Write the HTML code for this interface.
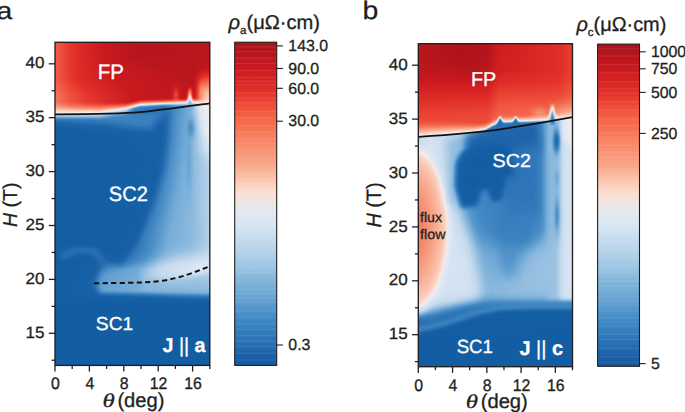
<!DOCTYPE html><html><head><meta charset="utf-8"><style>
html,body{margin:0;padding:0;background:#fff;width:685px;height:412px;overflow:hidden}
.hm{position:absolute;overflow:hidden}
.hm i{position:absolute;left:0;width:100%;height:1px;display:block}
svg{position:absolute;left:0;top:0}
</style></head><body>
<div class="hm" style="left:55px;top:42px;width:155px;height:324px"><i style="top:0px;background:linear-gradient(90deg,#f25e47 0.5px,#e83d31 12.5px,#de2c28 22.5px,#ca191f 50.5px,#b9161c 87.5px,#be171d 154.5px)"></i><i style="top:1px;background:linear-gradient(90deg,#f25e47 0.5px,#e83d31 12.5px,#de2c28 22.5px,#c9191f 50.5px,#b8161c 87.5px,#be171d 154.5px)"></i><i style="top:2px;background:linear-gradient(90deg,#f25e47 0.5px,#e83d31 12.5px,#de2c28 22.5px,#c9191f 50.5px,#b8161c 86.5px,#bc171d 144.5px,#bd171d 154.5px)"></i><i style="top:3px;background:linear-gradient(90deg,#f25e47 0.5px,#e83d31 12.5px,#de2c28 22.5px,#c9191f 50.5px,#b7151c 86.5px,#bc161d 141.5px,#bd171d 154.5px)"></i><i style="top:4px;background:linear-gradient(90deg,#f25e47 0.5px,#e83d31 12.5px,#de2c28 22.5px,#c8191f 50.5px,#b7151c 86.5px,#bb161d 138.5px,#bd171d 154.5px)"></i><i style="top:5px;background:linear-gradient(90deg,#f25e47 0.5px,#e83d31 12.5px,#de2c28 22.5px,#c9191f 49.5px,#b6151c 85.5px,#b9161c 130.5px,#bd171d 154.5px)"></i><i style="top:6px;background:linear-gradient(90deg,#f25e47 0.5px,#e83d31 12.5px,#de2c28 22.5px,#c9191f 49.5px,#b6151c 84.5px,#b8161c 125.5px,#bd171d 154.5px)"></i><i style="top:7px;background:linear-gradient(90deg,#f25e47 0.5px,#e83d31 12.5px,#de2c28 22.5px,#c9191f 49.5px,#b6151c 84.5px,#b8161c 124.5px,#bd171d 154.5px)"></i><i style="top:8px;background:linear-gradient(90deg,#f25e47 0.5px,#e83d31 12.5px,#de2c28 22.5px,#c9191f 49.5px,#b6151c 84.5px,#b8161c 124.5px,#bd171d 154.5px)"></i><i style="top:9px;background:linear-gradient(90deg,#f15d46 0.5px,#e83d31 12.5px,#de2c28 22.5px,#c9191f 49.5px,#b5151c 84.5px,#b8151c 124.5px,#bd171d 154.5px)"></i><i style="top:10px;background:linear-gradient(90deg,#f15d46 0.5px,#e83d31 12.5px,#de2c28 22.5px,#c9191f 49.5px,#b5151c 84.5px,#b8151c 124.5px,#bd171d 154.5px)"></i><i style="top:11px;background:linear-gradient(90deg,#f25e47 0.5px,#e83d31 12.5px,#de2c28 22.5px,#c9191f 49.5px,#b6151c 84.5px,#b8161c 125.5px,#bd171d 154.5px)"></i><i style="top:12px;background:linear-gradient(90deg,#f25e47 0.5px,#e83d31 12.5px,#de2c28 22.5px,#c9191f 49.5px,#b6151c 84.5px,#b8161c 127.5px,#bd171d 154.5px)"></i><i style="top:13px;background:linear-gradient(90deg,#f25e47 0.5px,#e83d31 12.5px,#de2c28 22.5px,#c9191f 49.5px,#b6151c 84.5px,#b9161c 143.5px,#bc171d 154.5px)"></i><i style="top:14px;background:linear-gradient(90deg,#f25e47 0.5px,#e83d31 12.5px,#de2c28 22.5px,#c9191f 49.5px,#b6151c 85.5px,#bb161d 149.5px,#bc171d 154.5px)"></i><i style="top:15px;background:linear-gradient(90deg,#f25e47 0.5px,#e83d31 12.5px,#de2c28 22.5px,#c8191f 50.5px,#b7151c 86.5px,#bc161d 152.5px,#bc171d 154.5px)"></i><i style="top:16px;background:linear-gradient(90deg,#f25e47 0.5px,#e83d31 12.5px,#de2c28 22.5px,#c9191f 50.5px,#b7151c 86.5px,#bb161d 150.5px,#bc161d 154.5px)"></i><i style="top:17px;background:linear-gradient(90deg,#f25e47 0.5px,#e83d31 12.5px,#de2c28 22.5px,#c9191f 50.5px,#b8161c 86.5px,#ba161d 149.5px,#bc161d 154.5px)"></i><i style="top:18px;background:linear-gradient(90deg,#f25e47 0.5px,#e83d31 12.5px,#de2c28 22.5px,#c9191f 50.5px,#b8161c 87.5px,#ba161d 149.5px,#bc161d 154.5px)"></i><i style="top:19px;background:linear-gradient(90deg,#f25e47 0.5px,#e83d31 12.5px,#de2c28 22.5px,#ca191f 50.5px,#b9161c 87.5px,#b9161c 148.5px,#bc161d 154.5px)"></i><i style="top:20px;background:linear-gradient(90deg,#f25e47 0.5px,#e83d31 12.5px,#de2c28 22.5px,#c9191f 51.5px,#ba161c 88.5px,#b9161c 147.5px,#bc161d 154.5px)"></i><i style="top:21px;background:linear-gradient(90deg,#f25e47 0.5px,#e83d31 12.5px,#de2c28 22.5px,#ca191f 51.5px,#ba161d 89.5px,#b7151c 136.5px,#bd171d 154.5px)"></i><i style="top:22px;background:linear-gradient(90deg,#f25e47 0.5px,#e83d31 12.5px,#de2c28 22.5px,#ca1a1f 51.5px,#bb161d 89.5px,#b7151c 134.5px,#bb161d 148.5px,#be171d 154.5px)"></i><i style="top:23px;background:linear-gradient(90deg,#f25e47 0.5px,#e83d31 12.5px,#de2c28 22.5px,#ca1a1f 52.5px,#bb161d 91.5px,#b8161c 133.5px,#b9161c 144.5px,#c0171d 154.5px)"></i><i style="top:24px;background:linear-gradient(90deg,#f25e47 0.5px,#e83d31 12.5px,#de2c28 22.5px,#ca1a1f 52.5px,#bc161d 92.5px,#b8161c 132.5px,#b8161c 142.5px,#c2181e 154.5px)"></i><i style="top:25px;background:linear-gradient(90deg,#f25e47 0.5px,#e83d31 12.5px,#de2c28 22.5px,#cb1a1f 52.5px,#bd171d 92.5px,#b8161c 132.5px,#b8151c 141.5px,#c6191e 154.5px)"></i><i style="top:26px;background:linear-gradient(90deg,#f25e47 0.5px,#e83d31 12.5px,#de2c28 22.5px,#cb1a1f 52.5px,#bd171d 93.5px,#b9161c 131.5px,#b7151c 140.5px,#c9191f 153.5px,#c9191f 154.5px)"></i><i style="top:27px;background:linear-gradient(90deg,#f25e47 0.5px,#e83d31 12.5px,#de2c28 22.5px,#cb1a1f 53.5px,#be171d 95.5px,#b9161c 131.5px,#b8151c 140.5px,#cc1a1f 152.5px,#cd1b1f 154.5px)"></i><i style="top:28px;background:linear-gradient(90deg,#f25e47 0.5px,#e83d31 12.5px,#df2d28 22.5px,#cb1a1f 53.5px,#be171d 96.5px,#b9161c 131.5px,#b7151c 139.5px,#ce1c20 150.5px,#d01e21 154.5px)"></i><i style="top:29px;background:linear-gradient(90deg,#f25e47 0.5px,#e83d31 12.5px,#df2d28 22.5px,#cb1a1f 53.5px,#bf171d 97.5px,#ba161c 131.5px,#b8151c 139.5px,#d01e21 149.5px,#d42223 154.5px)"></i><i style="top:30px;background:linear-gradient(90deg,#f25e47 0.5px,#e83d31 12.5px,#df2d28 22.5px,#cb1a1f 53.5px,#bf171d 98.5px,#ba161c 131.5px,#b8161c 139.5px,#d01e21 147.5px,#d72525 154.5px)"></i><i style="top:31px;background:linear-gradient(90deg,#f25e47 0.5px,#e83d31 12.5px,#df2d28 22.5px,#cc1a1f 53.5px,#bf171d 99.5px,#ba161d 131.5px,#b9161c 139.5px,#cf1d20 145.5px,#db2926 152.5px,#db2927 154.5px)"></i><i style="top:32px;background:linear-gradient(90deg,#f25e47 0.5px,#e83d32 12.5px,#df2d28 22.5px,#cc1a1f 53.5px,#c0171d 99.5px,#ba161c 132.5px,#b8161c 138.5px,#c5181e 142.5px,#d82625 147.5px,#df2d29 154.5px)"></i><i style="top:33px;background:linear-gradient(90deg,#f25e47 0.5px,#e83d32 12.5px,#df2d28 22.5px,#cc1a1f 54.5px,#c0171d 102.5px,#ba161c 133.5px,#b9161c 138.5px,#c7191e 142.5px,#dc2a27 147.5px,#e3322b 153.5px,#e3332c 154.5px)"></i><i style="top:34px;background:linear-gradient(90deg,#f25e47 0.5px,#e83e32 12.5px,#df2d28 22.5px,#cc1a1f 54.5px,#c0171d 102.5px,#ba161c 133.5px,#b9161c 138.5px,#ca1a1f 142.5px,#e02e29 147.5px,#e63a2f 152.5px,#e73b30 154.5px)"></i><i style="top:35px;background:linear-gradient(90deg,#f25f47 0.5px,#e94033 11.5px,#df2d29 22.5px,#cc1a1f 55.5px,#c0171d 104.5px,#ba161c 134.5px,#ba161d 138.5px,#c6191e 141.5px,#d82625 144.5px,#e4352d 147.5px,#e94134 151.5px,#ea4234 154.5px)"></i><i style="top:36px;background:linear-gradient(90deg,#f25f48 0.5px,#e94134 11.5px,#e02e29 22.5px,#cc1a1f 55.5px,#c0171d 103.5px,#ba161c 135.5px,#bb161d 138.5px,#cf1d21 142.5px,#e5382e 146.5px,#ed4938 151.5px,#ee4a39 154.5px)"></i><i style="top:37px;background:linear-gradient(90deg,#f26048 0.5px,#e94033 12.5px,#df2d29 23.5px,#cc1a1f 57.5px,#c0171d 105.5px,#bc161d 138.5px,#cb1a1f 141.5px,#e5382e 145.5px,#ed4938 148.5px,#f0523d 152.5px,#f0523e 154.5px)"></i><i style="top:38px;background:linear-gradient(90deg,#f26149 0.5px,#ea4335 11.5px,#e02e29 23.5px,#cc1a1f 58.5px,#c1171d 105.5px,#bb161d 134.5px,#bc171d 138.5px,#cd1b20 141.5px,#e4342c 144.5px,#ed4938 146.5px,#f15943 151.5px,#f15a44 154.5px)"></i><i style="top:39px;background:linear-gradient(90deg,#f2624a 0.5px,#eb4435 11.5px,#e02e29 24.5px,#cc1a1f 60.5px,#c1171d 105.5px,#bd171d 130.5px,#bd171d 138.5px,#cf1d20 141.5px,#df2d29 143.5px,#ed4938 145.5px,#f15641 147.5px,#f2624a 152.5px,#f2624a 154.5px)"></i><i style="top:40px;background:linear-gradient(90deg,#f2634b 0.5px,#ea4335 12.5px,#df2d29 25.5px,#cb1a1f 63.5px,#c1171d 107.5px,#c0171d 124.5px,#bc161d 137.5px,#c9191f 140.5px,#d92725 142.5px,#e3322b 143.5px,#f0513d 145.5px,#f25e47 147.5px,#f36a50 152.5px,#f36a50 154.5px)"></i><i style="top:41px;background:linear-gradient(90deg,#f2654c 0.5px,#eb4536 12.5px,#df2d29 26.5px,#cb1a1f 65.5px,#c1171d 107.5px,#c1181e 123.5px,#bc161d 137.5px,#cb1a1f 140.5px,#db2927 142.5px,#ee4a39 144.5px,#f15943 145.5px,#f2664d 147.5px,#f47256 152.5px,#f47256 154.5px)"></i><i style="top:42px;background:linear-gradient(90deg,#f2664d 0.5px,#ec4636 12.5px,#e02e29 26.5px,#cb1a1f 67.5px,#c1171d 108.5px,#c3181e 118.5px,#c5181e 122.5px,#be171d 130.5px,#bf171d 138.5px,#cc1a1f 140.5px,#de2c28 142.5px,#f0523d 144.5px,#f26149 145.5px,#f36e53 147.5px,#f47b5e 152.5px,#f47b5f 154.5px)"></i><i style="top:43px;background:linear-gradient(90deg,#f3684e 0.5px,#ec4837 12.5px,#e02e29 27.5px,#ca1a1f 69.5px,#c1171d 108.5px,#c3181e 117.5px,#c9191f 121.5px,#bf171d 127.5px,#bf171d 136.5px,#c0171d 138.5px,#cd1b20 140.5px,#e02e29 142.5px,#f15943 144.5px,#f3684f 145.5px,#f47559 147.5px,#f58467 151.5px,#f58467 154.5px)"></i><i style="top:44px;background:linear-gradient(90deg,#f36950 0.5px,#ec4737 13.5px,#e12f29 28.5px,#ca191f 71.5px,#c1171d 109.5px,#c4181e 117.5px,#cd1b20 120.5px,#c7191e 123.5px,#bf171d 127.5px,#c1181d 132.5px,#ca191f 134.5px,#c0171d 137.5px,#c7191e 139.5px,#ce1c20 140.5px,#e3312b 142.5px,#ed4938 143.5px,#f25f48 144.5px,#f36f54 145.5px,#f4795c 146.5px,#f58d6f 151.5px,#f58d70 154.5px)"></i><i style="top:45px;background:linear-gradient(90deg,#f36b51 0.5px,#ed4938 13.5px,#e12f29 29.5px,#c9191f 73.5px,#c0171d 111.5px,#c2181e 116.5px,#d11f21 120.5px,#c9191f 123.5px,#c0171d 126.5px,#c0171d 131.5px,#ce1c20 133.5px,#d52323 134.5px,#d42223 135.5px,#cc1a1f 136.5px,#c3181e 137.5px,#c2181e 138.5px,#cf1d21 140.5px,#d92725 141.5px,#e4352d 142.5px,#ef4e3b 143.5px,#f2654c 144.5px,#f47559 145.5px,#f58063 146.5px,#f69578 151.5px,#f69678 154.5px)"></i><i style="top:46px;background:linear-gradient(90deg,#f36c52 0.5px,#ed4838 14.5px,#e12f29 30.5px,#c9191f 74.5px,#c1171d 110.5px,#c3181e 116.5px,#d22022 119.5px,#d52324 121.5px,#c6191e 124.5px,#bf171d 128.5px,#c1181d 131.5px,#ca1a1f 132.5px,#e3312b 134.5px,#e12f29 135.5px,#c7191e 137.5px,#c3181e 138.5px,#d01e21 140.5px,#da2826 141.5px,#e6382f 142.5px,#f0523e 143.5px,#f36a50 144.5px,#f47c5f 145.5px,#f58669 146.5px,#f69d80 151.5px,#f69e80 154.5px)"></i><i style="top:47px;background:linear-gradient(90deg,#f36e53 0.5px,#ed4a38 14.5px,#e12f2a 31.5px,#c9191f 75.5px,#c1171d 110.5px,#c4181e 116.5px,#cf1d21 118.5px,#da2826 120.5px,#d52324 122.5px,#c8191e 124.5px,#c0171d 127.5px,#c3181e 131.5px,#ce1c20 132.5px,#e12f29 133.5px,#ed4938 134.5px,#eb4435 135.5px,#db2927 136.5px,#cb1a1f 137.5px,#c4181e 138.5px,#d11f22 140.5px,#db2927 141.5px,#e73b30 142.5px,#f15640 143.5px,#f58164 145.5px,#f58b6e 146.5px,#f7a488 151.5px,#f7a589 154.5px)"></i><i style="top:48px;background:linear-gradient(90deg,#f36f54 0.5px,#ed4938 15.5px,#e12f29 33.5px,#c9191f 76.5px,#c1171d 111.5px,#c4181e 116.5px,#d22022 118.5px,#df2d29 120.5px,#df2d29 121.5px,#ca1a1f 124.5px,#c1181d 126.5px,#c0171d 130.5px,#c4181e 131.5px,#d22022 132.5px,#e73d31 133.5px,#f25f48 134.5px,#f15943 135.5px,#e2312b 136.5px,#ce1c20 137.5px,#c6191e 138.5px,#ca1a1f 139.5px,#dc2a27 141.5px,#e83e32 142.5px,#f15943 143.5px,#f58568 145.5px,#f59072 146.5px,#f7a083 149.5px,#f7aa8f 151.5px,#f8ab90 154.5px)"></i><i style="top:49px;background:linear-gradient(90deg,#f47155 0.5px,#ee4b39 15.5px,#e2302a 33.5px,#c8191e 77.5px,#c1171d 111.5px,#c2181e 115.5px,#cc1a1f 117.5px,#e3332c 120.5px,#e3332c 121.5px,#cc1a1f 124.5px,#c1181d 126.5px,#c0171d 130.5px,#c6191e 131.5px,#d62424 132.5px,#ee4b39 133.5px,#f47458 134.5px,#f36d52 135.5px,#e83e32 136.5px,#d11f22 137.5px,#c7191e 138.5px,#cb1a1f 139.5px,#dd2b28 141.5px,#e94033 142.5px,#f15b45 143.5px,#f5886b 145.5px,#f69375 146.5px,#f7a589 149.5px,#f8b096 151.5px,#f8b197 154.5px)"></i><i style="top:50px;background:linear-gradient(90deg,#f47256 0.5px,#ee4c3a 15.5px,#e2302a 34.5px,#c9191f 77.5px,#c1171d 110.5px,#c2181e 115.5px,#cd1b20 117.5px,#e12f29 119.5px,#e73b30 120.5px,#e73a30 121.5px,#d62424 123.5px,#cd1b20 124.5px,#c1181e 126.5px,#c1171d 130.5px,#c8191e 131.5px,#da2826 132.5px,#f15a43 133.5px,#f58c6f 134.5px,#f58366 135.5px,#ee4b39 136.5px,#d42223 137.5px,#c9191f 138.5px,#cb1a1f 139.5px,#de2c28 141.5px,#ea4234 142.5px,#f15d46 143.5px,#f58a6d 145.5px,#f69b7d 147.5px,#f9b69d 151.5px,#f9b79e 154.5px)"></i><i style="top:51px;background:linear-gradient(90deg,#f47357 0.5px,#ef4d3a 15.5px,#e2302a 35.5px,#c8191e 78.5px,#c1171d 111.5px,#c2181e 115.5px,#ce1c20 117.5px,#e3322b 119.5px,#e94033 120.5px,#e94033 121.5px,#e3322b 122.5px,#ce1c20 124.5px,#c2181e 126.5px,#c1181e 130.5px,#ca1a1f 131.5px,#df2d29 132.5px,#f3684f 133.5px,#f7a286 134.5px,#f69a7c 135.5px,#f15842 136.5px,#d82625 137.5px,#cb1a1f 138.5px,#cc1a1f 139.5px,#df2d28 141.5px,#ea4335 142.5px,#f4775b 144.5px,#f58c6e 145.5px,#f69d80 147.5px,#f9b69d 150.5px,#f9bca4 152.5px,#f9bca4 154.5px)"></i><i style="top:52px;background:linear-gradient(90deg,#f47458 0.5px,#ef4e3b 15.5px,#e2312b 35.5px,#c8191e 78.5px,#c1171d 109.5px,#c2181e 115.5px,#cf1d20 117.5px,#e4352d 119.5px,#ea4334 120.5px,#ea4334 121.5px,#e4352d 122.5px,#ce1c20 124.5px,#c2181e 126.5px,#c2181e 130.5px,#cd1b1f 131.5px,#e4342d 132.5px,#f4795d 133.5px,#f9b79e 134.5px,#f8ad93 135.5px,#f2664d 136.5px,#dd2b27 137.5px,#cd1b1f 138.5px,#cd1b1f 139.5px,#df2d29 141.5px,#ea4335 142.5px,#f4775b 144.5px,#f58c6f 145.5px,#f69f82 147.5px,#f9baa2 150.5px,#f9bfa9 151.5px,#f9c0aa 154.5px)"></i><i style="top:53px;background:linear-gradient(90deg,#f4765a 0.5px,#f0513d 14.5px,#e3332c 34.5px,#c9191f 77.5px,#c1181d 106.5px,#c2181e 115.5px,#cf1d20 117.5px,#e4352d 119.5px,#ea4334 120.5px,#ea4334 121.5px,#e4352d 122.5px,#ce1c20 124.5px,#c2181e 126.5px,#c0171d 129.5px,#c3181e 130.5px,#cf1d21 131.5px,#e83f32 132.5px,#f58e70 133.5px,#facdba 134.5px,#fac2ad 135.5px,#f4765a 136.5px,#e2302a 137.5px,#ce1c20 138.5px,#cd1b20 139.5px,#df2d29 141.5px,#eb4435 142.5px,#f4775a 144.5px,#f58c6e 145.5px,#f7a184 147.5px,#f9bea6 150.5px,#fac3ae 151.5px,#fac4af 154.5px)"></i><i style="top:54px;background:linear-gradient(90deg,#f4775b 0.5px,#f0523e 14.5px,#e4342c 34.5px,#c9191f 77.5px,#c1181d 105.5px,#c2181e 115.5px,#ce1c20 117.5px,#e3322b 119.5px,#e94033 120.5px,#e94033 121.5px,#e3322b 122.5px,#ce1c20 124.5px,#c2181e 126.5px,#c0171d 129.5px,#c4181e 130.5px,#d22022 131.5px,#ee4a39 132.5px,#f7a487 133.5px,#f7e2da 134.5px,#fad9cc 135.5px,#f58b6e 136.5px,#e63a2f 137.5px,#d11f21 138.5px,#ce1c20 139.5px,#df2d29 141.5px,#eb4435 142.5px,#f47559 144.5px,#f58b6d 145.5px,#f9b79e 149.5px,#fac6b2 151.5px,#fac7b3 154.5px)"></i><i style="top:55px;background:linear-gradient(90deg,#f4775b 0.5px,#f0533e 14.5px,#e4352d 34.5px,#c9191f 77.5px,#c1181d 104.5px,#c2181e 115.5px,#cd1b20 117.5px,#e12f29 119.5px,#e73b30 120.5px,#e73b30 121.5px,#d62424 123.5px,#cd1b20 124.5px,#c2181e 126.5px,#c0171d 129.5px,#c5181e 130.5px,#d52324 131.5px,#f15742 132.5px,#f9b9a1 133.5px,#e8ebf2 134.5px,#f1eae9 135.5px,#f7a285 136.5px,#ec4737 137.5px,#d52324 138.5px,#d11f22 139.5px,#e12f2a 141.5px,#f15d46 143.5px,#f5896c 145.5px,#f8ae93 148.5px,#fac3ae 150.5px,#fac9b5 151.5px,#facab6 154.5px)"></i><i style="top:56px;background:linear-gradient(90deg,#f4785c 0.5px,#f0533f 14.5px,#e4352d 34.5px,#ca191f 77.5px,#c3181e 98.5px,#ca1a1f 115.5px,#d22022 117.5px,#e73c31 120.5px,#e83d31 121.5px,#d32123 124.5px,#cd1b1f 127.5px,#ce1c20 129.5px,#d32123 130.5px,#e3322b 131.5px,#f47156 132.5px,#fbd5c5 133.5px,#dae6f3 134.5px,#e0e8f3 135.5px,#f9bfa9 136.5px,#f2654c 137.5px,#e5382e 138.5px,#e12f2a 139.5px,#e5362e 140.5px,#f15540 142.5px,#f59072 145.5px,#fac6b1 150.5px,#facbb8 151.5px,#facbb9 154.5px)"></i><i style="top:57px;background:linear-gradient(90deg,#f4785c 0.5px,#f15640 13.5px,#e5362e 33.5px,#ca1a1f 76.5px,#c9191f 83.5px,#cd1b20 88.5px,#dc2a27 115.5px,#e2302a 117.5px,#ef4f3b 120.5px,#f04f3c 121.5px,#e4362d 124.5px,#e2302a 126.5px,#e4342c 129.5px,#e83d31 130.5px,#f15943 131.5px,#f69c7e 132.5px,#f0eaeb 133.5px,#caddef 134.5px,#d0e0f1 135.5px,#f8dfd5 136.5px,#f69173 137.5px,#f26149 138.5px,#f15842 139.5px,#f2644b 141.5px,#f36f54 142.5px,#f69f82 145.5px,#faccb9 150.5px,#fad0bf 151.5px,#facfbd 154.5px)"></i><i style="top:58px;background:linear-gradient(90deg,#f4785c 0.5px,#f15640 13.5px,#e5372e 33.5px,#ca1a1f 76.5px,#cd1b20 80.5px,#dd2b27 86.5px,#e5362d 99.5px,#f0543f 116.5px,#f36d53 120.5px,#f36b51 122.5px,#f25f48 125.5px,#f2654c 129.5px,#f36e53 130.5px,#f58d6f 131.5px,#fac7b2 132.5px,#dde7f3 133.5px,#b7d2ea 134.5px,#bed6ec 135.5px,#e4eaf2 136.5px,#f9c1ab 137.5px,#f69b7d 138.5px,#f59072 139.5px,#f69476 141.5px,#f8ac91 144.5px,#fbd4c4 150.5px,#fbd6c7 152.5px,#fbd4c4 154.5px)"></i><i style="top:59px;background:linear-gradient(90deg,#f4795d 0.5px,#f15641 13.5px,#e5372e 33.5px,#cd1b1f 73.5px,#d42223 78.5px,#e4342c 82.5px,#ee4c3a 85.5px,#f47156 106.5px,#f69174 117.5px,#f7a083 120.5px,#f7a184 126.5px,#f7a88d 129.5px,#f8b198 130.5px,#fac9b5 131.5px,#eeebec 132.5px,#caddef 133.5px,#a4c7e5 134.5px,#aacae6 135.5px,#d1e1f1 136.5px,#efeaec 137.5px,#fbd8ca 138.5px,#fbd1c0 139.5px,#facab7 142.5px,#fbd8ca 148.5px,#f9ded4 151.5px,#fadbcf 154.5px)"></i><i style="top:60px;background:linear-gradient(90deg,#f47d61 0.5px,#f2664d 8.5px,#ec4837 24.5px,#de2c28 50.5px,#d42223 71.5px,#dd2b27 76.5px,#e83e32 79.5px,#f15b44 82.5px,#f4795d 85.5px,#f7a487 101.5px,#fac9b5 113.5px,#f8dfd5 122.5px,#f3eae7 128.5px,#eaebf0 130.5px,#e2e9f2 131.5px,#d1e1f1 132.5px,#94bee0 134.5px,#98c0e1 135.5px,#b9d3ea 136.5px,#d2e1f1 137.5px,#dde7f3 138.5px,#edebee 143.5px,#f5e8e4 148.5px,#f7e4dc 154.5px)"></i><i style="top:61px;background:linear-gradient(90deg,#f58367 0.5px,#f36c52 8.5px,#ee4b39 27.5px,#e12f2a 57.5px,#df2d28 70.5px,#e6392f 74.5px,#f15b45 78.5px,#f47155 80.5px,#f69d80 83.5px,#f8ac91 84.5px,#f8b59c 85.5px,#f9ded3 99.5px,#f2eae9 104.5px,#e7ebf2 107.5px,#d6e4f2 118.5px,#c9dcef 130.5px,#c5daee 131.5px,#b7d2ea 132.5px,#8ab9de 134.5px,#8ebbdf 135.5px,#a7c9e5 136.5px,#bad4eb 137.5px,#c5daee 138.5px,#e1e8f3 143.5px,#eeebec 149.5px,#f1eae9 154.5px)"></i><i style="top:62px;background:linear-gradient(90deg,#f58b6e 0.5px,#f36f54 10.5px,#f0523e 30.5px,#ea4134 52.5px,#eb4435 69.5px,#f15741 73.5px,#f47155 76.5px,#f69c7e 79.5px,#fac8b5 82.5px,#fad9cb 83.5px,#f6e7e2 84.5px,#eeebec 85.5px,#e6eaf2 88.5px,#cedff0 97.5px,#bcd4eb 102.5px,#99c1e2 110.5px,#97c0e1 114.5px,#9dc3e3 121.5px,#9ac1e2 132.5px,#80b3db 134.5px,#83b5dc 135.5px,#a2c6e4 137.5px,#b1cee8 139.5px,#d1e1f1 142.5px,#e2e9f2 145.5px,#efeaec 151.5px,#efeaeb 154.5px)"></i><i style="top:63px;background:linear-gradient(90deg,#f69477 0.5px,#f47257 14.5px,#f15943 37.5px,#f0533e 50.5px,#f15d46 65.5px,#f3684f 70.5px,#f58265 73.5px,#f69a7d 75.5px,#fac5b1 78.5px,#fbd5c6 79.5px,#f7e4dc 80.5px,#ebebef 81.5px,#d3e2f1 83.5px,#bad4eb 85.5px,#a7c9e5 90.5px,#76add8 97.5px,#5193c9 105.5px,#488dc6 110.5px,#5395ca 115.5px,#63a0d0 120.5px,#70a8d5 130.5px,#7ab0d9 132.5px,#75acd7 134.5px,#78aed8 135.5px,#a0c5e3 139.5px,#c9dcef 142.5px,#e0e8f3 145.5px,#eeebec 151.5px,#efeaeb 154.5px)"></i><i style="top:64px;background:linear-gradient(90deg,#f69e81 0.5px,#f47d61 16.5px,#f36c52 32.5px,#f2644c 47.5px,#f47458 61.5px,#f58e70 69.5px,#f7a083 71.5px,#fac3ae 74.5px,#f8e1d7 76.5px,#f0eaeb 77.5px,#e1e9f2 78.5px,#c7dbef 80.5px,#72aad6 84.5px,#68a3d2 85.5px,#3981c0 97.5px,#2f77b8 109.5px,#3a82c0 116.5px,#4c8fc7 122.5px,#5d9bce 129.5px,#70a9d5 133.5px,#76add8 135.5px,#93bde0 138.5px,#c9dcef 142.5px,#dfe8f3 145.5px,#eeebec 151.5px,#efeaeb 154.5px)"></i><i style="top:65px;background:linear-gradient(90deg,#f7a98d 0.5px,#f58f72 15.5px,#f47a5d 39.5px,#f4785b 46.5px,#f58d6f 57.5px,#f7a488 64.5px,#f9bca5 69.5px,#fac5b1 70.5px,#f9dfd4 72.5px,#f4eae7 73.5px,#e6eaf2 74.5px,#cfe0f0 76.5px,#bdd6ec 77.5px,#74acd7 80.5px,#5293ca 82.5px,#3e85c2 84.5px,#377fbe 87.5px,#2970b3 104.5px,#2b73b5 111.5px,#5092c9 124.5px,#72aad6 134.5px,#88b7dd 137.5px,#c8dcef 142.5px,#dee8f3 145.5px,#eeebec 151.5px,#efeaeb 154.5px)"></i><i style="top:66px;background:linear-gradient(90deg,#f8b49b 0.5px,#f69e81 18.5px,#f59072 45.5px,#f7a588 54.5px,#f9bea7 61.5px,#f9dfd4 67.5px,#f4eae7 69.5px,#eaebf0 70.5px,#dbe6f3 72.5px,#c1d8ed 74.5px,#8ebbdf 76.5px,#5c9bce 78.5px,#4288c3 80.5px,#3a82c0 81.5px,#2d75b6 93.5px,#2a71b4 110.5px,#3b83c0 117.5px,#5193ca 124.5px,#78afd9 135.5px,#93bee0 138.5px,#c7dbef 142.5px,#dee7f3 145.5px,#eeebec 151.5px,#f0eaeb 154.5px)"></i><i style="top:67px;background:linear-gradient(90deg,#f9c0aa 0.5px,#f8b096 18.5px,#f7a98d 45.5px,#f9c0aa 53.5px,#f8dfd5 60.5px,#f5eae5 62.5px,#e7eaf2 65.5px,#dae6f3 69.5px,#caddef 71.5px,#bbd4eb 72.5px,#a6c8e5 73.5px,#6fa8d5 75.5px,#5898cc 76.5px,#4087c3 78.5px,#3880bf 80.5px,#2d75b7 93.5px,#2970b3 110.5px,#3b83c1 117.5px,#5092c9 123.5px,#7aafd9 135.5px,#93bee0 138.5px,#c6dbee 142.5px,#dde7f3 145.5px,#eeebec 151.5px,#f0eaeb 154.5px)"></i><i style="top:68px;background:linear-gradient(90deg,#facebc 0.5px,#fac2ad 21.5px,#fac2ad 45.5px,#f8e0d6 53.5px,#f2eae9 56.5px,#e8ebf2 58.5px,#d0e0f1 66.5px,#c0d7ed 69.5px,#a4c7e4 71.5px,#79afd9 73.5px,#5898cc 75.5px,#3c84c1 78.5px,#3179ba 85.5px,#2970b3 110.5px,#3880be 116.5px,#4e91c8 122.5px,#7ab0d9 135.5px,#93bee0 138.5px,#c5daee 142.5px,#dce7f3 145.5px,#eeebed 151.5px,#efeaeb 154.5px)"></i><i style="top:69px;background:linear-gradient(90deg,#fadbcf 0.5px,#fbd8ca 25.5px,#f9ddd1 45.5px,#f3eae8 49.5px,#e7ebf2 52.5px,#cddff0 61.5px,#c0d7ec 64.5px,#a3c7e4 68.5px,#75acd7 72.5px,#4e91c8 75.5px,#3981bf 78.5px,#3078b9 90.5px,#2a72b4 105.5px,#2970b3 111.5px,#3b83c1 117.5px,#4f92c9 122.5px,#7bb0da 135.5px,#93bde0 138.5px,#c4daee 142.5px,#dce7f3 145.5px,#eeebed 151.5px,#efeaeb 154.5px)"></i><i style="top:70px;background:linear-gradient(90deg,#f6e8e3 0.5px,#efeaec 34.5px,#e8ebf2 45.5px,#d0e0f1 54.5px,#c0d7ed 58.5px,#8cb9de 67.5px,#69a4d3 71.5px,#4b8fc7 74.5px,#3981bf 77.5px,#3179ba 88.5px,#2d75b7 103.5px,#276eb1 110.5px,#3078b9 114.5px,#4d90c8 121.5px,#7bb0da 135.5px,#92bde0 138.5px,#ccdef0 143.5px,#e0e8f3 146.5px,#eeebec 152.5px,#efeaeb 154.5px)"></i><i style="top:71px;background:linear-gradient(90deg,#e4e9f2 0.5px,#d9e5f3 45.5px,#c1d7ed 52.5px,#8cbade 62.5px,#3c84c1 75.5px,#337bbb 82.5px,#2f77b8 102.5px,#266cb0 110.5px,#2f77b8 114.5px,#4e90c8 121.5px,#7ab0d9 135.5px,#91bde0 138.5px,#cbddef 143.5px,#dfe8f3 146.5px,#eeebec 152.5px,#efeaeb 154.5px)"></i><i style="top:72px;background:linear-gradient(90deg,#d2e1f1 0.5px,#c5daee 45.5px,#9cc2e2 54.5px,#5898cc 66.5px,#3981bf 75.5px,#347cbc 88.5px,#327aba 101.5px,#256baf 110.5px,#2f77b8 114.5px,#4e91c8 121.5px,#73abd7 133.5px,#7fb2db 136.5px,#9bc2e2 139.5px,#caddef 143.5px,#dee7f3 146.5px,#eeebec 152.5px,#efeaeb 154.5px)"></i><i style="top:73px;background:linear-gradient(90deg,#b6d1ea 0.5px,#b0cee8 17.5px,#adcce7 44.5px,#9fc4e3 48.5px,#5c9bce 60.5px,#478cc5 67.5px,#3880be 76.5px,#337bbb 100.5px,#2469ae 110.5px,#2e76b8 114.5px,#4f91c8 121.5px,#71aad6 132.5px,#7db1da 136.5px,#9ac1e2 139.5px,#c8dcef 143.5px,#dde7f3 146.5px,#eeebed 152.5px,#efeaeb 154.5px)"></i><i style="top:74px;background:linear-gradient(90deg,#94bee0 0.5px,#95bfe1 14.5px,#92bde0 22.5px,#94bee0 43.5px,#84b5dc 47.5px,#5596cb 56.5px,#4187c3 66.5px,#377fbe 80.5px,#357dbc 99.5px,#2367ad 109.5px,#276db1 112.5px,#4c8fc7 120.5px,#70a9d5 131.5px,#75acd7 135.5px,#82b4db 137.5px,#c7dbef 143.5px,#dde7f3 146.5px,#eeebed 152.5px,#efeaeb 154.5px)"></i><i style="top:75px;background:linear-gradient(90deg,#6ba6d4 0.5px,#6fa8d5 14.5px,#6da6d4 22.5px,#71a9d6 43.5px,#5e9ccf 48.5px,#4d90c8 53.5px,#3f85c2 63.5px,#3880bf 87.5px,#357dbc 99.5px,#2266ac 109.5px,#266cb0 112.5px,#4c8fc7 120.5px,#70a9d5 131.5px,#72aad6 135.5px,#7eb2db 137.5px,#c6dbee 143.5px,#e0e8f3 147.5px,#eeebec 153.5px,#efeaec 154.5px)"></i><i style="top:76px;background:linear-gradient(90deg,#488cc6 0.5px,#4c8fc7 15.5px,#5093c9 44.5px,#3d85c1 56.5px,#367ebd 98.5px,#2165ab 108.5px,#2367ad 111.5px,#3d84c1 117.5px,#5092c9 121.5px,#6ea8d5 130.5px,#6ea7d5 135.5px,#7ab0d9 137.5px,#c5daee 143.5px,#dfe8f3 147.5px,#eeebec 153.5px,#efeaec 154.5px)"></i><i style="top:77px;background:linear-gradient(90deg,#347cbc 0.5px,#3d84c1 45.5px,#3981bf 62.5px,#3880be 96.5px,#2970b3 103.5px,#2065ab 107.5px,#2266ac 111.5px,#3d84c1 117.5px,#5092c9 121.5px,#6fa8d5 130.5px,#6aa4d3 135.5px,#76add8 137.5px,#c4d9ee 143.5px,#dfe8f3 147.5px,#eeebed 153.5px,#efeaec 154.5px)"></i><i style="top:78px;background:linear-gradient(90deg,#2b73b5 0.5px,#3a82c0 81.5px,#377fbe 96.5px,#276db1 103.5px,#1e64aa 107.5px,#2266ac 111.5px,#4489c4 118.5px,#6fa8d5 130.5px,#69a4d3 133.5px,#65a1d1 135.5px,#69a4d3 136.5px,#7eb2db 138.5px,#abcbe6 141.5px,#cbddef 144.5px,#dee7f3 147.5px,#eeebed 153.5px,#efeaec 154.5px)"></i><i style="top:79px;background:linear-gradient(90deg,#256baf 0.5px,#3a82c0 83.5px,#367ebd 96.5px,#2065ab 105.5px,#1d64a9 109.5px,#256aaf 112.5px,#498dc6 119.5px,#6ea8d5 130.5px,#66a2d2 133.5px,#609dcf 135.5px,#63a0d0 136.5px,#7ab0d9 138.5px,#a9cae6 141.5px,#caddef 144.5px,#dde7f3 147.5px,#edebed 153.5px,#eeebec 154.5px)"></i><i style="top:80px;background:linear-gradient(90deg,#2165ab 0.5px,#337bbb 60.5px,#3880bf 93.5px,#2a72b4 100.5px,#2065ab 104.5px,#1c63a9 109.5px,#256aaf 112.5px,#4a8ec6 119.5px,#6da7d4 129.5px,#6da7d4 131.5px,#5a9acd 135.5px,#5d9cce 136.5px,#76add8 138.5px,#a8c9e6 141.5px,#c9dcef 144.5px,#e1e8f3 148.5px,#eeebec 154.5px)"></i><i style="top:81px;background:linear-gradient(90deg,#1c63a9 0.5px,#276db1 41.5px,#3880be 84.5px,#347cbc 95.5px,#1e64aa 104.5px,#1b63a8 109.5px,#256baf 112.5px,#4a8ec7 119.5px,#6da7d4 129.5px,#6ca6d4 131.5px,#5596cb 135.5px,#5898cc 136.5px,#639fd0 137.5px,#a7c8e5 141.5px,#c7dbef 144.5px,#e0e8f3 148.5px,#eeebec 154.5px)"></i><i style="top:82px;background:linear-gradient(90deg,#1962a7 0.5px,#256aaf 45.5px,#377fbd 85.5px,#347cbc 94.5px,#1e64aa 103.5px,#1962a7 108.5px,#2166ac 111.5px,#468bc5 118.5px,#6da7d4 129.5px,#6ca6d4 131.5px,#5596cb 134.5px,#5294ca 135.5px,#5495cb 136.5px,#5e9ccf 137.5px,#a5c8e5 141.5px,#c6dbee 144.5px,#dfe8f3 148.5px,#eeebed 154.5px)"></i><i style="top:83px;background:linear-gradient(90deg,#1761a6 0.5px,#2468ae 51.5px,#357dbc 88.5px,#3078b9 95.5px,#1e64aa 102.5px,#1862a7 107.5px,#2166ac 111.5px,#4086c2 117.5px,#5293ca 121.5px,#6da7d4 129.5px,#6ba5d3 131.5px,#5395ca 134.5px,#4f92c9 135.5px,#5193c9 136.5px,#5b9acd 137.5px,#93bee0 140.5px,#b0cee8 142.5px,#c6daee 144.5px,#dfe8f3 148.5px,#eeebed 154.5px)"></i><i style="top:84px;background:linear-gradient(90deg,#1560a4 0.5px,#2065ab 51.5px,#327aba 90.5px,#2b73b5 96.5px,#1e64aa 101.5px,#1861a6 107.5px,#2266ac 111.5px,#4087c3 117.5px,#5294ca 121.5px,#6da7d4 129.5px,#6ba5d3 131.5px,#5193ca 134.5px,#4e90c8 135.5px,#4f92c9 136.5px,#5898cc 137.5px,#92bde0 140.5px,#afcde7 142.5px,#ccdef0 145.5px,#dee7f3 148.5px,#edebed 154.5px)"></i><i style="top:85px;background:linear-gradient(90deg,#145fa3 0.5px,#1c63a9 51.5px,#276db1 71.5px,#2f77b8 91.5px,#266cb0 97.5px,#1a62a8 102.5px,#1862a7 108.5px,#2266ac 111.5px,#4187c3 117.5px,#5d9cce 124.5px,#6ea7d4 129.5px,#6aa5d3 131.5px,#5193c9 134.5px,#4d90c8 135.5px,#4e91c8 136.5px,#5797cc 137.5px,#91bcdf 140.5px,#aecce7 142.5px,#cbddef 145.5px,#e1e8f3 149.5px,#edebee 154.5px)"></i><i style="top:86px;background:linear-gradient(90deg,#145ea3 0.5px,#1a62a8 54.5px,#256baf 76.5px,#2b73b5 91.5px,#1e64aa 99.5px,#1660a5 105.5px,#1b63a8 109.5px,#2266ac 111.5px,#4187c3 117.5px,#65a1d1 126.5px,#6ea7d5 130.5px,#63a0d0 132.5px,#5193c9 134.5px,#4d90c8 135.5px,#4e91c8 136.5px,#5797cc 137.5px,#90bcdf 140.5px,#adcce7 142.5px,#c9ddef 145.5px,#e0e8f3 149.5px,#ecebee 154.5px)"></i><i style="top:87px;background:linear-gradient(90deg,#135ea2 0.5px,#1962a7 59.5px,#256baf 83.5px,#276eb1 92.5px,#1660a5 103.5px,#1b63a8 109.5px,#2266ac 111.5px,#4187c3 117.5px,#69a4d3 127.5px,#6ea7d5 130.5px,#63a0d1 132.5px,#5193c9 134.5px,#4d90c8 135.5px,#4f92c9 136.5px,#5898cc 137.5px,#90bcdf 140.5px,#accbe7 142.5px,#cfe0f0 146.5px,#e3e9f2 150.5px,#ecebef 154.5px)"></i><i style="top:88px;background:linear-gradient(90deg,#135ea2 0.5px,#1962a7 65.5px,#2469ae 92.5px,#1660a5 104.5px,#1b63a8 109.5px,#2267ac 111.5px,#4288c3 117.5px,#6ca6d4 128.5px,#6ea7d5 130.5px,#64a0d1 132.5px,#5394ca 134.5px,#4f92c9 135.5px,#5193c9 136.5px,#5a9acd 137.5px,#91bcdf 140.5px,#abcbe7 142.5px,#cedff0 146.5px,#dee8f3 149.5px,#ebebf0 154.5px)"></i><i style="top:89px;background:linear-gradient(90deg,#135ea2 0.5px,#1862a7 71.5px,#1f65ab 93.5px,#1560a4 104.5px,#1b63a8 109.5px,#2367ad 111.5px,#488cc6 118.5px,#6ea8d5 129.5px,#6ca6d4 131.5px,#5596cb 134.5px,#5395ca 136.5px,#5e9cce 137.5px,#91bde0 140.5px,#abcbe6 142.5px,#cddff0 146.5px,#e1e8f3 150.5px,#e9ebf1 154.5px)"></i><i style="top:90px;background:linear-gradient(90deg,#135da2 0.5px,#1861a6 77.5px,#1b63a8 94.5px,#1560a4 105.5px,#1b63a8 109.5px,#2367ad 111.5px,#488dc6 118.5px,#6fa8d5 129.5px,#6ca6d4 131.5px,#5898cc 134.5px,#5496cb 135.5px,#5798cc 136.5px,#71a9d6 138.5px,#a0c4e3 141.5px,#c5daee 145.5px,#dce7f3 149.5px,#e8ebf2 154.5px)"></i><i style="top:91px;background:linear-gradient(90deg,#135da2 0.5px,#1861a6 84.5px,#1660a5 97.5px,#1761a6 107.5px,#2368ad 111.5px,#498dc6 118.5px,#6fa8d5 129.5px,#6da7d4 131.5px,#5b9acd 134.5px,#5999cd 135.5px,#5c9bce 136.5px,#74acd7 138.5px,#a0c4e3 141.5px,#caddef 146.5px,#dfe8f3 150.5px,#e7ebf2 154.5px)"></i><i style="top:92px;background:linear-gradient(90deg,#135da2 0.5px,#1761a6 107.5px,#2368ad 111.5px,#498dc6 118.5px,#6fa8d5 129.5px,#6ea7d5 131.5px,#5f9dcf 134.5px,#5e9cce 135.5px,#629fd0 136.5px,#78aed8 138.5px,#a0c5e3 141.5px,#c9dcef 146.5px,#dde7f3 150.5px,#e5eaf2 154.5px)"></i><i style="top:93px;background:linear-gradient(90deg,#135da2 0.5px,#1761a6 107.5px,#2468ae 111.5px,#498dc6 118.5px,#70a8d5 129.5px,#6ba5d3 132.5px,#629fd0 135.5px,#6fa8d5 137.5px,#a0c5e3 141.5px,#c8dcef 146.5px,#dee8f3 151.5px,#e4e9f2 154.5px)"></i><i style="top:94px;background:linear-gradient(90deg,#135da2 0.5px,#1660a5 106.5px,#2065ab 110.5px,#4a8dc6 118.5px,#70a9d5 129.5px,#6ca6d4 132.5px,#67a2d2 135.5px,#74abd7 137.5px,#a0c5e3 141.5px,#ccdef0 147.5px,#dde7f3 151.5px,#e2e9f2 154.5px)"></i><i style="top:95px;background:linear-gradient(90deg,#135da2 0.5px,#1660a5 106.5px,#2065ab 110.5px,#4a8ec6 118.5px,#70a9d5 129.5px,#6ea7d4 132.5px,#6ba5d3 135.5px,#78aed8 137.5px,#a8c9e6 142.5px,#cbddef 147.5px,#dee7f3 152.5px,#e1e8f3 154.5px)"></i><i style="top:96px;background:linear-gradient(90deg,#135da2 0.5px,#1660a5 106.5px,#2065ab 110.5px,#458ac5 117.5px,#70a9d6 129.5px,#6ca6d4 134.5px,#73abd7 136.5px,#a8c9e5 142.5px,#c9ddef 147.5px,#dce7f3 152.5px,#dfe8f3 154.5px)"></i><i style="top:97px;background:linear-gradient(90deg,#135da2 0.5px,#1560a4 105.5px,#1d64a9 109.5px,#256aaf 111.5px,#468bc5 117.5px,#71a9d6 129.5px,#6ea7d5 134.5px,#7eb2db 137.5px,#aecce7 143.5px,#c8dcef 147.5px,#dbe6f3 152.5px,#dee7f3 154.5px)"></i><i style="top:98px;background:linear-gradient(90deg,#135da2 0.5px,#1660a5 105.5px,#1d64a9 109.5px,#266bb0 111.5px,#468bc5 117.5px,#71a9d6 129.5px,#6fa8d5 134.5px,#81b4db 137.5px,#c2d8ed 146.5px,#dae6f3 152.5px,#dde7f3 154.5px)"></i><i style="top:99px;background:linear-gradient(90deg,#135da2 0.5px,#1660a5 105.5px,#1e64aa 109.5px,#266cb0 111.5px,#478cc5 117.5px,#71aad6 129.5px,#70a9d5 134.5px,#83b5dc 137.5px,#c7dbee 147.5px,#dae6f3 153.5px,#dce7f3 154.5px)"></i><i style="top:100px;background:linear-gradient(90deg,#135da2 0.5px,#1660a5 105.5px,#1e64aa 109.5px,#266cb0 111.5px,#4288c3 116.5px,#65a1d1 125.5px,#72aad6 130.5px,#71a9d6 134.5px,#c6daee 147.5px,#dae6f3 153.5px,#dbe6f3 154.5px)"></i><i style="top:101px;background:linear-gradient(90deg,#135da2 0.5px,#1660a5 105.5px,#1e64aa 109.5px,#276db1 111.5px,#488cc6 117.5px,#72aad6 129.5px,#71aad6 134.5px,#c5daee 147.5px,#dae6f3 154.5px)"></i><i style="top:102px;background:linear-gradient(90deg,#135da2 0.5px,#155fa4 104.5px,#1f65aa 109.5px,#498dc6 117.5px,#72aad6 129.5px,#71aad6 134.5px,#abcbe7 143.5px,#c9dcef 148.5px,#dae6f3 154.5px)"></i><i style="top:103px;background:linear-gradient(90deg,#135da2 0.5px,#1560a4 104.5px,#1c63a9 108.5px,#286fb2 111.5px,#498dc6 117.5px,#72aad6 129.5px,#71a9d6 134.5px,#a5c8e5 142.5px,#c8dcef 148.5px,#d9e6f3 154.5px)"></i><i style="top:104px;background:linear-gradient(90deg,#135da2 0.5px,#1560a4 104.5px,#1c63a9 108.5px,#2970b3 111.5px,#4a8ec6 117.5px,#72aad6 129.5px,#71a9d6 134.5px,#99c1e2 140.5px,#cbddef 149.5px,#d8e5f3 154.5px)"></i><i style="top:105px;background:linear-gradient(90deg,#135da2 0.5px,#1560a4 104.5px,#1d64a9 108.5px,#256aaf 110.5px,#4a8ec7 117.5px,#73aad6 129.5px,#70a9d6 134.5px,#99c1e2 140.5px,#caddef 149.5px,#d8e5f2 154.5px)"></i><i style="top:106px;background:linear-gradient(90deg,#135da2 0.5px,#1660a5 104.5px,#1d64a9 108.5px,#256baf 110.5px,#468bc5 116.5px,#73abd6 129.5px,#6ea7d5 133.5px,#76add8 135.5px,#94bee0 139.5px,#c9dcef 149.5px,#d7e4f2 154.5px)"></i><i style="top:107px;background:linear-gradient(90deg,#135da2 0.5px,#1660a5 104.5px,#1e64aa 108.5px,#266cb0 110.5px,#478bc5 116.5px,#73abd7 129.5px,#6da7d4 133.5px,#75acd7 135.5px,#93bee0 139.5px,#c8dbef 149.5px,#d6e4f2 154.5px)"></i><i style="top:108px;background:linear-gradient(90deg,#135da2 0.5px,#1660a5 104.5px,#1e64aa 108.5px,#276db1 110.5px,#4288c3 115.5px,#65a1d1 124.5px,#73abd7 129.5px,#6da7d4 133.5px,#75acd7 135.5px,#93bee0 139.5px,#caddef 150.5px,#d4e3f2 154.5px)"></i><i style="top:109px;background:linear-gradient(90deg,#135da2 0.5px,#1660a5 104.5px,#1f64aa 108.5px,#4288c3 115.5px,#6fa8d5 127.5px,#74abd7 130.5px,#6da6d4 133.5px,#75acd7 135.5px,#93bee0 139.5px,#c8dcef 150.5px,#d3e2f1 154.5px)"></i><i style="top:110px;background:linear-gradient(90deg,#135da2 0.5px,#155fa4 103.5px,#1b63a8 107.5px,#2368ad 109.5px,#498dc6 116.5px,#72aad6 128.5px,#71aad6 131.5px,#6ca6d4 133.5px,#74acd7 135.5px,#8dbade 138.5px,#c9ddef 151.5px,#d1e1f1 154.5px)"></i><i style="top:111px;background:linear-gradient(90deg,#135da2 0.5px,#1560a4 103.5px,#1c63a9 107.5px,#286fb2 110.5px,#498dc6 116.5px,#72aad6 128.5px,#71aad6 131.5px,#6ca6d4 133.5px,#74abd7 135.5px,#8dbade 138.5px,#c8dbef 151.5px,#cfe0f0 154.5px)"></i><i style="top:112px;background:linear-gradient(90deg,#135da2 0.5px,#1560a4 103.5px,#1c63a9 107.5px,#2970b3 110.5px,#4a8ec7 116.5px,#73abd6 128.5px,#71aad6 131.5px,#6ba5d4 133.5px,#73abd7 135.5px,#8dbade 138.5px,#c8dcef 152.5px,#cedff0 154.5px)"></i><i style="top:113px;background:linear-gradient(90deg,#135da2 0.5px,#1560a4 103.5px,#1d64a9 107.5px,#256baf 109.5px,#468bc5 115.5px,#73abd7 128.5px,#71aad6 131.5px,#6ba5d3 133.5px,#73abd7 135.5px,#8dbade 138.5px,#c9dcef 153.5px,#ccdef0 154.5px)"></i><i style="top:114px;background:linear-gradient(90deg,#135da2 0.5px,#1660a5 103.5px,#1d64a9 107.5px,#266bb0 109.5px,#478bc5 115.5px,#73abd7 128.5px,#71aad6 131.5px,#6ba5d3 133.5px,#73abd6 135.5px,#8cbade 138.5px,#c7dbef 153.5px,#c9ddef 154.5px)"></i><i style="top:115px;background:linear-gradient(90deg,#135da2 0.5px,#1660a5 103.5px,#1e64aa 107.5px,#266cb0 109.5px,#4187c3 114.5px,#5d9cce 121.5px,#75acd7 129.5px,#6aa5d3 133.5px,#72aad6 135.5px,#8cbade 138.5px,#c7dbef 154.5px)"></i><i style="top:116px;background:linear-gradient(90deg,#135da2 0.5px,#1660a5 103.5px,#1e64aa 107.5px,#2c74b6 110.5px,#4c90c7 116.5px,#74abd7 128.5px,#71aad6 131.5px,#6aa5d3 133.5px,#72aad6 135.5px,#8cbade 138.5px,#c6daee 154.5px)"></i><i style="top:117px;background:linear-gradient(90deg,#135da2 0.5px,#155fa4 102.5px,#1f65aa 107.5px,#498dc6 115.5px,#74acd7 128.5px,#71aad6 131.5px,#6aa4d3 133.5px,#6ba5d4 134.5px,#8cbade 138.5px,#c3d9ed 154.5px)"></i><i style="top:118px;background:linear-gradient(90deg,#135da2 0.5px,#1560a4 102.5px,#1c63a9 106.5px,#286fb2 109.5px,#498dc6 115.5px,#75acd7 128.5px,#71aad6 131.5px,#6aa4d3 133.5px,#6ba5d4 134.5px,#8cbade 138.5px,#b4d0e9 150.5px,#c0d7ed 154.5px)"></i><i style="top:119px;background:linear-gradient(90deg,#135da2 0.5px,#1560a4 102.5px,#1c63a9 106.5px,#2970b3 109.5px,#4a8ec7 115.5px,#75acd7 128.5px,#71aad6 131.5px,#69a4d3 133.5px,#6ba5d3 134.5px,#8cbade 138.5px,#b0cee8 149.5px,#bdd6ec 154.5px)"></i><i style="top:120px;background:linear-gradient(90deg,#135da2 0.5px,#1660a5 102.5px,#1d64a9 106.5px,#256aaf 108.5px,#4b8ec7 115.5px,#75acd7 128.5px,#71aad6 131.5px,#69a4d3 133.5px,#6ba5d3 134.5px,#8cbade 138.5px,#accce7 148.5px,#bbd4eb 154.5px)"></i><i style="top:121px;background:linear-gradient(90deg,#135da2 0.5px,#1660a5 102.5px,#1d64a9 106.5px,#266bb0 108.5px,#468bc5 114.5px,#73abd7 127.5px,#75acd7 130.5px,#69a4d3 133.5px,#6ba5d3 134.5px,#8cbade 138.5px,#accbe7 148.5px,#b9d3eb 154.5px)"></i><i style="top:122px;background:linear-gradient(90deg,#135da2 0.5px,#1660a5 102.5px,#1e64aa 106.5px,#266cb0 108.5px,#4187c3 113.5px,#5a99cd 119.5px,#76add8 128.5px,#72aad6 131.5px,#69a4d3 133.5px,#6ba5d3 134.5px,#8cbade 138.5px,#a9cae6 147.5px,#b8d2ea 154.5px)"></i><i style="top:123px;background:linear-gradient(90deg,#135da2 0.5px,#155fa4 101.5px,#1e64aa 106.5px,#276db1 108.5px,#488cc6 114.5px,#74abd7 127.5px,#76add8 130.5px,#6aa4d3 133.5px,#6ba5d3 134.5px,#8cbade 138.5px,#a9cae6 147.5px,#b6d1ea 154.5px)"></i><i style="top:124px;background:linear-gradient(90deg,#135da2 0.5px,#1560a4 101.5px,#1f65aa 106.5px,#498dc6 114.5px,#74acd7 127.5px,#76add8 130.5px,#6aa4d3 133.5px,#6ba5d3 134.5px,#8cbade 138.5px,#a9c9e6 147.5px,#b5d1e9 154.5px)"></i><i style="top:125px;background:linear-gradient(90deg,#135da2 0.5px,#1560a4 101.5px,#1c63a9 105.5px,#286fb2 108.5px,#498dc6 114.5px,#75acd7 127.5px,#76add8 130.5px,#6aa4d3 133.5px,#6ba5d4 134.5px,#8cbade 138.5px,#a8c9e6 147.5px,#b4d0e9 154.5px)"></i><i style="top:126px;background:linear-gradient(90deg,#135da2 0.5px,#1560a4 101.5px,#1d64a9 105.5px,#2970b3 108.5px,#4a8ec7 114.5px,#75acd7 127.5px,#76add8 130.5px,#6aa5d3 133.5px,#6ca6d4 134.5px,#8cbade 138.5px,#a8c9e6 147.5px,#b4d0e9 154.5px)"></i><i style="top:127px;background:linear-gradient(90deg,#135da2 0.5px,#1660a5 101.5px,#1d64a9 105.5px,#256baf 107.5px,#4b8fc7 114.5px,#75acd7 127.5px,#77add8 130.5px,#6aa5d3 133.5px,#6ca6d4 134.5px,#8cbade 138.5px,#a8c9e6 147.5px,#b3d0e9 154.5px)"></i><i style="top:128px;background:linear-gradient(90deg,#135da2 0.5px,#1660a5 101.5px,#1e64aa 105.5px,#266cb0 107.5px,#4187c3 112.5px,#5596cb 117.5px,#76add8 127.5px,#77add8 130.5px,#6ba5d3 133.5px,#6ca6d4 134.5px,#8cbade 138.5px,#a8c9e6 147.5px,#b3cfe9 154.5px)"></i><i style="top:129px;background:linear-gradient(90deg,#135da2 0.5px,#155fa4 100.5px,#1f65aa 105.5px,#4288c3 112.5px,#65a1d1 121.5px,#78aed8 128.5px,#73abd7 131.5px,#6ba5d4 133.5px,#6da6d4 134.5px,#8cbade 138.5px,#a8c9e6 147.5px,#b2cfe9 154.5px)"></i><i style="top:130px;background:linear-gradient(90deg,#135da2 0.5px,#1560a4 100.5px,#1c63a9 104.5px,#286fb2 107.5px,#4d90c8 114.5px,#76add8 127.5px,#77aed8 130.5px,#6ca6d4 133.5px,#73abd7 135.5px,#8cbade 138.5px,#a8c9e6 147.5px,#b2cfe9 154.5px)"></i><i style="top:131px;background:linear-gradient(90deg,#135da2 0.5px,#1560a4 100.5px,#1d64a9 104.5px,#256aaf 106.5px,#4a8ec6 113.5px,#74acd7 126.5px,#78aed8 130.5px,#6ca6d4 133.5px,#74abd7 135.5px,#8dbade 138.5px,#aacae6 148.5px,#b2cfe8 154.5px)"></i><i style="top:132px;background:linear-gradient(90deg,#135da2 0.5px,#1660a5 100.5px,#1e64aa 104.5px,#266cb0 106.5px,#4b8ec7 113.5px,#75acd7 126.5px,#78aed8 130.5px,#6da6d4 133.5px,#74acd7 135.5px,#8dbade 138.5px,#aacae6 148.5px,#b2cfe8 154.5px)"></i><i style="top:133px;background:linear-gradient(90deg,#135da2 0.5px,#1660a5 100.5px,#1f64aa 104.5px,#4187c3 111.5px,#609ecf 119.5px,#79afd9 128.5px,#75acd7 131.5px,#6da7d4 133.5px,#75acd7 135.5px,#8dbade 138.5px,#aacae6 148.5px,#b2cfe8 154.5px)"></i><i style="top:134px;background:linear-gradient(90deg,#135da2 0.5px,#155fa4 99.5px,#1c63a9 103.5px,#286fb2 106.5px,#488cc6 112.5px,#75acd7 126.5px,#79afd9 130.5px,#6ea7d5 133.5px,#75acd7 135.5px,#8dbade 138.5px,#aacae6 148.5px,#b2cfe8 154.5px)"></i><i style="top:135px;background:linear-gradient(90deg,#135da2 0.5px,#1560a4 99.5px,#1d64a9 103.5px,#256aaf 105.5px,#498dc6 112.5px,#76add8 126.5px,#79afd9 130.5px,#6ea8d5 133.5px,#76add8 135.5px,#8dbade 138.5px,#aacae6 148.5px,#b2cfe8 154.5px)"></i><i style="top:136px;background:linear-gradient(90deg,#135da2 0.5px,#1560a4 99.5px,#1e64aa 103.5px,#266cb0 105.5px,#458ac5 111.5px,#74abd7 125.5px,#7ab0d9 129.5px,#6fa8d5 133.5px,#76add8 135.5px,#8dbade 138.5px,#aacae6 148.5px,#b2cfe8 154.5px)"></i><i style="top:137px;background:linear-gradient(90deg,#135da2 0.5px,#1660a5 99.5px,#1f64aa 103.5px,#4187c3 110.5px,#66a2d2 120.5px,#7ab0d9 128.5px,#77add8 131.5px,#70a9d5 133.5px,#77add8 135.5px,#8dbade 138.5px,#aacae6 148.5px,#b2cfe8 154.5px)"></i><i style="top:138px;background:linear-gradient(90deg,#135da2 0.5px,#155fa4 98.5px,#1c63a9 102.5px,#286fb2 105.5px,#488cc6 111.5px,#75acd7 125.5px,#7bb0da 129.5px,#71a9d6 133.5px,#77aed8 135.5px,#8dbadf 138.5px,#aacae6 148.5px,#b2cfe8 154.5px)"></i><i style="top:139px;background:linear-gradient(90deg,#135da2 0.5px,#1560a4 98.5px,#1d64a9 102.5px,#256aaf 104.5px,#4489c4 110.5px,#73abd6 124.5px,#7bb0da 129.5px,#71aad6 133.5px,#78aed8 135.5px,#8dbadf 138.5px,#aacae6 148.5px,#b2cfe8 154.5px)"></i><i style="top:140px;background:linear-gradient(90deg,#135da2 0.5px,#1560a4 98.5px,#1e64aa 102.5px,#266cb0 104.5px,#458ac4 110.5px,#75acd7 125.5px,#7bb0d9 130.5px,#72aad6 133.5px,#79afd9 135.5px,#8dbbdf 138.5px,#aacae6 148.5px,#b2cfe8 154.5px)"></i><i style="top:141px;background:linear-gradient(90deg,#135da2 0.5px,#1660a5 98.5px,#1f64aa 102.5px,#468bc5 110.5px,#76add8 125.5px,#7bb0da 130.5px,#73abd7 133.5px,#79afd9 135.5px,#92bde0 139.5px,#accbe7 149.5px,#b2cfe8 154.5px)"></i><i style="top:142px;background:linear-gradient(90deg,#135da2 0.5px,#1660a5 98.5px,#2065ab 102.5px,#4288c3 109.5px,#74abd7 124.5px,#7cb1da 129.5px,#74abd7 133.5px,#7ab0d9 135.5px,#92bde0 139.5px,#accbe7 149.5px,#b2cfe8 154.5px)"></i><i style="top:143px;background:linear-gradient(90deg,#135da2 0.5px,#155fa4 97.5px,#1d64a9 101.5px,#256baf 103.5px,#4489c4 109.5px,#74acd7 124.5px,#7cb1da 129.5px,#74acd7 133.5px,#7bb0d9 135.5px,#92bde0 139.5px,#abcbe7 149.5px,#b2cfe8 154.5px)"></i><i style="top:144px;background:linear-gradient(90deg,#135da2 0.5px,#1560a4 97.5px,#1e64aa 101.5px,#266cb0 103.5px,#458ac4 109.5px,#75acd7 124.5px,#7cb1da 130.5px,#75acd7 133.5px,#7bb0da 135.5px,#92bde0 139.5px,#abcbe7 149.5px,#b2cfe8 154.5px)"></i><i style="top:145px;background:linear-gradient(90deg,#135da2 0.5px,#1660a5 97.5px,#1f65aa 101.5px,#468bc5 109.5px,#75acd7 124.5px,#7cb1da 130.5px,#76add8 133.5px,#7cb1da 135.5px,#92bde0 139.5px,#abcbe7 149.5px,#b2cfe8 154.5px)"></i><i style="top:146px;background:linear-gradient(90deg,#135da2 0.5px,#1660a5 97.5px,#2065ab 101.5px,#4288c3 108.5px,#73abd7 123.5px,#7db2da 129.5px,#78aed9 134.5px,#92bde0 139.5px,#abcbe7 149.5px,#b2cfe8 154.5px)"></i><i style="top:147px;background:linear-gradient(90deg,#135da2 0.5px,#155fa4 96.5px,#1d64a9 100.5px,#266bb0 102.5px,#4489c4 108.5px,#74abd7 123.5px,#7db2da 130.5px,#79afd9 134.5px,#92bde0 139.5px,#abcbe7 149.5px,#b2cfe8 154.5px)"></i><i style="top:148px;background:linear-gradient(90deg,#135da2 0.5px,#1560a4 96.5px,#1e64aa 100.5px,#276db1 102.5px,#458ac4 108.5px,#74acd7 123.5px,#7eb2da 130.5px,#7aafd9 134.5px,#95bfe1 140.5px,#adcce7 150.5px,#b2cfe8 154.5px)"></i><i style="top:149px;background:linear-gradient(90deg,#135da2 0.5px,#1660a5 96.5px,#1f65aa 100.5px,#468bc5 108.5px,#75acd7 123.5px,#7eb2da 130.5px,#7bb0d9 134.5px,#95bfe1 140.5px,#adcce7 150.5px,#b2cfe8 154.5px)"></i><i style="top:150px;background:linear-gradient(90deg,#135da2 0.5px,#1660a5 96.5px,#2065ab 100.5px,#4288c3 107.5px,#73abd7 122.5px,#7eb2db 130.5px,#7bb1da 134.5px,#95bfe1 140.5px,#adcce7 150.5px,#b1cfe8 154.5px)"></i><i style="top:151px;background:linear-gradient(90deg,#135da2 0.5px,#155fa4 95.5px,#1d64aa 99.5px,#266cb0 101.5px,#4489c4 107.5px,#73abd7 122.5px,#7fb2db 130.5px,#7cb1da 134.5px,#95bfe1 140.5px,#adcce7 150.5px,#b1cfe8 154.5px)"></i><i style="top:152px;background:linear-gradient(90deg,#135da2 0.5px,#1560a4 95.5px,#1f64aa 99.5px,#458ac4 107.5px,#74abd7 122.5px,#7fb3db 130.5px,#7db1da 134.5px,#95bfe1 140.5px,#adcce7 150.5px,#b1cfe8 154.5px)"></i><i style="top:153px;background:linear-gradient(90deg,#135da2 0.5px,#1660a5 95.5px,#2065ab 99.5px,#4187c3 106.5px,#74acd7 122.5px,#7fb3db 130.5px,#7eb2da 134.5px,#98c0e1 141.5px,#adcce7 150.5px,#b1cfe8 154.5px)"></i><i style="top:154px;background:linear-gradient(90deg,#135da2 0.5px,#155fa4 94.5px,#1d64a9 98.5px,#266bb0 100.5px,#4388c3 106.5px,#75acd7 122.5px,#80b3db 130.5px,#7eb2db 134.5px,#9ac2e2 142.5px,#aecde7 151.5px,#b1cfe8 154.5px)"></i><i style="top:155px;background:linear-gradient(90deg,#135da2 0.5px,#1560a4 94.5px,#1f64aa 98.5px,#4489c4 106.5px,#75acd7 122.5px,#80b3db 130.5px,#7fb3db 134.5px,#9dc3e3 143.5px,#b0cee8 152.5px,#b1cfe8 154.5px)"></i><i style="top:156px;background:linear-gradient(90deg,#135da2 0.5px,#1660a5 94.5px,#2065ab 98.5px,#4087c3 105.5px,#74abd7 121.5px,#80b3db 130.5px,#80b3db 134.5px,#a0c5e3 144.5px,#b1cee8 153.5px,#b1cfe8 154.5px)"></i><i style="top:157px;background:linear-gradient(90deg,#135da2 0.5px,#155fa4 93.5px,#1d64a9 97.5px,#266cb0 99.5px,#4288c3 105.5px,#74abd7 121.5px,#80b3db 130.5px,#80b3db 134.5px,#a5c8e5 146.5px,#b1cfe8 154.5px)"></i><i style="top:158px;background:linear-gradient(90deg,#135da2 0.5px,#1560a4 93.5px,#1f65aa 97.5px,#4389c4 105.5px,#75acd7 121.5px,#81b4db 130.5px,#81b4db 134.5px,#a8c9e5 147.5px,#b1cfe8 154.5px)"></i><i style="top:159px;background:linear-gradient(90deg,#135da2 0.5px,#1660a5 93.5px,#2065ab 97.5px,#3a82c0 103.5px,#4e91c8 108.5px,#75acd7 121.5px,#81b4db 130.5px,#82b4db 134.5px,#a9cae6 148.5px,#b1cfe8 154.5px)"></i><i style="top:160px;background:linear-gradient(90deg,#135da2 0.5px,#155fa4 92.5px,#1e64aa 96.5px,#266cb0 98.5px,#4288c3 104.5px,#75acd7 121.5px,#81b4db 130.5px,#82b4dc 134.5px,#abcbe7 149.5px,#b1cfe8 154.5px)"></i><i style="top:161px;background:linear-gradient(90deg,#135da2 0.5px,#155fa4 92.5px,#1f65aa 96.5px,#3e85c2 103.5px,#74abd7 120.5px,#81b4db 130.5px,#83b5dc 134.5px,#abcbe7 149.5px,#b1cfe8 154.5px)"></i><i style="top:162px;background:linear-gradient(90deg,#135da2 0.5px,#1660a5 92.5px,#2165ab 96.5px,#377fbe 101.5px,#5092c9 108.5px,#76add8 121.5px,#82b4db 131.5px,#86b6dd 135.5px,#abcbe6 149.5px,#b1cfe8 154.5px)"></i><i style="top:163px;background:linear-gradient(90deg,#135da2 0.5px,#155fa4 91.5px,#1e64aa 95.5px,#276db1 97.5px,#3c84c1 102.5px,#70a9d5 118.5px,#81b4db 129.5px,#86b7dd 135.5px,#abcbe6 149.5px,#b1cfe8 154.5px)"></i><i style="top:164px;background:linear-gradient(90deg,#135da2 0.5px,#155fa4 91.5px,#1f65ab 95.5px,#3981bf 101.5px,#4f91c8 107.5px,#75acd7 120.5px,#82b4dc 131.5px,#86b7dd 135.5px,#abcbe6 149.5px,#b1cfe8 154.5px)"></i><i style="top:165px;background:linear-gradient(90deg,#135da2 0.5px,#1560a4 91.5px,#2166ab 95.5px,#377fbe 100.5px,#5294ca 108.5px,#76add8 120.5px,#82b4dc 131.5px,#8ab8de 136.5px,#abcbe6 149.5px,#b1cfe8 154.5px)"></i><i style="top:166px;background:linear-gradient(90deg,#135da2 0.5px,#155fa4 90.5px,#1e64aa 94.5px,#3c83c1 101.5px,#74acd7 119.5px,#83b5dc 131.5px,#8ab9de 136.5px,#adcce7 150.5px,#b1cfe8 154.5px)"></i><i style="top:167px;background:linear-gradient(90deg,#135da2 0.5px,#155fa4 90.5px,#2065ab 94.5px,#3981bf 100.5px,#5093c9 107.5px,#75acd7 119.5px,#83b5dc 131.5px,#8ab9de 136.5px,#adcce7 150.5px,#b1cfe8 154.5px)"></i><i style="top:168px;background:linear-gradient(90deg,#135da2 0.5px,#1560a4 90.5px,#2166ac 94.5px,#377fbe 99.5px,#6ea7d5 116.5px,#80b3db 127.5px,#88b7dd 135.5px,#adcce7 150.5px,#b1cfe8 154.5px)"></i><i style="top:169px;background:linear-gradient(90deg,#135da2 0.5px,#155fa4 89.5px,#1f64aa 93.5px,#3880bf 99.5px,#73abd7 118.5px,#83b5dc 130.5px,#8ab9de 136.5px,#adcce7 150.5px,#b1cfe8 154.5px)"></i><i style="top:170px;background:linear-gradient(90deg,#135da2 0.5px,#155fa4 89.5px,#2065ab 93.5px,#367ebd 98.5px,#6ca6d4 115.5px,#7fb2db 125.5px,#88b8dd 135.5px,#adcce7 150.5px,#b1cfe8 154.5px)"></i><i style="top:171px;background:linear-gradient(90deg,#135da2 0.5px,#1660a5 89.5px,#2266ac 93.5px,#377fbe 98.5px,#74acd7 118.5px,#84b5dc 131.5px,#90bcdf 138.5px,#adcce7 150.5px,#b1cfe8 154.5px)"></i><i style="top:172px;background:linear-gradient(90deg,#135da2 0.5px,#155fa4 88.5px,#1f65aa 92.5px,#3880bf 98.5px,#75acd7 118.5px,#84b5dc 131.5px,#90bcdf 138.5px,#adcce7 150.5px,#b1cfe8 154.5px)"></i><i style="top:173px;background:linear-gradient(90deg,#135da2 0.5px,#155fa4 88.5px,#2165ab 92.5px,#367ebd 97.5px,#75acd7 118.5px,#8bb9de 136.5px,#adcce7 150.5px,#b1cfe8 154.5px)"></i><i style="top:174px;background:linear-gradient(90deg,#135da2 0.5px,#1660a5 88.5px,#2267ac 92.5px,#377fbe 97.5px,#76add8 118.5px,#8bb9de 136.5px,#adcce7 150.5px,#b1cfe8 154.5px)"></i><i style="top:175px;background:linear-gradient(90deg,#135da2 0.5px,#155fa4 87.5px,#1f65ab 91.5px,#3880bf 97.5px,#76add8 118.5px,#8bb9de 136.5px,#adcce7 150.5px,#b1cfe8 154.5px)"></i><i style="top:176px;background:linear-gradient(90deg,#135da2 0.5px,#1560a4 87.5px,#2166ac 91.5px,#367ebd 96.5px,#75acd7 117.5px,#84b6dc 131.5px,#94bee0 140.5px,#adcce7 150.5px,#b1cfe8 154.5px)"></i><i style="top:177px;background:linear-gradient(90deg,#135da2 0.5px,#1660a5 87.5px,#2367ad 91.5px,#347cbc 95.5px,#75acd7 117.5px,#85b6dc 132.5px,#9ac1e2 142.5px,#aecde7 151.5px,#b1cfe8 154.5px)"></i><i style="top:178px;background:linear-gradient(90deg,#135da2 0.5px,#155fa4 86.5px,#2065ab 90.5px,#367ebd 95.5px,#76add8 117.5px,#8dbadf 137.5px,#adcce7 150.5px,#b1cfe8 154.5px)"></i><i style="top:179px;background:linear-gradient(90deg,#135da2 0.5px,#1560a4 86.5px,#2266ac 90.5px,#377fbe 95.5px,#63a0d0 110.5px,#79afd9 119.5px,#8bb9de 136.5px,#aecde7 151.5px,#b1cfe8 154.5px)"></i><i style="top:180px;background:linear-gradient(90deg,#135da2 0.5px,#155fa4 85.5px,#1f65aa 89.5px,#3880be 95.5px,#64a0d1 110.5px,#7aafd9 119.5px,#8bb9de 136.5px,#aecde7 151.5px,#b1cfe8 154.5px)"></i><i style="top:181px;background:linear-gradient(90deg,#135da2 0.5px,#155fa4 85.5px,#2165ab 89.5px,#367ebd 94.5px,#619fd0 109.5px,#79afd9 118.5px,#8dbbdf 137.5px,#accce7 150.5px,#b1cfe8 154.5px)"></i><i style="top:182px;background:linear-gradient(90deg,#135da2 0.5px,#1660a5 85.5px,#2367ad 89.5px,#347cbb 93.5px,#5f9dcf 108.5px,#77aed8 117.5px,#8dbbdf 137.5px,#aecde7 151.5px,#b1cee8 154.5px)"></i><i style="top:183px;background:linear-gradient(90deg,#135da2 0.5px,#155fa4 84.5px,#2065ab 88.5px,#357dbc 93.5px,#609dcf 108.5px,#78aed8 117.5px,#8dbbdf 137.5px,#aecde7 151.5px,#b1cee8 154.5px)"></i><i style="top:184px;background:linear-gradient(90deg,#135da2 0.5px,#155fa4 84.5px,#2266ac 88.5px,#367ebd 93.5px,#609ecf 108.5px,#78aed8 117.5px,#8dbbdf 137.5px,#aecde7 151.5px,#b1cee8 154.5px)"></i><i style="top:185px;background:linear-gradient(90deg,#135da2 0.5px,#1660a5 84.5px,#2368ad 88.5px,#347cbc 92.5px,#5e9cce 107.5px,#77add8 116.5px,#8dbbdf 137.5px,#aecde7 151.5px,#b1cee8 154.5px)"></i><i style="top:186px;background:linear-gradient(90deg,#135da2 0.5px,#155fa4 83.5px,#2165ab 87.5px,#357dbd 92.5px,#5e9dcf 107.5px,#77aed8 116.5px,#8dbbdf 137.5px,#aecde7 151.5px,#b1cee8 154.5px)"></i><i style="top:187px;background:linear-gradient(90deg,#135da2 0.5px,#1560a4 83.5px,#2267ac 87.5px,#337bbb 91.5px,#5c9bce 106.5px,#77aed8 116.5px,#8dbbdf 137.5px,#aecde7 151.5px,#b1cee8 154.5px)"></i><i style="top:188px;background:linear-gradient(90deg,#135da2 0.5px,#155fa4 82.5px,#2065ab 86.5px,#357dbc 91.5px,#5c9bce 106.5px,#76add8 115.5px,#84b5dc 129.5px,#92bde0 139.5px,#aecde7 151.5px,#b1cee8 154.5px)"></i><i style="top:189px;background:linear-gradient(90deg,#135da2 0.5px,#155fa4 82.5px,#2166ac 86.5px,#367ebd 91.5px,#5d9cce 106.5px,#77add8 115.5px,#84b6dc 130.5px,#92bde0 139.5px,#aecde7 151.5px,#b1cee8 154.5px)"></i><i style="top:190px;background:linear-gradient(90deg,#135da2 0.5px,#1660a5 82.5px,#2368ad 86.5px,#347cbb 90.5px,#5a9acd 105.5px,#77add8 115.5px,#8dbbdf 137.5px,#aecde7 151.5px,#b1cee8 154.5px)"></i><i style="top:191px;background:linear-gradient(90deg,#135da2 0.5px,#155fa4 81.5px,#2165ab 85.5px,#357dbc 90.5px,#5b9acd 105.5px,#77aed8 115.5px,#8dbbdf 137.5px,#aecde7 151.5px,#b1cfe8 154.5px)"></i><i style="top:192px;background:linear-gradient(90deg,#135da2 0.5px,#1560a4 81.5px,#2267ac 85.5px,#337bbb 89.5px,#5c9bce 105.5px,#76add8 114.5px,#83b5dc 127.5px,#8dbbdf 137.5px,#aecde7 151.5px,#b1cfe8 154.5px)"></i><i style="top:193px;background:linear-gradient(90deg,#135da2 0.5px,#155fa4 80.5px,#2065ab 84.5px,#347cbc 89.5px,#5999cd 104.5px,#76add8 114.5px,#83b5dc 127.5px,#8ebbdf 137.5px,#aecde7 151.5px,#b1cfe8 154.5px)"></i><i style="top:194px;background:linear-gradient(90deg,#135da2 0.5px,#155fa4 80.5px,#2266ac 84.5px,#327aba 88.5px,#5a9acd 104.5px,#77add8 114.5px,#83b5dc 128.5px,#90bcdf 138.5px,#aecde7 151.5px,#b1cfe8 154.5px)"></i><i style="top:195px;background:linear-gradient(90deg,#135da2 0.5px,#155fa4 79.5px,#1f65ab 83.5px,#367ebd 89.5px,#5798cc 103.5px,#75acd7 113.5px,#82b4dc 125.5px,#8ebbdf 137.5px,#aecde7 151.5px,#b2cfe8 154.5px)"></i><i style="top:196px;background:linear-gradient(90deg,#135da2 0.5px,#155fa4 79.5px,#2266ac 83.5px,#357dbc 88.5px,#5898cc 103.5px,#76add8 113.5px,#82b4dc 125.5px,#8ebbdf 137.5px,#aecde7 151.5px,#b2cfe8 154.5px)"></i><i style="top:197px;background:linear-gradient(90deg,#135da2 0.5px,#155fa4 78.5px,#1f65aa 82.5px,#367ebd 88.5px,#5596cb 102.5px,#74acd7 112.5px,#82b4dc 124.5px,#8cbade 136.5px,#afcde7 151.5px,#b2cfe8 154.5px)"></i><i style="top:198px;background:linear-gradient(90deg,#135da2 0.5px,#155fa4 78.5px,#2166ac 82.5px,#347cbc 87.5px,#5697cb 102.5px,#75acd7 112.5px,#82b4dc 124.5px,#8dbade 136.5px,#afcde8 151.5px,#b2cfe9 154.5px)"></i><i style="top:199px;background:linear-gradient(90deg,#135da2 0.5px,#1660a5 78.5px,#2368ad 82.5px,#337bbb 86.5px,#5495ca 101.5px,#76add8 112.5px,#83b5dc 124.5px,#8dbbdf 136.5px,#afcde8 151.5px,#b3cfe9 154.5px)"></i><i style="top:200px;background:linear-gradient(90deg,#135da2 0.5px,#155fa4 77.5px,#2166ab 81.5px,#347cbc 86.5px,#5496cb 101.5px,#74acd7 111.5px,#82b4dc 122.5px,#8ebbdf 136.5px,#b0cee8 151.5px,#b3d0e9 154.5px)"></i><i style="top:201px;background:linear-gradient(90deg,#135da2 0.5px,#1660a5 77.5px,#2368ad 81.5px,#337bbb 85.5px,#5294ca 100.5px,#75acd7 111.5px,#83b5dc 122.5px,#8fbbdf 136.5px,#b0cee8 151.5px,#b4d0e9 154.5px)"></i><i style="top:202px;background:linear-gradient(90deg,#135da2 0.5px,#145fa3 38.5px,#155fa4 76.5px,#2166ab 80.5px,#347cbc 85.5px,#5093c9 99.5px,#76add8 111.5px,#84b5dc 122.5px,#90bcdf 136.5px,#b1cee8 151.5px,#b4d0e9 154.5px)"></i><i style="top:203px;background:linear-gradient(90deg,#135da2 0.5px,#1962a7 32.5px,#135da2 54.5px,#1660a5 76.5px,#2368ad 80.5px,#327aba 84.5px,#4e91c8 98.5px,#77add8 111.5px,#85b6dc 123.5px,#91bde0 136.5px,#b2cfe8 151.5px,#b5d1e9 154.5px)"></i><i style="top:204px;background:linear-gradient(90deg,#135da2 0.5px,#1862a7 17.5px,#1f64aa 30.5px,#135da2 49.5px,#155fa4 75.5px,#2166ac 79.5px,#347cbb 84.5px,#4d90c8 97.5px,#78aed8 111.5px,#86b7dd 123.5px,#93bee0 136.5px,#b3d0e9 151.5px,#b6d2ea 154.5px)"></i><i style="top:205px;background:linear-gradient(90deg,#135da2 0.5px,#1861a6 13.5px,#2468ae 28.5px,#1c63a9 39.5px,#135ea2 47.5px,#1660a5 75.5px,#2468ae 79.5px,#327aba 83.5px,#4d90c8 97.5px,#79afd9 111.5px,#88b8dd 123.5px,#95bfe1 136.5px,#b4d0e9 151.5px,#b8d2ea 154.5px)"></i><i style="top:206px;background:linear-gradient(90deg,#135da2 0.5px,#1862a7 11.5px,#246aae 21.5px,#256baf 34.5px,#1c63a9 41.5px,#135ea2 48.5px,#1660a5 74.5px,#2266ac 78.5px,#347cbb 83.5px,#498dc6 95.5px,#7ab0d9 111.5px,#8ab9de 123.5px,#97c0e1 136.5px,#b7d2ea 152.5px,#b9d3eb 154.5px)"></i><i style="top:207px;background:linear-gradient(90deg,#135da2 0.5px,#1862a7 9.5px,#256baf 17.5px,#276eb1 35.5px,#1e64aa 42.5px,#135ea2 48.5px,#1560a4 73.5px,#246aae 78.5px,#357dbc 83.5px,#488cc6 94.5px,#619ecf 102.5px,#7eb2db 112.5px,#8ebbdf 125.5px,#9cc3e2 137.5px,#b9d3eb 152.5px,#bbd4eb 154.5px)"></i><i style="top:208px;background:linear-gradient(90deg,#135da2 0.5px,#1a62a8 8.5px,#276eb1 16.5px,#276db1 39.5px,#145ea3 48.5px,#155fa4 72.5px,#2368ad 77.5px,#347cbc 82.5px,#498dc6 94.5px,#629fd0 102.5px,#81b4db 112.5px,#91bde0 126.5px,#a2c6e4 138.5px,#bcd5eb 153.5px,#bdd5ec 154.5px)"></i><i style="top:209px;background:linear-gradient(90deg,#135da2 0.5px,#1962a7 6.5px,#286eb2 14.5px,#276eb1 33.5px,#286eb2 40.5px,#1c63a9 45.5px,#135ea2 50.5px,#1660a5 72.5px,#2267ac 76.5px,#337bbb 81.5px,#4a8ec6 94.5px,#619ed0 101.5px,#81b4db 111.5px,#92bde0 123.5px,#a3c7e4 137.5px,#bed6ec 153.5px,#bfd7ec 154.5px)"></i><i style="top:210px;background:linear-gradient(90deg,#135ea2 0.5px,#1962a7 5.5px,#276db1 11.5px,#276eb1 18.5px,#2368ad 31.5px,#2970b3 40.5px,#2065ab 45.5px,#145fa3 49.5px,#1660a5 71.5px,#2266ac 75.5px,#337bbb 80.5px,#498dc6 93.5px,#63a0d0 101.5px,#86b7dd 112.5px,#9bc2e2 128.5px,#c2d8ed 154.5px)"></i><i style="top:211px;background:linear-gradient(90deg,#135ea2 0.5px,#1861a6 4.5px,#276db1 9.5px,#286eb2 15.5px,#2065ab 24.5px,#2065ab 32.5px,#2970b3 41.5px,#2267ac 45.5px,#155fa4 49.5px,#1660a5 70.5px,#256aaf 75.5px,#347cbc 80.5px,#488cc6 92.5px,#5e9cce 99.5px,#85b6dc 110.5px,#99c1e2 122.5px,#b4d0e9 142.5px,#c5daee 154.5px)"></i><i style="top:212px;background:linear-gradient(90deg,#135ea2 0.5px,#1962a7 4.5px,#276db1 8.5px,#276eb1 13.5px,#1c63a9 22.5px,#1b63a8 32.5px,#256baf 38.5px,#286fb2 43.5px,#1660a5 49.5px,#145fa3 67.5px,#1d64a9 72.5px,#367ebd 80.5px,#478cc5 91.5px,#5d9bce 98.5px,#86b6dd 109.5px,#9bc2e2 120.5px,#b8d3ea 142.5px,#c7dbee 153.5px,#c7dbee 154.5px)"></i><i style="top:213px;background:linear-gradient(90deg,#135ea2 0.5px,#1962a7 4.5px,#276db1 8.5px,#256aaf 13.5px,#1761a6 24.5px,#1a62a7 34.5px,#2469ae 39.5px,#2970b3 43.5px,#1f65ab 47.5px,#1560a4 50.5px,#1660a5 68.5px,#2468ae 73.5px,#347cbb 78.5px,#498dc6 91.5px,#609ecf 98.5px,#8ab9de 109.5px,#a0c5e3 120.5px,#bbd4eb 141.5px,#c8dcef 151.5px,#c9dcef 154.5px)"></i><i style="top:214px;background:linear-gradient(90deg,#135ea2 0.5px,#1962a7 4.5px,#276db1 8.5px,#1560a4 22.5px,#1761a6 35.5px,#2469ae 40.5px,#296fb3 44.5px,#1660a5 50.5px,#1660a5 67.5px,#2368ad 72.5px,#347cbb 77.5px,#4c8fc7 91.5px,#64a1d1 98.5px,#8fbbdf 109.5px,#a6c8e5 120.5px,#bfd6ec 140.5px,#cbddef 151.5px,#cbdef0 154.5px)"></i><i style="top:215px;background:linear-gradient(90deg,#135ea2 0.5px,#1962a7 4.5px,#256aaf 8.5px,#155fa4 20.5px,#1660a5 36.5px,#246aae 41.5px,#2970b3 44.5px,#1f65ab 48.5px,#1560a4 52.5px,#1761a6 67.5px,#2367ad 71.5px,#337bbb 76.5px,#4e91c8 91.5px,#69a4d3 98.5px,#94bee0 109.5px,#a9cae6 119.5px,#cddef0 149.5px,#cedff0 154.5px)"></i><i style="top:216px;background:linear-gradient(90deg,#135ea2 0.5px,#1861a7 4.5px,#2266ac 8.5px,#155fa4 17.5px,#1660a5 37.5px,#256aaf 42.5px,#286fb2 45.5px,#1861a6 51.5px,#1660a5 65.5px,#2367ad 70.5px,#337bbb 75.5px,#5193ca 91.5px,#94bee0 107.5px,#aacae6 116.5px,#cfe0f0 148.5px,#d0e0f1 154.5px)"></i><i style="top:217px;background:linear-gradient(90deg,#135ea2 0.5px,#1a62a8 5.5px,#1f65aa 8.5px,#145ea3 16.5px,#1660a5 38.5px,#276eb1 44.5px,#256baf 47.5px,#1962a7 52.5px,#1861a6 65.5px,#2367ad 69.5px,#367ebd 75.5px,#5294ca 90.5px,#96bfe1 106.5px,#accbe7 114.5px,#d1e1f1 146.5px,#d2e2f1 154.5px)"></i><i style="top:218px;background:linear-gradient(90deg,#135ea2 0.5px,#1b63a8 8.5px,#135ea2 17.5px,#1660a5 39.5px,#276db1 45.5px,#1d64a9 53.5px,#1962a7 64.5px,#2368ad 68.5px,#367ebd 74.5px,#5697cb 90.5px,#99c1e2 105.5px,#adcce7 112.5px,#c9dcef 134.5px,#d6e3f2 150.5px,#d4e3f2 154.5px)"></i><i style="top:219px;background:linear-gradient(90deg,#135da2 0.5px,#1660a5 9.5px,#135ea2 35.5px,#1a62a7 41.5px,#256baf 45.5px,#1c63a9 63.5px,#2469ae 67.5px,#377fbe 73.5px,#5898cc 89.5px,#a0c5e3 105.5px,#b6d1ea 114.5px,#caddef 131.5px,#d8e5f3 149.5px,#d6e4f2 154.5px)"></i><i style="top:220px;background:linear-gradient(90deg,#135da2 0.5px,#135ea2 12.5px,#1660a5 40.5px,#256aaf 46.5px,#256aaf 57.5px,#2266ac 64.5px,#3d84c1 74.5px,#5b9acd 88.5px,#a7c8e5 105.5px,#c0d7ed 117.5px,#dae6f3 148.5px,#d7e4f2 154.5px)"></i><i style="top:221px;background:linear-gradient(90deg,#135da2 0.5px,#155fa4 40.5px,#266cb0 48.5px,#2b73b5 55.5px,#266cb0 63.5px,#3981bf 71.5px,#4b8ec7 78.5px,#5a9acd 86.5px,#85b6dc 96.5px,#a9cae6 104.5px,#c4d9ee 116.5px,#dce7f3 147.5px,#d8e5f2 154.5px)"></i><i style="top:222px;background:linear-gradient(90deg,#135da2 0.5px,#1660a5 41.5px,#266cb0 47.5px,#3078b9 53.5px,#2d75b6 64.5px,#4086c2 71.5px,#5395ca 80.5px,#68a3d2 88.5px,#abcbe7 103.5px,#c5daee 114.5px,#dde7f3 146.5px,#d8e5f3 154.5px)"></i><i style="top:223px;background:linear-gradient(90deg,#135da2 0.5px,#1660a5 41.5px,#256aaf 46.5px,#337bbb 52.5px,#357dbd 65.5px,#5093c9 75.5px,#6ba5d4 87.5px,#adcce7 102.5px,#c6daee 112.5px,#dde7f3 145.5px,#d8e5f2 154.5px)"></i><i style="top:224px;background:linear-gradient(90deg,#135da2 0.5px,#1660a5 41.5px,#2368ad 45.5px,#347cbb 50.5px,#3a82c0 57.5px,#3a82c0 64.5px,#5394ca 73.5px,#6ea7d5 86.5px,#afcde8 101.5px,#c7dbee 111.5px,#dee7f3 145.5px,#d7e4f2 154.5px)"></i><i style="top:225px;background:linear-gradient(90deg,#135da2 0.5px,#1560a4 40.5px,#2166ac 44.5px,#357dbc 49.5px,#4489c4 57.5px,#498dc6 65.5px,#74abd7 86.5px,#adcce7 99.5px,#c7dbee 109.5px,#dde7f3 142.5px,#d7e4f2 153.5px,#d5e3f2 154.5px)"></i><i style="top:226px;background:linear-gradient(90deg,#135da2 0.5px,#1660a5 40.5px,#2469ae 44.5px,#357dbc 48.5px,#498dc6 55.5px,#5797cc 68.5px,#75acd7 85.5px,#adcce7 98.5px,#c7dbef 108.5px,#dbe6f3 137.5px,#dae6f3 149.5px,#d3e2f1 154.5px)"></i><i style="top:227px;background:linear-gradient(90deg,#135da2 0.5px,#1560a4 39.5px,#2266ac 43.5px,#357dbc 47.5px,#4b8fc7 53.5px,#72aad6 83.5px,#91bde0 90.5px,#b1cee8 98.5px,#c7dbef 107.5px,#d5e3f2 127.5px,#dce7f3 145.5px,#d0e0f1 154.5px)"></i><i style="top:228px;background:linear-gradient(90deg,#135da2 0.5px,#1660a5 39.5px,#256aaf 43.5px,#3e85c2 48.5px,#4f91c8 52.5px,#5e9ccf 63.5px,#75acd7 83.5px,#aacae6 95.5px,#c7dbee 106.5px,#d4e2f2 124.5px,#dae6f3 144.5px,#ccdef0 154.5px)"></i><i style="top:229px;background:linear-gradient(90deg,#135da2 0.5px,#1761a6 39.5px,#2267ac 42.5px,#458ac4 48.5px,#5395ca 52.5px,#629fd0 62.5px,#74abd7 82.5px,#8ab9de 87.5px,#a9cae6 94.5px,#c7dbef 106.5px,#d3e2f1 124.5px,#d8e5f2 143.5px,#c7dbef 154.5px)"></i><i style="top:230px;background:linear-gradient(90deg,#135da2 0.5px,#1660a5 38.5px,#2065ab 41.5px,#3c83c1 46.5px,#5092c9 49.5px,#609dcf 56.5px,#75acd7 82.5px,#8dbade 87.5px,#a7c9e5 93.5px,#c7dbef 106.5px,#d1e1f1 124.5px,#d4e3f2 142.5px,#c0d7ed 154.5px)"></i><i style="top:231px;background:linear-gradient(90deg,#135da2 0.5px,#1761a6 38.5px,#2266ac 41.5px,#3981bf 45.5px,#5092c9 48.5px,#5f9dcf 53.5px,#74abd7 81.5px,#83b5dc 85.5px,#a2c6e4 91.5px,#c6dbee 106.5px,#cfe0f0 123.5px,#cedff0 142.5px,#c0d7ec 150.5px,#b8d3ea 154.5px)"></i><i style="top:232px;background:linear-gradient(90deg,#135da2 0.5px,#1660a5 37.5px,#2469ae 41.5px,#3e85c1 45.5px,#4f91c8 47.5px,#5e9ccf 51.5px,#6fa8d5 73.5px,#75acd7 81.5px,#85b6dc 85.5px,#a2c6e4 91.5px,#c5daee 106.5px,#ccdef0 123.5px,#c8dcef 142.5px,#b1cfe8 153.5px,#b1cfe8 154.5px)"></i><i style="top:233px;background:linear-gradient(90deg,#135da2 0.5px,#1761a6 37.5px,#2166ab 40.5px,#3981bf 44.5px,#5394ca 47.5px,#619ed0 51.5px,#76add8 81.5px,#86b6dd 85.5px,#a2c6e4 91.5px,#c4daee 107.5px,#c9dcef 123.5px,#c1d8ed 140.5px,#abcbe7 153.5px,#accce7 154.5px)"></i><i style="top:234px;background:linear-gradient(90deg,#135da2 0.5px,#1660a5 36.5px,#2367ad 40.5px,#3d84c1 44.5px,#5092c9 46.5px,#5f9dcf 49.5px,#6ea7d5 66.5px,#76add8 81.5px,#86b7dd 85.5px,#9ec4e3 90.5px,#c1d8ed 107.5px,#c5daee 119.5px,#b5d1e9 141.5px,#a7c9e5 153.5px,#a8c9e6 154.5px)"></i><i style="top:235px;background:linear-gradient(90deg,#135da2 0.5px,#1761a6 36.5px,#2065ab 39.5px,#3880be 43.5px,#5395ca 46.5px,#619ed0 49.5px,#72aad6 73.5px,#76add8 81.5px,#86b7dd 85.5px,#9dc3e3 90.5px,#bbd4eb 106.5px,#bfd6ec 117.5px,#a4c7e4 153.5px,#a6c8e5 154.5px)"></i><i style="top:236px;background:linear-gradient(90deg,#135da2 0.5px,#1861a6 36.5px,#2266ac 39.5px,#3a82c0 43.5px,#4f92c9 45.5px,#609dcf 48.5px,#6fa8d5 65.5px,#77add8 81.5px,#8bb9de 86.5px,#9dc3e3 91.5px,#b6d1ea 106.5px,#b6d1ea 118.5px,#a0c5e4 151.5px,#a3c7e4 154.5px)"></i><i style="top:237px;background:linear-gradient(90deg,#135da2 0.5px,#1761a6 35.5px,#2368ad 39.5px,#3e85c2 43.5px,#5294ca 45.5px,#619fd0 48.5px,#72aad6 71.5px,#77add8 81.5px,#99c1e1 90.5px,#afcde8 105.5px,#aecde7 118.5px,#9fc4e3 144.5px,#a2c6e4 154.5px)"></i><i style="top:238px;background:linear-gradient(90deg,#135da2 0.5px,#1761a6 35.5px,#2469ae 39.5px,#3880be 42.5px,#5496cb 45.5px,#629fd0 48.5px,#73aad6 72.5px,#77add8 81.5px,#96bfe1 90.5px,#a9cae6 105.5px,#a5c7e5 120.5px,#9cc2e2 141.5px,#a0c5e3 154.5px)"></i><i style="top:239px;background:linear-gradient(90deg,#135da2 0.5px,#1861a6 35.5px,#2165ab 38.5px,#3981bf 42.5px,#5697cc 45.5px,#63a0d0 48.5px,#73aad6 72.5px,#76add8 81.5px,#93bde0 90.5px,#a2c6e4 107.5px,#99c1e2 141.5px,#9ec4e3 154.5px)"></i><i style="top:240px;background:linear-gradient(90deg,#135da2 0.5px,#1862a7 35.5px,#2166ac 38.5px,#3a82c0 42.5px,#5193c9 44.5px,#629fd0 47.5px,#71aad6 68.5px,#76add8 81.5px,#8fbcdf 90.5px,#9cc2e2 108.5px,#98c0e1 143.5px,#9dc3e3 154.5px)"></i><i style="top:241px;background:linear-gradient(90deg,#135da2 0.5px,#1761a6 34.5px,#2266ac 38.5px,#3b82c0 42.5px,#5193c9 44.5px,#629fd0 47.5px,#71aad6 68.5px,#75acd7 81.5px,#8cbade 90.5px,#97c0e1 110.5px,#97c0e1 144.5px,#9bc2e2 154.5px)"></i><i style="top:242px;background:linear-gradient(90deg,#135da2 0.5px,#1761a6 34.5px,#2266ac 38.5px,#3a82c0 42.5px,#5193c9 44.5px,#639fd0 47.5px,#71a9d6 67.5px,#74acd7 81.5px,#8ab9de 90.5px,#94bee0 113.5px,#96bfe1 145.5px,#99c1e2 154.5px)"></i><i style="top:243px;background:linear-gradient(90deg,#135da2 0.5px,#1862a7 35.5px,#2166ab 38.5px,#3981c0 42.5px,#5193c9 44.5px,#63a0d0 47.5px,#70a9d5 65.5px,#76add8 82.5px,#89b8dd 90.5px,#93bde0 114.5px,#94bee0 144.5px,#98c0e1 154.5px)"></i><i style="top:244px;background:linear-gradient(90deg,#135ea2 0.5px,#1861a7 35.5px,#2065ab 38.5px,#3880bf 42.5px,#5999cc 45.5px,#66a2d1 48.5px,#71aad6 72.5px,#76add8 82.5px,#89b8dd 90.5px,#91bcdf 115.5px,#93bde0 144.5px,#96bfe1 154.5px)"></i><i style="top:245px;background:linear-gradient(90deg,#135ea2 0.5px,#1861a6 35.5px,#2468ae 39.5px,#377fbe 42.5px,#5898cc 45.5px,#64a0d1 47.5px,#6da7d4 58.5px,#76add8 82.5px,#89b8dd 90.5px,#8fbbdf 117.5px,#91bde0 144.5px,#93bee0 154.5px)"></i><i style="top:246px;background:linear-gradient(90deg,#135ea2 0.5px,#1761a6 35.5px,#2266ac 39.5px,#357dbc 42.5px,#5697cb 45.5px,#64a0d1 47.5px,#6ca6d4 55.5px,#76add8 82.5px,#88b8dd 90.5px,#8cbade 121.5px,#90bcdf 146.5px,#91bde0 154.5px)"></i><i style="top:247px;background:linear-gradient(90deg,#135ea2 0.5px,#1861a6 36.5px,#2065ab 39.5px,#3a82c0 43.5px,#5394ca 45.5px,#629fd0 47.5px,#69a4d3 52.5px,#75acd7 82.5px,#86b6dd 91.5px,#89b8dd 126.5px,#8ebbdf 154.5px)"></i><i style="top:248px;background:linear-gradient(90deg,#135ea2 0.5px,#1862a7 37.5px,#2367ad 40.5px,#367ebd 43.5px,#5596cb 46.5px,#609ecf 48.5px,#66a2d2 60.5px,#73abd7 83.5px,#80b3db 92.5px,#85b6dc 125.5px,#8bb9de 153.5px,#8ab9de 154.5px)"></i><i style="top:249px;background:linear-gradient(90deg,#135ea2 0.5px,#1761a6 37.5px,#2065ab 40.5px,#3880bf 44.5px,#4b8fc7 46.5px,#5697cc 49.5px,#63a0d0 75.5px,#77aed8 97.5px,#7eb2da 128.5px,#85b6dc 153.5px,#83b5dc 154.5px)"></i><i style="top:250px;background:linear-gradient(90deg,#135da2 0.5px,#1761a6 38.5px,#2165ab 41.5px,#3b83c0 46.5px,#478cc5 49.5px,#5193c9 73.5px,#70a8d5 112.5px,#79afd9 145.5px,#7bb0da 153.5px,#79afd9 154.5px)"></i><i style="top:251px;background:linear-gradient(90deg,#135da2 0.5px,#1761a6 39.5px,#2165ab 42.5px,#3179b9 46.5px,#377fbe 53.5px,#3c83c1 73.5px,#609ecf 121.5px,#6aa4d3 145.5px,#6ca6d4 153.5px,#6aa5d3 154.5px)"></i><i style="top:252px;background:linear-gradient(90deg,#135da2 0.5px,#1761a6 40.5px,#256aaf 45.5px,#2b73b5 50.5px,#357dbc 87.5px,#4087c3 105.5px,#4e91c8 128.5px,#5697cc 153.5px,#5596cb 154.5px)"></i><i style="top:253px;background:linear-gradient(90deg,#135da2 0.5px,#1761a6 42.5px,#2266ac 50.5px,#276eb1 79.5px,#3a82c0 129.5px,#4288c3 154.5px)"></i><i style="top:254px;background:linear-gradient(90deg,#135da2 0.5px,#1660a5 44.5px,#2469ae 96.5px,#3078b9 129.5px,#347cbc 154.5px)"></i><i style="top:255px;background:linear-gradient(90deg,#135da2 0.5px,#1a62a8 90.5px,#286fb2 137.5px,#2a72b4 154.5px)"></i><i style="top:256px;background:linear-gradient(90deg,#135da2 0.5px,#1862a7 103.5px,#2367ad 154.5px)"></i><i style="top:257px;background:linear-gradient(90deg,#135da2 0.5px,#1761a6 118.5px,#1c63a8 154.5px)"></i><i style="top:258px;background:linear-gradient(90deg,#135da2 0.5px,#1761a6 154.5px)"></i><i style="top:259px;background:linear-gradient(90deg,#135da2 0.5px,#155fa4 154.5px)"></i><i style="top:260px;background:linear-gradient(90deg,#135da2 0.5px,#145ea3 154.5px)"></i><i style="top:261px;background:linear-gradient(90deg,#135da2 0.5px,#135ea2 154.5px)"></i><i style="top:262px;background:linear-gradient(90deg,#135da2 0.5px,#135da2 154.5px)"></i><i style="top:263px;background:linear-gradient(90deg,#135da2 0.5px,#135da2 154.5px)"></i><i style="top:264px;background:linear-gradient(90deg,#135da2 0.5px,#135da2 154.5px)"></i><i style="top:265px;background:linear-gradient(90deg,#135da2 0.5px,#135da2 154.5px)"></i><i style="top:266px;background:linear-gradient(90deg,#135da2 0.5px,#135da2 154.5px)"></i><i style="top:267px;background:linear-gradient(90deg,#135da2 0.5px,#135da2 154.5px)"></i><i style="top:268px;background:linear-gradient(90deg,#135da2 0.5px,#135da2 154.5px)"></i><i style="top:269px;background:linear-gradient(90deg,#135da2 0.5px,#135da2 154.5px)"></i><i style="top:270px;background:linear-gradient(90deg,#135da2 0.5px,#135da2 154.5px)"></i><i style="top:271px;background:linear-gradient(90deg,#135da2 0.5px,#135da2 154.5px)"></i><i style="top:272px;background:linear-gradient(90deg,#135da2 0.5px,#135da2 154.5px)"></i><i style="top:273px;background:linear-gradient(90deg,#135da2 0.5px,#135da2 154.5px)"></i><i style="top:274px;background:linear-gradient(90deg,#135da2 0.5px,#135da2 154.5px)"></i><i style="top:275px;background:linear-gradient(90deg,#135da2 0.5px,#135da2 154.5px)"></i><i style="top:276px;background:linear-gradient(90deg,#135da2 0.5px,#135da2 154.5px)"></i><i style="top:277px;background:linear-gradient(90deg,#135da2 0.5px,#135da2 154.5px)"></i><i style="top:278px;background:linear-gradient(90deg,#135da2 0.5px,#135da2 154.5px)"></i><i style="top:279px;background:linear-gradient(90deg,#135da2 0.5px,#135da2 154.5px)"></i><i style="top:280px;background:linear-gradient(90deg,#135da2 0.5px,#135da2 154.5px)"></i><i style="top:281px;background:linear-gradient(90deg,#135da2 0.5px,#135da2 154.5px)"></i><i style="top:282px;background:linear-gradient(90deg,#135da2 0.5px,#135da2 154.5px)"></i><i style="top:283px;background:linear-gradient(90deg,#135da2 0.5px,#135da2 154.5px)"></i><i style="top:284px;background:linear-gradient(90deg,#135da2 0.5px,#135da2 154.5px)"></i><i style="top:285px;background:linear-gradient(90deg,#135da2 0.5px,#135da2 154.5px)"></i><i style="top:286px;background:linear-gradient(90deg,#135da2 0.5px,#135da2 154.5px)"></i><i style="top:287px;background:linear-gradient(90deg,#135da2 0.5px,#135da2 154.5px)"></i><i style="top:288px;background:linear-gradient(90deg,#135da2 0.5px,#135da2 154.5px)"></i><i style="top:289px;background:linear-gradient(90deg,#135da2 0.5px,#135da2 154.5px)"></i><i style="top:290px;background:linear-gradient(90deg,#135da2 0.5px,#135da2 154.5px)"></i><i style="top:291px;background:linear-gradient(90deg,#135da2 0.5px,#135da2 154.5px)"></i><i style="top:292px;background:linear-gradient(90deg,#135da2 0.5px,#135da2 154.5px)"></i><i style="top:293px;background:linear-gradient(90deg,#135da2 0.5px,#135da2 154.5px)"></i><i style="top:294px;background:linear-gradient(90deg,#135da2 0.5px,#135da2 154.5px)"></i><i style="top:295px;background:linear-gradient(90deg,#135da2 0.5px,#135da2 154.5px)"></i><i style="top:296px;background:linear-gradient(90deg,#135da2 0.5px,#135da2 154.5px)"></i><i style="top:297px;background:linear-gradient(90deg,#135da2 0.5px,#135da2 154.5px)"></i><i style="top:298px;background:linear-gradient(90deg,#135da2 0.5px,#135da2 154.5px)"></i><i style="top:299px;background:linear-gradient(90deg,#135da2 0.5px,#135da2 154.5px)"></i><i style="top:300px;background:linear-gradient(90deg,#135da2 0.5px,#135da2 154.5px)"></i><i style="top:301px;background:linear-gradient(90deg,#135da2 0.5px,#135da2 154.5px)"></i><i style="top:302px;background:linear-gradient(90deg,#135da2 0.5px,#135da2 154.5px)"></i><i style="top:303px;background:linear-gradient(90deg,#135da2 0.5px,#135da2 154.5px)"></i><i style="top:304px;background:linear-gradient(90deg,#135da2 0.5px,#135da2 154.5px)"></i><i style="top:305px;background:linear-gradient(90deg,#135da2 0.5px,#135da2 154.5px)"></i><i style="top:306px;background:linear-gradient(90deg,#135da2 0.5px,#135da2 154.5px)"></i><i style="top:307px;background:linear-gradient(90deg,#135da2 0.5px,#135da2 154.5px)"></i><i style="top:308px;background:linear-gradient(90deg,#135da2 0.5px,#135da2 154.5px)"></i><i style="top:309px;background:linear-gradient(90deg,#135da2 0.5px,#135da2 154.5px)"></i><i style="top:310px;background:linear-gradient(90deg,#135da2 0.5px,#135da2 154.5px)"></i><i style="top:311px;background:linear-gradient(90deg,#135da2 0.5px,#135da2 154.5px)"></i><i style="top:312px;background:linear-gradient(90deg,#135da2 0.5px,#135da2 154.5px)"></i><i style="top:313px;background:linear-gradient(90deg,#135da2 0.5px,#135da2 154.5px)"></i><i style="top:314px;background:linear-gradient(90deg,#135da2 0.5px,#135da2 154.5px)"></i><i style="top:315px;background:linear-gradient(90deg,#135da2 0.5px,#135da2 154.5px)"></i><i style="top:316px;background:linear-gradient(90deg,#135da2 0.5px,#135da2 154.5px)"></i><i style="top:317px;background:linear-gradient(90deg,#135da2 0.5px,#135da2 154.5px)"></i><i style="top:318px;background:linear-gradient(90deg,#135da2 0.5px,#135da2 154.5px)"></i><i style="top:319px;background:linear-gradient(90deg,#135da2 0.5px,#135da2 154.5px)"></i><i style="top:320px;background:linear-gradient(90deg,#135da2 0.5px,#135da2 154.5px)"></i><i style="top:321px;background:linear-gradient(90deg,#135da2 0.5px,#135da2 154.5px)"></i><i style="top:322px;background:linear-gradient(90deg,#135da2 0.5px,#135da2 154.5px)"></i><i style="top:323px;background:linear-gradient(90deg,#135da2 0.5px,#135da2 154.5px)"></i></div>
<div class="hm" style="left:418px;top:44px;width:155px;height:323px"><i style="top:0px;background:linear-gradient(90deg,#ba161c 0.5px,#af141b 45.5px,#b6151c 69.5px,#cf1d20 79.5px,#e02e29 142.5px,#e83e32 154.5px)"></i><i style="top:1px;background:linear-gradient(90deg,#b9161c 0.5px,#af141b 45.5px,#b5151c 69.5px,#ce1c20 79.5px,#e02e29 142.5px,#e83e32 154.5px)"></i><i style="top:2px;background:linear-gradient(90deg,#b9161c 0.5px,#af131b 45.5px,#b5151c 69.5px,#ce1c20 79.5px,#e02e29 142.5px,#e83e32 154.5px)"></i><i style="top:3px;background:linear-gradient(90deg,#b9161c 0.5px,#ae131b 45.5px,#b5151c 69.5px,#cf1d21 80.5px,#e02e29 142.5px,#e83e32 154.5px)"></i><i style="top:4px;background:linear-gradient(90deg,#b9161c 0.5px,#ae131b 45.5px,#b4151c 69.5px,#cf1d21 80.5px,#e02e29 142.5px,#e83e32 154.5px)"></i><i style="top:5px;background:linear-gradient(90deg,#b9161c 0.5px,#ae131b 44.5px,#b4151c 69.5px,#cf1d20 80.5px,#e02e29 142.5px,#e83e32 154.5px)"></i><i style="top:6px;background:linear-gradient(90deg,#b9161c 0.5px,#ae131b 44.5px,#b4151c 69.5px,#cf1d20 80.5px,#e02e29 142.5px,#e83e32 154.5px)"></i><i style="top:7px;background:linear-gradient(90deg,#b9161c 0.5px,#ae131b 44.5px,#b4151c 69.5px,#cf1d20 80.5px,#e02e29 142.5px,#e83e32 154.5px)"></i><i style="top:8px;background:linear-gradient(90deg,#b9161c 0.5px,#ae131b 44.5px,#b4151c 69.5px,#cf1d20 80.5px,#e02e29 142.5px,#e83e32 154.5px)"></i><i style="top:9px;background:linear-gradient(90deg,#b9161c 0.5px,#ae131b 44.5px,#b4151c 69.5px,#cf1d20 80.5px,#e02e29 142.5px,#e83e32 154.5px)"></i><i style="top:10px;background:linear-gradient(90deg,#b9161c 0.5px,#ae131b 44.5px,#b4151c 69.5px,#cf1d20 80.5px,#e02e29 142.5px,#e83e32 154.5px)"></i><i style="top:11px;background:linear-gradient(90deg,#b9161c 0.5px,#ae131b 45.5px,#b4151c 69.5px,#cf1d21 80.5px,#e02e29 142.5px,#e83e32 154.5px)"></i><i style="top:12px;background:linear-gradient(90deg,#b9161c 0.5px,#ae131b 45.5px,#b5151c 69.5px,#cf1d21 80.5px,#e02e29 142.5px,#e83e32 154.5px)"></i><i style="top:13px;background:linear-gradient(90deg,#b9161c 0.5px,#af131b 45.5px,#b5151c 69.5px,#ce1c20 79.5px,#e02e29 142.5px,#e83e32 154.5px)"></i><i style="top:14px;background:linear-gradient(90deg,#b9161c 0.5px,#af141b 45.5px,#b5151c 69.5px,#ce1c20 79.5px,#e02e29 142.5px,#e83e32 154.5px)"></i><i style="top:15px;background:linear-gradient(90deg,#ba161c 0.5px,#af141b 45.5px,#b6151c 69.5px,#cf1d20 79.5px,#e02e29 142.5px,#e83e32 154.5px)"></i><i style="top:16px;background:linear-gradient(90deg,#ba161d 0.5px,#b0141b 46.5px,#b6151c 69.5px,#cf1d20 79.5px,#e02e29 142.5px,#e83e32 154.5px)"></i><i style="top:17px;background:linear-gradient(90deg,#ba161d 0.5px,#b1141b 46.5px,#b6151c 69.5px,#cf1d21 79.5px,#e02e29 142.5px,#e83e32 154.5px)"></i><i style="top:18px;background:linear-gradient(90deg,#bb161d 0.5px,#b1141b 47.5px,#b7151c 69.5px,#d01e21 79.5px,#e02e29 142.5px,#e83e32 154.5px)"></i><i style="top:19px;background:linear-gradient(90deg,#bb161d 0.5px,#b2141b 47.5px,#b8151c 69.5px,#d01e21 79.5px,#e02e29 142.5px,#e83e32 154.5px)"></i><i style="top:20px;background:linear-gradient(90deg,#bc161d 0.5px,#b3141b 47.5px,#b8161c 69.5px,#d01e21 79.5px,#e02e29 142.5px,#e83e32 154.5px)"></i><i style="top:21px;background:linear-gradient(90deg,#bc161d 0.5px,#b3151c 48.5px,#b9161c 69.5px,#d11f21 79.5px,#e02e29 142.5px,#e83e32 154.5px)"></i><i style="top:22px;background:linear-gradient(90deg,#bd171d 0.5px,#b4151c 49.5px,#b9161c 69.5px,#d11f21 79.5px,#e02e29 142.5px,#e83e32 154.5px)"></i><i style="top:23px;background:linear-gradient(90deg,#bd171d 0.5px,#b5151c 49.5px,#ba161d 69.5px,#d11f22 79.5px,#e02e29 142.5px,#e83e32 154.5px)"></i><i style="top:24px;background:linear-gradient(90deg,#be171d 0.5px,#b6151c 50.5px,#bb161d 69.5px,#d22022 79.5px,#e02e29 142.5px,#e83e32 154.5px)"></i><i style="top:25px;background:linear-gradient(90deg,#be171d 0.5px,#b7151c 51.5px,#bc161d 69.5px,#d11f21 78.5px,#dc2a27 131.5px,#e2302a 144.5px,#e83f32 154.5px)"></i><i style="top:26px;background:linear-gradient(90deg,#bf171d 0.5px,#b8161c 51.5px,#bc171d 69.5px,#d22022 78.5px,#dd2b27 132.5px,#e2312a 144.5px,#e93f32 154.5px)"></i><i style="top:27px;background:linear-gradient(90deg,#c0171d 0.5px,#b9161c 52.5px,#bd171d 69.5px,#d22022 78.5px,#dd2b28 132.5px,#e3312b 144.5px,#e93f33 154.5px)"></i><i style="top:28px;background:linear-gradient(90deg,#c1171d 0.5px,#ba161d 53.5px,#bf171d 69.5px,#d11f22 77.5px,#d72524 87.5px,#e12f29 142.5px,#e94033 154.5px)"></i><i style="top:29px;background:linear-gradient(90deg,#c2181e 0.5px,#bc161d 54.5px,#c0171d 69.5px,#d01e21 76.5px,#d72525 84.5px,#e12f2a 142.5px,#e94033 154.5px)"></i><i style="top:30px;background:linear-gradient(90deg,#c3181e 0.5px,#bd171d 55.5px,#c1181d 69.5px,#d32122 77.5px,#d82625 87.5px,#e2302a 142.5px,#e94134 154.5px)"></i><i style="top:31px;background:linear-gradient(90deg,#c4181e 0.5px,#bf171d 57.5px,#c2181e 69.5px,#d22022 76.5px,#d92725 84.5px,#e2302a 142.5px,#ea4234 154.5px)"></i><i style="top:32px;background:linear-gradient(90deg,#c5181e 0.5px,#c0171d 58.5px,#c4181e 69.5px,#d32122 76.5px,#da2826 84.5px,#e2302a 141.5px,#ea4234 154.5px)"></i><i style="top:33px;background:linear-gradient(90deg,#c6191e 0.5px,#c2181e 59.5px,#c5181e 69.5px,#d42223 76.5px,#da2826 84.5px,#e2302a 141.5px,#ea4335 154.5px)"></i><i style="top:34px;background:linear-gradient(90deg,#c7191e 0.5px,#c3181e 61.5px,#c8191e 70.5px,#db2926 81.5px,#e3312b 141.5px,#eb4435 154.5px)"></i><i style="top:35px;background:linear-gradient(90deg,#c9191f 0.5px,#c5181e 62.5px,#ca1a1f 70.5px,#dc2a27 81.5px,#e3312b 140.5px,#eb4536 154.5px)"></i><i style="top:36px;background:linear-gradient(90deg,#ca1a1f 0.5px,#c7191e 64.5px,#cd1b20 71.5px,#dd2b27 81.5px,#e3322b 140.5px,#ec4637 154.5px)"></i><i style="top:37px;background:linear-gradient(90deg,#cc1a1f 0.5px,#c9191f 66.5px,#d22022 73.5px,#de2c28 82.5px,#e4342c 140.5px,#ec4737 154.5px)"></i><i style="top:38px;background:linear-gradient(90deg,#cd1b1f 0.5px,#cb1a1f 67.5px,#df2d29 82.5px,#e4352d 140.5px,#ed4938 154.5px)"></i><i style="top:39px;background:linear-gradient(90deg,#ce1c20 0.5px,#cd1b1f 68.5px,#e02e29 81.5px,#e5362d 140.5px,#ed4a39 154.5px)"></i><i style="top:40px;background:linear-gradient(90deg,#cf1d20 0.5px,#cf1d20 69.5px,#e12f2a 81.5px,#e5372e 140.5px,#ee4b39 154.5px)"></i><i style="top:41px;background:linear-gradient(90deg,#d01e21 0.5px,#d01e21 69.5px,#e2302a 81.5px,#e6392f 140.5px,#ee4d3a 154.5px)"></i><i style="top:42px;background:linear-gradient(90deg,#d11f21 0.5px,#d11f22 69.5px,#e3322b 81.5px,#e63a30 140.5px,#ef4e3b 154.5px)"></i><i style="top:43px;background:linear-gradient(90deg,#d22022 0.5px,#d22022 69.5px,#e4342c 81.5px,#e73c31 140.5px,#f04f3c 154.5px)"></i><i style="top:44px;background:linear-gradient(90deg,#d32123 0.5px,#d32123 69.5px,#e5362d 81.5px,#e83d31 140.5px,#f0513d 154.5px)"></i><i style="top:45px;background:linear-gradient(90deg,#d42223 0.5px,#d52323 69.5px,#e5382e 81.5px,#e83f32 140.5px,#f0523e 154.5px)"></i><i style="top:46px;background:linear-gradient(90deg,#d52324 0.5px,#d62424 69.5px,#e63a30 81.5px,#e94033 140.5px,#f0543f 154.5px)"></i><i style="top:47px;background:linear-gradient(90deg,#d62424 0.5px,#d72525 69.5px,#e73c31 81.5px,#ea4234 140.5px,#f15540 154.5px)"></i><i style="top:48px;background:linear-gradient(90deg,#d82625 0.5px,#d82625 69.5px,#e83e32 81.5px,#eb4335 140.5px,#f15741 154.5px)"></i><i style="top:49px;background:linear-gradient(90deg,#d92725 0.5px,#d92726 69.5px,#e4362d 76.5px,#e94033 81.5px,#eb4536 140.5px,#f15842 154.5px)"></i><i style="top:50px;background:linear-gradient(90deg,#da2826 0.5px,#db2926 69.5px,#e5382e 76.5px,#ea4234 81.5px,#ec4737 140.5px,#f15a44 154.5px)"></i><i style="top:51px;background:linear-gradient(90deg,#db2926 0.5px,#dc2a27 69.5px,#e5362e 75.5px,#ea4335 81.5px,#ed4838 140.5px,#f15b45 154.5px)"></i><i style="top:52px;background:linear-gradient(90deg,#dc2a27 0.5px,#dd2b27 69.5px,#e6382f 75.5px,#eb4536 81.5px,#ee4b39 140.5px,#f25e47 154.5px)"></i><i style="top:53px;background:linear-gradient(90deg,#dd2b28 0.5px,#de2c28 69.5px,#e63a30 75.5px,#ec4737 81.5px,#ef4d3a 139.5px,#f26149 154.5px)"></i><i style="top:54px;background:linear-gradient(90deg,#de2c28 0.5px,#df2d29 69.5px,#e93f33 76.5px,#ed4938 81.5px,#ef4e3b 137.5px,#f2644c 154.5px)"></i><i style="top:55px;background:linear-gradient(90deg,#df2d29 0.5px,#e02e29 69.5px,#ed4a39 80.5px,#f04f3c 133.5px,#f25f47 146.5px,#f3684f 154.5px)"></i><i style="top:56px;background:linear-gradient(90deg,#e02e29 0.5px,#e12f2a 69.5px,#ee4c3a 80.5px,#f0513d 132.5px,#f2664d 148.5px,#f36c52 154.5px)"></i><i style="top:57px;background:linear-gradient(90deg,#e12f2a 0.5px,#e2312a 69.5px,#ef4e3b 80.5px,#f0533e 131.5px,#f47156 154.5px)"></i><i style="top:58px;background:linear-gradient(90deg,#e2302a 0.5px,#e3322b 69.5px,#f04f3c 80.5px,#f0543f 130.5px,#f26149 134.5px,#f25f48 138.5px,#f4765a 154.5px)"></i><i style="top:59px;background:linear-gradient(90deg,#e3322b 0.5px,#e4342c 69.5px,#f0513d 80.5px,#f15742 130.5px,#f2624a 132.5px,#f47156 134.5px,#f2634b 137.5px,#f47c60 154.5px)"></i><i style="top:60px;background:linear-gradient(90deg,#e4342c 0.5px,#e5362d 69.5px,#f0533e 80.5px,#f15842 115.5px,#f15943 126.5px,#f15b44 130.5px,#f26048 131.5px,#f36d52 132.5px,#f58164 133.5px,#f58c6f 134.5px,#f58164 135.5px,#f47055 136.5px,#f36950 137.5px,#f58265 154.5px)"></i><i style="top:61px;background:linear-gradient(90deg,#e4352d 0.5px,#e5382e 69.5px,#f0543f 80.5px,#f15943 113.5px,#f26048 123.5px,#f15c46 129.5px,#f25e47 130.5px,#f2664d 131.5px,#f47b5f 132.5px,#f69c7e 133.5px,#f7a98d 134.5px,#f6997b 135.5px,#f47d61 136.5px,#f47055 137.5px,#f36f54 139.5px,#f5886b 153.5px,#f5886b 154.5px)"></i><i style="top:62px;background:linear-gradient(90deg,#e5372e 0.5px,#e6392f 69.5px,#f15641 80.5px,#f15b44 112.5px,#f2664d 122.5px,#f26048 129.5px,#f2634a 130.5px,#f36d53 131.5px,#f58c6f 132.5px,#f8b399 133.5px,#fac3ad 134.5px,#f8ae94 135.5px,#f58c6f 136.5px,#f4775b 137.5px,#f47257 138.5px,#f58d70 153.5px,#f58e70 154.5px)"></i><i style="top:63px;background:linear-gradient(90deg,#e6392f 0.5px,#e73b30 69.5px,#f15742 80.5px,#f15c46 111.5px,#f36d53 121.5px,#f2644c 129.5px,#f3674e 130.5px,#f47559 131.5px,#f69d7f 132.5px,#fac9b6 133.5px,#fadbce 134.5px,#fac2ad 135.5px,#f69b7d 136.5px,#f57f63 137.5px,#f4785c 138.5px,#f69375 153.5px,#f69376 154.5px)"></i><i style="top:64px;background:linear-gradient(90deg,#e63a30 0.5px,#e73c31 69.5px,#f15742 79.5px,#f15d46 110.5px,#f47559 121.5px,#f36b51 127.5px,#f3684f 129.5px,#f36c52 130.5px,#f57f63 131.5px,#f8ac91 132.5px,#f9ded2 133.5px,#f0eaeb 134.5px,#fbd7c7 135.5px,#f7a88d 136.5px,#f5886b 137.5px,#f57e61 138.5px,#f6987a 153.5px,#f6987b 154.5px)"></i><i style="top:65px;background:linear-gradient(90deg,#e73c31 0.5px,#e83e32 69.5px,#f15a44 80.5px,#f25e47 109.5px,#f47055 116.5px,#f57e61 121.5px,#f4775b 125.5px,#f36d52 129.5px,#f47256 130.5px,#f58b6e 131.5px,#f9bca5 132.5px,#eeebed 133.5px,#dfe8f3 134.5px,#f5e9e4 135.5px,#f9b79e 136.5px,#f69274 137.5px,#f58367 138.5px,#f58f72 145.5px,#f69d80 154.5px)"></i><i style="top:66px;background:linear-gradient(90deg,#e83d31 0.5px,#e93f33 69.5px,#f15a44 79.5px,#f26048 109.5px,#f47055 115.5px,#f58467 120.5px,#f58467 123.5px,#f47256 128.5px,#f47156 129.5px,#f4785c 130.5px,#f69779 131.5px,#facfbd 132.5px,#dee7f3 133.5px,#cddff0 134.5px,#e3e9f2 135.5px,#fac6b2 136.5px,#f69b7e 137.5px,#f5896c 138.5px,#f5896c 140.5px,#f7a589 154.5px)"></i><i style="top:67px;background:linear-gradient(90deg,#e83e32 0.5px,#e94133 69.5px,#f15d46 80.5px,#f2624a 109.5px,#f47358 115.5px,#f58a6d 120.5px,#f58a6d 123.5px,#f47559 128.5px,#f47559 129.5px,#f58063 130.5px,#f7a387 131.5px,#f8e0d7 132.5px,#cddef0 133.5px,#b2cfe8 134.5px,#d5e3f2 135.5px,#fbd7c8 136.5px,#f7a589 137.5px,#f58f71 138.5px,#f58a6d 139.5px,#f8af94 154.5px)"></i><i style="top:68px;background:linear-gradient(90deg,#e94033 0.5px,#ea4234 69.5px,#f25e47 80.5px,#f2624a 108.5px,#f47156 114.5px,#f58e70 120.5px,#f58e70 123.5px,#f4785c 128.5px,#f4785c 129.5px,#f5876a 130.5px,#f8af95 131.5px,#eeebec 132.5px,#b8d2ea 133.5px,#94bee0 134.5px,#c5daee 135.5px,#f6e6e0 136.5px,#f8b096 137.5px,#f6987a 138.5px,#f69274 139.5px,#f9b79f 153.5px,#f9b9a0 154.5px)"></i><i style="top:69px;background:linear-gradient(90deg,#e94134 0.5px,#ea4335 69.5px,#f25f48 80.5px,#f2634b 108.5px,#f47256 114.5px,#f58e71 120.5px,#f58e71 123.5px,#f47a5d 128.5px,#f47c60 129.5px,#f58f72 130.5px,#f9bea7 131.5px,#e1e9f2 132.5px,#9fc4e3 133.5px,#78aed8 134.5px,#e7ebf2 136.5px,#f9c2ac 137.5px,#f7a589 138.5px,#f69e81 139.5px,#fac4af 154.5px)"></i><i style="top:70px;background:linear-gradient(90deg,#ea4234 0.5px,#eb4435 69.5px,#f2654c 82.5px,#f2614a 92.5px,#f2644c 98.5px,#f2644b 108.5px,#f47257 114.5px,#f58f71 120.5px,#f59073 123.5px,#f58366 128.5px,#f5886b 129.5px,#f7a083 130.5px,#fbd2c1 131.5px,#d5e3f2 132.5px,#85b6dc 133.5px,#64a0d1 134.5px,#93bee0 135.5px,#dbe7f3 136.5px,#fbd6c7 137.5px,#f9b69d 138.5px,#f8ad92 139.5px,#fbd0bf 154.5px)"></i><i style="top:71px;background:linear-gradient(90deg,#ea4335 0.5px,#eb4636 69.5px,#f26149 79.5px,#f3684f 80.5px,#f47559 81.5px,#f4795c 82.5px,#f2644c 84.5px,#f3674e 95.5px,#f57e62 97.5px,#f36a50 99.5px,#f3674e 102.5px,#f47055 111.5px,#f58568 116.5px,#f6987a 121.5px,#f69678 125.5px,#f69275 128.5px,#f69b7d 129.5px,#f8b49b 130.5px,#f6e5df 131.5px,#c6dbee 132.5px,#71a9d6 133.5px,#5495cb 134.5px,#7cb1da 135.5px,#cddef0 136.5px,#f6e8e3 137.5px,#fac9b6 138.5px,#f9bea6 139.5px,#f9c0a9 141.5px,#fadbce 153.5px,#f9dcd0 154.5px)"></i><i style="top:72px;background:linear-gradient(90deg,#eb4435 0.5px,#ec4737 69.5px,#f2654c 79.5px,#f47d61 80.5px,#f8ad93 81.5px,#f9b89f 82.5px,#f59073 83.5px,#f47256 84.5px,#f36d52 86.5px,#f47156 94.5px,#f47c5f 95.5px,#fac3ad 97.5px,#f8ac91 98.5px,#f58568 99.5px,#f4765a 100.5px,#f47c60 109.5px,#f58f72 115.5px,#f7a387 121.5px,#f7a68a 128.5px,#f8b096 129.5px,#faccb9 130.5px,#e6eaf2 131.5px,#b2cfe9 132.5px,#629fd0 133.5px,#4b8fc7 134.5px,#6ba5d3 135.5px,#bbd4eb 136.5px,#e5eaf2 137.5px,#f9ddd2 138.5px,#fbd1c0 139.5px,#fbd1c1 141.5px,#f6e7e1 153.5px,#f6e8e3 154.5px)"></i><i style="top:73px;background:linear-gradient(90deg,#eb4536 0.5px,#ec4837 69.5px,#f25e47 77.5px,#f2634b 78.5px,#f47256 79.5px,#f7a98e 80.5px,#e9ebf1 81.5px,#e0e8f3 82.5px,#fac5b1 83.5px,#f58f72 84.5px,#f58164 85.5px,#f58568 93.5px,#f5896c 94.5px,#f7a084 95.5px,#f9ded3 96.5px,#d8e5f3 97.5px,#f0eaeb 98.5px,#f8af95 99.5px,#f69173 100.5px,#f58c6f 101.5px,#f69b7d 112.5px,#f8b49a 121.5px,#f9b9a1 127.5px,#f9bda6 128.5px,#fac9b6 129.5px,#f7e3dc 130.5px,#dae6f3 131.5px,#9ec4e3 132.5px,#5596cb 133.5px,#4489c4 134.5px,#5c9bce 135.5px,#a8c9e6 136.5px,#dae6f3 137.5px,#eeebec 138.5px,#f7e4dd 139.5px,#f8e2d9 140.5px,#f1eaea 148.5px,#eeebec 154.5px)"></i><i style="top:74px;background:linear-gradient(90deg,#ec4636 0.5px,#ed4938 69.5px,#f15a44 75.5px,#f47156 78.5px,#f59072 79.5px,#fadbcf 80.5px,#adcce7 81.5px,#94bee0 82.5px,#e6eaf2 83.5px,#f8b59c 84.5px,#f69d7f 85.5px,#f69b7d 87.5px,#f7a084 93.5px,#f7a78b 94.5px,#facbb8 95.5px,#d2e2f1 96.5px,#80b3db 97.5px,#bcd5eb 98.5px,#f9ddd2 99.5px,#f8b097 100.5px,#f7a88c 101.5px,#f8b49b 112.5px,#facfbe 124.5px,#fbd5c5 127.5px,#fad9cc 128.5px,#f7e4dd 129.5px,#e5eaf2 130.5px,#caddef 131.5px,#4e91c8 133.5px,#3e85c2 134.5px,#5294ca 135.5px,#93bde0 136.5px,#cbddef 137.5px,#dfe8f3 138.5px,#e6eaf2 139.5px,#ecebee 154.5px)"></i><i style="top:75px;background:linear-gradient(90deg,#ec4737 0.5px,#ed4938 69.5px,#f0543f 73.5px,#f4795d 77.5px,#f58b6e 78.5px,#f9b69e 79.5px,#dbe6f3 80.5px,#5b9acd 81.5px,#4a8ec6 82.5px,#bad4eb 83.5px,#f8e0d6 84.5px,#f9bca4 85.5px,#f9b69d 86.5px,#f9bea6 93.5px,#facab6 94.5px,#e8ebf2 95.5px,#8ebbdf 96.5px,#4086c2 97.5px,#6ba6d4 98.5px,#dbe6f3 99.5px,#fbd7c8 100.5px,#fac7b3 101.5px,#facfbd 110.5px,#f5eae6 124.5px,#ecebee 127.5px,#dfe8f3 129.5px,#d1e1f1 130.5px,#b3d0e9 131.5px,#7ab0d9 132.5px,#498dc6 133.5px,#3a82c0 134.5px,#4b8fc7 135.5px,#7db1da 136.5px,#aecde7 137.5px,#c4d9ee 138.5px,#e3e9f2 145.5px,#ebebef 152.5px,#ebebef 154.5px)"></i><i style="top:76px;background:linear-gradient(90deg,#ed4938 0.5px,#ed4a39 69.5px,#f15540 72.5px,#f4775b 75.5px,#f69577 77.5px,#f8ac91 78.5px,#f7e3db 79.5px,#a3c6e4 80.5px,#377fbe 81.5px,#337bbb 82.5px,#6fa8d5 83.5px,#dae6f3 84.5px,#f8e1d7 85.5px,#fbd7c8 86.5px,#fadbcf 92.5px,#f9ded4 93.5px,#efeaeb 94.5px,#c5daee 95.5px,#4d90c8 96.5px,#3078b8 97.5px,#3c84c1 98.5px,#a7c9e5 99.5px,#e3e9f2 100.5px,#f6e8e3 101.5px,#f6e5df 102.5px,#f0eaea 111.5px,#e4e9f2 114.5px,#c6daee 123.5px,#c0d7ec 128.5px,#bbd4eb 129.5px,#b1cee8 130.5px,#9bc2e2 131.5px,#4489c4 133.5px,#3880be 134.5px,#458ac5 135.5px,#6fa8d5 136.5px,#94bee0 137.5px,#a3c7e4 138.5px,#b0cee8 140.5px,#dae6f3 144.5px,#e7ebf2 148.5px,#eaebf0 154.5px)"></i><i style="top:77px;background:linear-gradient(90deg,#ef4d3a 0.5px,#ee4c3a 41.5px,#ed4938 68.5px,#f15943 71.5px,#f47156 73.5px,#f8b399 77.5px,#fbd2c1 78.5px,#d7e4f2 79.5px,#5a9acd 80.5px,#2e76b7 81.5px,#2b73b5 82.5px,#3e85c2 83.5px,#a4c7e4 84.5px,#dae6f3 85.5px,#e3e9f2 86.5px,#dbe6f3 92.5px,#d6e3f2 93.5px,#bfd6ec 94.5px,#6aa4d3 95.5px,#337bbb 96.5px,#2970b3 97.5px,#2e76b7 98.5px,#4d90c8 99.5px,#9dc3e3 100.5px,#bfd7ec 101.5px,#c3d9ee 102.5px,#a1c6e4 111.5px,#77add8 117.5px,#6ba5d4 121.5px,#71a9d6 124.5px,#8fbcdf 129.5px,#91bcdf 130.5px,#86b6dd 131.5px,#3f86c2 133.5px,#367ebd 134.5px,#4086c2 135.5px,#83b5dc 137.5px,#8fbbdf 138.5px,#96bfe1 139.5px,#b1cee8 141.5px,#c3d9ed 142.5px,#d9e5f3 144.5px,#e6eaf2 147.5px,#eaebf0 154.5px)"></i><i style="top:78px;background:linear-gradient(90deg,#f0523e 0.5px,#f0533e 40.5px,#ee4b39 62.5px,#ef4d3a 67.5px,#f2614a 70.5px,#f47a5e 72.5px,#f8b399 75.5px,#fac2ac 76.5px,#fbd6c7 77.5px,#e6eaf2 78.5px,#a0c5e3 79.5px,#367ebd 80.5px,#296fb3 81.5px,#286eb2 82.5px,#2e76b7 83.5px,#4489c4 84.5px,#76add8 85.5px,#8fbbdf 86.5px,#91bcdf 87.5px,#7bb0da 92.5px,#70a9d5 93.5px,#357dbc 95.5px,#2a71b4 96.5px,#276db1 97.5px,#286fb2 98.5px,#3078b8 99.5px,#5193c9 101.5px,#5596cb 102.5px,#377fbe 115.5px,#3981bf 121.5px,#478cc5 124.5px,#5898cc 126.5px,#7cb1da 129.5px,#83b5dc 130.5px,#7bb0da 131.5px,#3e85c2 133.5px,#377fbe 134.5px,#3f85c2 135.5px,#7db2da 137.5px,#8cbade 138.5px,#a1c5e4 140.5px,#c2d8ed 142.5px,#d9e5f3 144.5px,#e6eaf2 147.5px,#eaebf0 154.5px)"></i><i style="top:79px;background:linear-gradient(90deg,#f15943 0.5px,#f15c45 40.5px,#f0543f 60.5px,#f15741 66.5px,#f2624a 68.5px,#f4775b 70.5px,#f69b7d 72.5px,#fbd5c5 75.5px,#f7e4dc 76.5px,#e4eaf2 77.5px,#abcbe7 78.5px,#4389c4 79.5px,#2b73b5 80.5px,#276db1 81.5px,#286fb2 83.5px,#3d84c1 86.5px,#377fbe 92.5px,#276db1 96.5px,#286fb2 99.5px,#2f77b8 102.5px,#2b72b5 115.5px,#3880be 122.5px,#458ac5 124.5px,#65a1d1 127.5px,#7bb0da 129.5px,#81b4db 130.5px,#7ab0d9 131.5px,#488dc6 133.5px,#4086c2 134.5px,#488dc6 135.5px,#7bb0da 137.5px,#9fc4e3 140.5px,#c1d8ed 142.5px,#d8e5f3 144.5px,#e6eaf2 147.5px,#eaebf0 154.5px)"></i><i style="top:80px;background:linear-gradient(90deg,#f26049 0.5px,#f2664d 40.5px,#f25f48 58.5px,#f3674e 66.5px,#f36c52 67.5px,#f4775b 68.5px,#f69779 70.5px,#f9bca4 72.5px,#fbd2c1 73.5px,#f7e5de 74.5px,#e2e9f2 75.5px,#c7dbee 76.5px,#8dbade 77.5px,#478cc5 78.5px,#2e76b7 79.5px,#276eb1 80.5px,#286fb2 84.5px,#3078b8 87.5px,#2c74b6 93.5px,#266cb0 96.5px,#2970b3 105.5px,#2970b3 116.5px,#377fbe 122.5px,#458ac4 124.5px,#7ab0d9 129.5px,#81b4db 130.5px,#7fb3db 131.5px,#63a0d0 133.5px,#5c9bce 134.5px,#619fd0 135.5px,#7cb1da 137.5px,#8dbbdf 139.5px,#adcce7 141.5px,#cedff0 143.5px,#dee8f3 145.5px,#e8ebf2 149.5px,#eaebf0 154.5px)"></i><i style="top:81px;background:linear-gradient(90deg,#f3684f 0.5px,#f47156 40.5px,#f36e54 58.5px,#f57e62 66.5px,#f5876a 67.5px,#f7a78b 69.5px,#f9b8a0 70.5px,#f8e1d7 72.5px,#e4eaf2 73.5px,#c1d8ed 74.5px,#8ab8de 75.5px,#5b9acd 76.5px,#3a82c0 77.5px,#2e76b7 78.5px,#276db1 80.5px,#286eb2 84.5px,#2d75b6 87.5px,#286eb2 94.5px,#266cb0 115.5px,#337bbb 121.5px,#3b82c0 123.5px,#66a2d1 127.5px,#81b4db 130.5px,#84b6dc 131.5px,#7ab0d9 135.5px,#80b3db 138.5px,#88b8dd 139.5px,#abcbe7 141.5px,#cddff0 143.5px,#dee8f3 145.5px,#e8ebf2 149.5px,#eaebf0 154.5px)"></i><i style="top:82px;background:linear-gradient(90deg,#f47156 0.5px,#f58164 39.5px,#f58164 57.5px,#f69c7f 66.5px,#f7a68a 67.5px,#fac9b5 69.5px,#f9ddd1 70.5px,#edebed 71.5px,#caddef 72.5px,#5395ca 74.5px,#3981bf 75.5px,#2d75b6 77.5px,#286eb2 81.5px,#2970b3 91.5px,#2368ad 114.5px,#2e76b7 120.5px,#3a82c0 123.5px,#66a1d1 127.5px,#82b4dc 130.5px,#88b8dd 132.5px,#82b5dc 135.5px,#79afd9 137.5px,#7ab0d9 138.5px,#82b4dc 139.5px,#93bde0 140.5px,#bdd5ec 142.5px,#d7e4f2 144.5px,#e5eaf2 147.5px,#eaebf0 154.5px)"></i><i style="top:83px;background:linear-gradient(90deg,#f47c60 0.5px,#f69274 40.5px,#f6997b 57.5px,#f9b69d 65.5px,#f9bba3 66.5px,#fac6b2 67.5px,#fad9cb 68.5px,#f3eae8 69.5px,#d2e1f1 70.5px,#9bc2e2 71.5px,#5a9acd 72.5px,#3880bf 73.5px,#2f77b8 74.5px,#286eb2 83.5px,#2266ac 114.5px,#2a71b4 119.5px,#3981bf 123.5px,#65a1d1 127.5px,#82b4dc 130.5px,#8ab9de 133.5px,#81b4db 135.5px,#73abd7 137.5px,#72aad6 138.5px,#7bb0d9 139.5px,#8dbade 140.5px,#bbd4eb 142.5px,#ccdef0 143.5px,#dee7f3 145.5px,#e8ebf2 149.5px,#eaebf0 154.5px)"></i><i style="top:84px;background:linear-gradient(90deg,#f5896c 0.5px,#f8ac92 54.5px,#f8b49b 58.5px,#fbd1c0 64.5px,#f9dcd0 66.5px,#f6e8e2 67.5px,#dae6f3 68.5px,#a9cae6 69.5px,#64a0d1 70.5px,#3a82c0 71.5px,#2e76b8 72.5px,#2970b3 75.5px,#1f65ab 109.5px,#2367ad 116.5px,#347cbc 122.5px,#4288c3 124.5px,#7ab0d9 129.5px,#89b8de 132.5px,#86b6dd 134.5px,#6ba5d3 137.5px,#69a4d3 138.5px,#72aad6 139.5px,#85b6dc 140.5px,#b9d3eb 142.5px,#cbddef 143.5px,#dee7f3 145.5px,#e8ebf2 149.5px,#eaebf0 154.5px)"></i><i style="top:85px;background:linear-gradient(90deg,#f69779 0.5px,#f9bca4 48.5px,#facbb8 57.5px,#f5e9e4 63.5px,#f0eaeb 64.5px,#e2e9f2 65.5px,#d6e4f2 66.5px,#b5d1e9 67.5px,#6fa8d5 68.5px,#3f86c2 69.5px,#2f77b8 70.5px,#2970b3 71.5px,#2165ab 95.5px,#2065ab 115.5px,#286fb2 119.5px,#3981bf 123.5px,#5898cc 126.5px,#7ab0d9 129.5px,#87b7dd 131.5px,#89b8dd 133.5px,#84b5dc 134.5px,#619fd0 137.5px,#5e9ccf 138.5px,#68a3d2 139.5px,#7db2da 140.5px,#b7d2ea 142.5px,#caddef 143.5px,#dde7f3 145.5px,#e8ebf2 149.5px,#eaebf0 154.5px)"></i><i style="top:86px;background:linear-gradient(90deg,#f7a488 0.5px,#fac9b6 42.5px,#f8dfd5 55.5px,#f5eae5 58.5px,#f0eaeb 59.5px,#e3e9f2 60.5px,#cbddef 62.5px,#b8d2ea 63.5px,#69a4d3 66.5px,#468bc5 67.5px,#3179b9 68.5px,#296fb3 69.5px,#2266ac 83.5px,#1f64aa 114.5px,#256baf 118.5px,#3880bf 123.5px,#5798cc 126.5px,#7ab0d9 129.5px,#87b7dd 131.5px,#88b7dd 133.5px,#82b4db 134.5px,#5697cc 137.5px,#5394ca 138.5px,#5c9bce 139.5px,#74acd7 140.5px,#b4d0e9 142.5px,#c9dcef 143.5px,#dde7f3 145.5px,#e8ebf2 149.5px,#eaebf0 154.5px)"></i><i style="top:87px;background:linear-gradient(90deg,#f8b198 0.5px,#fad0be 30.5px,#f8e0d6 44.5px,#f1eaea 51.5px,#e7ebf2 53.5px,#d9e6f3 56.5px,#c1d8ed 58.5px,#92bde0 60.5px,#5e9ccf 62.5px,#3c83c1 64.5px,#2970b3 67.5px,#2266ac 75.5px,#1e64aa 114.5px,#256aaf 118.5px,#3880bf 123.5px,#5797cc 126.5px,#7ab0d9 129.5px,#87b7dd 131.5px,#87b7dd 133.5px,#7fb3db 134.5px,#70a9d5 135.5px,#5c9bce 136.5px,#4d90c8 137.5px,#498dc6 138.5px,#5193c9 139.5px,#6aa5d3 140.5px,#b1cee8 142.5px,#c8dcef 143.5px,#dde7f3 145.5px,#e8ebf2 149.5px,#eaebf0 154.5px)"></i><i style="top:88px;background:linear-gradient(90deg,#f9c0a9 0.5px,#f8dfd5 29.5px,#f1eaea 41.5px,#e4e9f2 45.5px,#d4e3f2 49.5px,#c0d7ec 52.5px,#99c1e2 55.5px,#74acd7 57.5px,#5d9bce 58.5px,#3c83c1 60.5px,#2c74b5 63.5px,#2266ac 71.5px,#1d64a9 112.5px,#256aaf 118.5px,#3880be 123.5px,#5797cc 126.5px,#7ab0d9 129.5px,#87b7dd 131.5px,#86b6dd 133.5px,#7cb1da 134.5px,#6ba5d3 135.5px,#5395ca 136.5px,#4489c4 137.5px,#3e85c2 138.5px,#478cc5 139.5px,#609dcf 140.5px,#aecde7 142.5px,#c7dbef 143.5px,#dce7f3 145.5px,#e8ebf2 149.5px,#eaebf0 154.5px)"></i><i style="top:89px;background:linear-gradient(90deg,#facfbd 0.5px,#f4eae7 25.5px,#e5eaf2 34.5px,#d6e3f2 42.5px,#c2d8ed 46.5px,#a1c5e4 49.5px,#5696cb 54.5px,#3880bf 57.5px,#2b73b5 61.5px,#2165ab 70.5px,#1d64a9 113.5px,#256aaf 118.5px,#3880be 123.5px,#5797cc 126.5px,#7ab0d9 129.5px,#87b7dd 131.5px,#85b6dc 133.5px,#7aafd9 134.5px,#4c90c7 136.5px,#3a82c0 137.5px,#377fbe 138.5px,#3d84c1 139.5px,#5596cb 140.5px,#7fb3db 141.5px,#abcbe6 142.5px,#c6dbee 143.5px,#dce7f3 145.5px,#e8ebf2 149.5px,#eaebf0 154.5px)"></i><i style="top:90px;background:linear-gradient(90deg,#f9ddd2 0.5px,#f2eae9 14.5px,#e5eaf2 22.5px,#cfe0f0 36.5px,#c0d7ed 41.5px,#a2c6e4 45.5px,#5294ca 51.5px,#3a82c0 54.5px,#266cb0 62.5px,#2065ab 69.5px,#1d64a9 113.5px,#2469ae 118.5px,#377fbe 123.5px,#5697cb 126.5px,#7ab0d9 129.5px,#86b7dd 131.5px,#88b7dd 132.5px,#84b5dc 133.5px,#77add8 134.5px,#458ac5 136.5px,#367ebd 137.5px,#327aba 138.5px,#377fbe 139.5px,#4d90c8 140.5px,#a7c9e5 142.5px,#c5daee 143.5px,#dce7f3 145.5px,#e8ebf2 149.5px,#eaebf0 154.5px)"></i><i style="top:91px;background:linear-gradient(90deg,#f4eae7 0.5px,#e6eaf2 9.5px,#d4e3f2 25.5px,#b5d1e9 38.5px,#9fc4e3 43.5px,#82b4dc 46.5px,#5193c9 50.5px,#3981bf 53.5px,#256baf 61.5px,#1e64aa 69.5px,#1e64aa 114.5px,#2469ae 118.5px,#377fbe 123.5px,#5697cb 126.5px,#7ab0d9 129.5px,#86b7dd 131.5px,#87b7dd 132.5px,#83b5dc 133.5px,#74acd7 134.5px,#3e85c2 136.5px,#327aba 137.5px,#2e76b7 138.5px,#337bbb 139.5px,#458ac5 140.5px,#71a9d6 141.5px,#a3c6e4 142.5px,#c3d9ee 143.5px,#d2e1f1 144.5px,#e0e8f3 146.5px,#eaebf0 152.5px,#eaebf0 154.5px)"></i><i style="top:92px;background:linear-gradient(90deg,#dde7f3 0.5px,#d5e3f2 18.5px,#a9cae6 40.5px,#99c1e2 43.5px,#79afd9 46.5px,#488cc6 50.5px,#3880be 52.5px,#266bb0 59.5px,#1f64aa 66.5px,#1e64aa 113.5px,#2469ae 118.5px,#377fbe 123.5px,#4a8ec7 125.5px,#7ab0d9 129.5px,#86b7dd 131.5px,#87b7dd 132.5px,#82b4db 133.5px,#72aad6 134.5px,#3981bf 136.5px,#2e76b7 137.5px,#2a71b4 138.5px,#2f77b8 139.5px,#3e85c2 140.5px,#6aa5d3 141.5px,#9fc4e3 142.5px,#c1d8ed 143.5px,#d1e1f1 144.5px,#e0e8f3 146.5px,#eaebf0 152.5px,#eaebf0 154.5px)"></i><i style="top:93px;background:linear-gradient(90deg,#c9dcef 0.5px,#d3e2f1 9.5px,#cfe0f0 21.5px,#bcd5eb 29.5px,#a5c7e5 40.5px,#93bde0 43.5px,#71a9d6 46.5px,#498dc6 49.5px,#377fbe 51.5px,#266cb0 57.5px,#1f65aa 63.5px,#1c63a9 106.5px,#2367ad 117.5px,#327aba 122.5px,#3e85c2 124.5px,#7ab0d9 129.5px,#86b7dd 131.5px,#87b7dd 132.5px,#81b4db 133.5px,#70a8d5 134.5px,#377fbe 136.5px,#2b73b5 137.5px,#276db1 138.5px,#2b73b5 139.5px,#3981bf 140.5px,#64a1d1 141.5px,#9bc2e2 142.5px,#bfd7ec 143.5px,#d0e0f1 144.5px,#dae6f3 145.5px,#e6eaf2 149.5px,#eaebf0 154.5px)"></i><i style="top:94px;background:linear-gradient(90deg,#b8d2ea 0.5px,#caddef 4.5px,#d3e2f1 12.5px,#cfdff0 21.5px,#bcd5eb 28.5px,#a8c9e6 37.5px,#9bc2e2 41.5px,#83b5dc 44.5px,#4288c3 49.5px,#347cbb 51.5px,#256aaf 56.5px,#1e64aa 63.5px,#1e64aa 112.5px,#256aaf 118.5px,#367ebd 123.5px,#3d84c1 124.5px,#7ab0d9 129.5px,#86b7dd 131.5px,#87b7dd 132.5px,#80b3db 133.5px,#6ea7d5 134.5px,#4f91c8 135.5px,#357dbc 136.5px,#296fb3 137.5px,#2469ae 138.5px,#2970b3 139.5px,#377fbe 140.5px,#5f9dcf 141.5px,#97c0e1 142.5px,#bdd5ec 143.5px,#cfe0f0 144.5px,#dee7f3 146.5px,#e9ebf1 152.5px,#eaebf1 154.5px)"></i><i style="top:95px;background:linear-gradient(90deg,#b9d3eb 0.5px,#c8dcef 3.5px,#d3e2f1 10.5px,#d0e0f1 20.5px,#c1d8ed 26.5px,#aacbe6 33.5px,#9bc2e2 40.5px,#88b8dd 43.5px,#63a0d1 46.5px,#3b83c1 49.5px,#2970b3 53.5px,#2166ac 57.5px,#1b63a8 73.5px,#2065ab 114.5px,#276db1 119.5px,#367ebd 123.5px,#3d84c1 124.5px,#7ab0d9 129.5px,#86b7dd 131.5px,#87b7dd 132.5px,#80b3db 133.5px,#6da6d4 134.5px,#4d90c8 135.5px,#337bbb 136.5px,#276db1 137.5px,#2267ac 138.5px,#276eb1 139.5px,#357dbd 140.5px,#5b9acd 141.5px,#94bee0 142.5px,#bbd4eb 143.5px,#cddff0 144.5px,#dde7f3 146.5px,#e8ebf2 152.5px,#e9ebf1 154.5px)"></i><i style="top:96px;background:linear-gradient(90deg,#bdd5ec 0.5px,#cbdef0 4.5px,#d4e3f2 13.5px,#cedff0 21.5px,#bfd6ec 26.5px,#a9cae6 32.5px,#97c0e1 40.5px,#85b6dc 43.5px,#5f9dcf 46.5px,#3880bf 49.5px,#2469ae 54.5px,#1c63a9 62.5px,#2065ab 111.5px,#256baf 118.5px,#3179b9 122.5px,#3c84c1 124.5px,#7ab0d9 129.5px,#86b7dd 131.5px,#86b7dd 132.5px,#7fb3db 133.5px,#6ca6d4 134.5px,#4c8fc7 135.5px,#337bbb 136.5px,#266cb0 137.5px,#2266ac 138.5px,#266cb0 139.5px,#357dbc 140.5px,#5999cd 141.5px,#91bde0 142.5px,#b8d3ea 143.5px,#ccdef0 144.5px,#dbe6f3 146.5px,#e7ebf2 152.5px,#e8ebf2 154.5px)"></i><i style="top:97px;background:linear-gradient(90deg,#c2d8ed 0.5px,#d1e1f1 7.5px,#d3e2f1 17.5px,#c6dbee 24.5px,#a9cae6 31.5px,#90bcdf 41.5px,#77aed8 44.5px,#4187c3 48.5px,#3179ba 50.5px,#2367ad 54.5px,#1b63a8 62.5px,#2165ab 109.5px,#266bb0 118.5px,#3179b9 122.5px,#3c83c1 124.5px,#70a9d5 128.5px,#82b4db 130.5px,#86b7dd 132.5px,#7fb3db 133.5px,#6ca6d4 134.5px,#4c8fc7 135.5px,#337bbb 136.5px,#266cb0 137.5px,#2266ac 138.5px,#266cb0 139.5px,#347cbc 140.5px,#5898cc 141.5px,#90bcdf 142.5px,#b6d1ea 143.5px,#caddef 144.5px,#dae6f3 146.5px,#e6eaf2 153.5px,#e7ebf2 154.5px)"></i><i style="top:98px;background:linear-gradient(90deg,#c7dbee 0.5px,#d4e2f2 10.5px,#d1e1f1 19.5px,#c1d8ed 25.5px,#a3c6e4 32.5px,#8ebbdf 41.5px,#76add8 44.5px,#3f86c2 48.5px,#2b73b5 51.5px,#2166ac 54.5px,#1962a7 62.5px,#2065ab 105.5px,#276eb1 119.5px,#357dbc 123.5px,#3b83c0 124.5px,#70a9d5 128.5px,#82b4db 130.5px,#87b7dd 132.5px,#80b3db 133.5px,#6da6d4 134.5px,#4d90c8 135.5px,#337bbb 136.5px,#276db1 137.5px,#2267ac 138.5px,#276eb1 139.5px,#357dbc 140.5px,#5999cd 141.5px,#8fbbdf 142.5px,#b4d0e9 143.5px,#c8dcef 144.5px,#d7e5f2 146.5px,#e5eaf2 153.5px,#e6eaf2 154.5px)"></i><i style="top:99px;background:linear-gradient(90deg,#caddef 0.5px,#d5e3f2 12.5px,#d0e0f1 20.5px,#c0d7ed 25.5px,#a1c5e4 32.5px,#8dbade 41.5px,#75acd7 44.5px,#3e85c2 48.5px,#266cb0 52.5px,#1d64a9 55.5px,#1761a6 64.5px,#1f65aa 98.5px,#286eb2 119.5px,#357dbc 123.5px,#3b83c0 124.5px,#70a9d5 128.5px,#82b4db 130.5px,#87b7dd 132.5px,#80b3db 133.5px,#6ea7d5 134.5px,#4f91c8 135.5px,#357dbc 136.5px,#286fb2 137.5px,#2469ae 138.5px,#2970b3 139.5px,#367ebd 140.5px,#5b9acd 141.5px,#8fbbdf 142.5px,#b3d0e9 143.5px,#c7dbee 144.5px,#dae6f3 147.5px,#e4eaf2 154.5px)"></i><i style="top:100px;background:linear-gradient(90deg,#cfdff0 0.5px,#d5e3f2 15.5px,#cbddef 22.5px,#bad4eb 26.5px,#9cc3e2 33.5px,#8cbade 41.5px,#75acd7 44.5px,#3d84c1 48.5px,#256aaf 52.5px,#1a62a7 56.5px,#1660a5 70.5px,#1c63a9 92.5px,#286fb2 119.5px,#357dbc 123.5px,#3b83c0 124.5px,#70a9d5 128.5px,#82b4db 130.5px,#87b7dd 132.5px,#81b4db 133.5px,#70a8d5 134.5px,#377fbe 136.5px,#2b73b5 137.5px,#276db1 138.5px,#2b73b5 139.5px,#3880bf 140.5px,#5f9dcf 141.5px,#90bcdf 142.5px,#b2cfe9 143.5px,#c6daee 144.5px,#d8e5f2 147.5px,#e2e9f2 154.5px)"></i><i style="top:101px;background:linear-gradient(90deg,#d3e2f1 0.5px,#d4e2f2 17.5px,#c5daee 24.5px,#a2c6e4 31.5px,#93bde0 38.5px,#86b7dd 42.5px,#75acd7 44.5px,#3b83c0 48.5px,#2368ad 52.5px,#1661a5 57.5px,#1862a7 89.5px,#2368ad 102.5px,#296fb3 119.5px,#357dbd 123.5px,#3b83c0 124.5px,#7ab0d9 129.5px,#86b7dd 131.5px,#87b7dd 132.5px,#82b4db 133.5px,#72aad6 134.5px,#3981bf 136.5px,#2e76b7 137.5px,#2a71b4 138.5px,#2e76b8 139.5px,#3c84c1 140.5px,#64a0d1 141.5px,#92bde0 142.5px,#b2cfe9 143.5px,#c5daee 144.5px,#d6e4f2 147.5px,#e0e8f3 154.5px)"></i><i style="top:102px;background:linear-gradient(90deg,#d7e4f2 0.5px,#d2e1f1 19.5px,#c5daee 24.5px,#9dc3e3 32.5px,#8bb9de 41.5px,#73abd7 44.5px,#3981bf 48.5px,#2166ac 52.5px,#1660a5 56.5px,#1660a5 88.5px,#2468ae 99.5px,#2970b3 119.5px,#367ebd 123.5px,#3c83c1 124.5px,#7ab0d9 129.5px,#86b7dd 131.5px,#87b7dd 132.5px,#83b5dc 133.5px,#74acd7 134.5px,#3e85c2 136.5px,#327aba 137.5px,#2e76b7 138.5px,#327aba 139.5px,#4389c4 140.5px,#95bfe0 142.5px,#b3cfe9 143.5px,#c5daee 144.5px,#d5e3f2 147.5px,#dee7f3 154.5px)"></i><i style="top:103px;background:linear-gradient(90deg,#dbe6f3 0.5px,#d0e0f1 20.5px,#bfd7ec 25.5px,#9dc3e3 32.5px,#8ab9de 41.5px,#7bb0da 43.5px,#619ed0 45.5px,#4187c3 47.5px,#2f77b8 49.5px,#2368ad 51.5px,#1660a5 55.5px,#145fa3 84.5px,#1962a7 91.5px,#256aaf 98.5px,#2a71b4 119.5px,#367ebd 123.5px,#3d84c1 124.5px,#7ab0d9 129.5px,#86b7dd 131.5px,#88b7dd 132.5px,#84b5dc 133.5px,#77add8 134.5px,#458ac5 136.5px,#367ebd 137.5px,#327aba 138.5px,#377fbd 139.5px,#4a8ec7 140.5px,#98c0e1 142.5px,#b3d0e9 143.5px,#c4daee 144.5px,#d4e3f2 147.5px,#dce7f3 154.5px)"></i><i style="top:104px;background:linear-gradient(90deg,#dee7f3 0.5px,#d0e0f1 20.5px,#c0d7ec 25.5px,#9dc3e3 32.5px,#8cbade 40.5px,#81b3db 42.5px,#69a4d3 44.5px,#3981bf 47.5px,#2065ab 51.5px,#1660a5 54.5px,#135ea2 81.5px,#1861a7 91.5px,#256baf 97.5px,#2b72b5 119.5px,#377fbe 123.5px,#498dc6 125.5px,#7ab0d9 129.5px,#87b7dd 131.5px,#85b6dc 133.5px,#7aafd9 134.5px,#4c90c7 136.5px,#3a82c0 137.5px,#377fbe 138.5px,#3c83c1 139.5px,#5294ca 140.5px,#9bc2e2 142.5px,#b4d0e9 143.5px,#c4daee 144.5px,#d4e2f1 147.5px,#dae6f3 154.5px)"></i><i style="top:105px;background:linear-gradient(90deg,#e1e9f2 0.5px,#cedff0 21.5px,#c0d7ed 25.5px,#9dc3e3 32.5px,#8ab9de 40.5px,#7bb0da 42.5px,#5d9cce 44.5px,#3c83c1 46.5px,#2065ab 50.5px,#1660a5 53.5px,#135da2 78.5px,#1660a5 90.5px,#266cb0 97.5px,#2c74b5 119.5px,#3880be 123.5px,#4a8ec7 125.5px,#7ab0d9 129.5px,#87b7dd 131.5px,#86b6dd 133.5px,#7cb1da 134.5px,#6ba5d3 135.5px,#5395ca 136.5px,#4489c4 137.5px,#3e85c2 138.5px,#468bc5 139.5px,#5b9acd 140.5px,#9ec4e3 142.5px,#b5d1e9 143.5px,#c4daee 144.5px,#d3e2f1 147.5px,#d9e5f3 154.5px)"></i><i style="top:106px;background:linear-gradient(90deg,#e9ebf1 0.5px,#e1e9f2 4.5px,#cedff0 21.5px,#c0d7ed 25.5px,#9dc3e3 32.5px,#8dbade 39.5px,#7fb2db 41.5px,#619fd0 43.5px,#3e85c2 45.5px,#266cb0 48.5px,#1c63a9 50.5px,#145ea3 54.5px,#145ea3 89.5px,#1f64aa 93.5px,#286fb2 98.5px,#2d75b6 119.5px,#3880bf 123.5px,#5697cc 126.5px,#7ab0d9 129.5px,#87b7dd 131.5px,#87b7dd 133.5px,#7fb3db 134.5px,#70a9d5 135.5px,#5c9bce 136.5px,#4d90c8 137.5px,#488dc6 138.5px,#4f92c9 139.5px,#65a1d1 140.5px,#a1c6e4 142.5px,#b6d1ea 143.5px,#c5daee 144.5px,#d3e2f1 147.5px,#d8e5f2 154.5px)"></i><i style="top:107px;background:linear-gradient(90deg,#f2eae9 0.5px,#e4e9f2 4.5px,#ccdef0 22.5px,#bbd4eb 26.5px,#99c1e2 33.5px,#8ab9de 39.5px,#77add8 41.5px,#4087c3 44.5px,#2c74b6 46.5px,#2165ab 48.5px,#1660a5 51.5px,#125da1 77.5px,#155fa4 90.5px,#276eb1 96.5px,#2e76b7 119.5px,#3981bf 123.5px,#5798cc 126.5px,#7ab0d9 129.5px,#87b7dd 131.5px,#88b7dd 133.5px,#81b4db 134.5px,#5697cb 137.5px,#5294ca 138.5px,#5a99cd 139.5px,#6ea8d5 140.5px,#a4c7e5 142.5px,#c5daee 144.5px,#d3e2f1 147.5px,#d7e4f2 154.5px)"></i><i style="top:108px;background:linear-gradient(90deg,#f7e5de 0.5px,#efeaec 3.5px,#e5eaf2 5.5px,#ccdef0 22.5px,#bbd4eb 26.5px,#99c1e2 33.5px,#8cbade 38.5px,#7bb1da 40.5px,#6ca6d4 41.5px,#458ac4 43.5px,#367ebd 44.5px,#2065ab 47.5px,#1560a4 50.5px,#125da1 83.5px,#1761a6 91.5px,#286eb2 96.5px,#2e76b7 118.5px,#3a82c0 123.5px,#5898cc 126.5px,#7ab0d9 129.5px,#87b7dd 131.5px,#89b8dd 133.5px,#84b5dc 134.5px,#619ed0 137.5px,#5d9cce 138.5px,#65a1d1 139.5px,#77add8 140.5px,#a7c8e5 142.5px,#c5daee 144.5px,#d3e2f1 147.5px,#d6e4f2 154.5px)"></i><i style="top:109px;background:linear-gradient(90deg,#f9dfd4 0.5px,#f2eae9 4.5px,#e5eaf2 6.5px,#caddef 23.5px,#9ac1e2 33.5px,#89b8dd 38.5px,#73abd6 40.5px,#3880bf 43.5px,#2065ab 46.5px,#155fa4 49.5px,#135da2 88.5px,#1b63a8 92.5px,#286fb2 96.5px,#2f77b8 118.5px,#3c84c1 123.5px,#5999cd 126.5px,#7bb0d9 129.5px,#89b8de 132.5px,#86b6dd 134.5px,#6aa5d3 137.5px,#68a3d2 138.5px,#6fa8d5 139.5px,#7eb2db 140.5px,#a9c9e6 142.5px,#c5daee 144.5px,#d3e2f1 147.5px,#d6e4f2 154.5px)"></i><i style="top:110px;background:linear-gradient(90deg,#fad9cb 0.5px,#f4eae7 5.5px,#e6eaf2 7.5px,#caddef 23.5px,#9ac1e2 33.5px,#8cbade 37.5px,#79afd9 39.5px,#68a3d2 40.5px,#3d84c1 42.5px,#2266ac 45.5px,#155fa4 48.5px,#135da2 88.5px,#1b63a8 92.5px,#286fb2 96.5px,#3078b8 118.5px,#3e85c1 123.5px,#5a99cd 126.5px,#7bb0d9 129.5px,#8ab8de 132.5px,#87b7dd 134.5px,#72aad6 137.5px,#71a9d6 138.5px,#77add8 139.5px,#97c0e1 141.5px,#b9d3ea 143.5px,#c5daee 144.5px,#d3e2f1 147.5px,#d6e4f2 154.5px)"></i><i style="top:111px;background:linear-gradient(90deg,#fbd4c5 0.5px,#f8e0d6 4.5px,#f5e9e5 6.5px,#e7ebf2 8.5px,#caddef 23.5px,#b1cee8 28.5px,#96bfe1 34.5px,#89b8dd 37.5px,#70a9d5 39.5px,#468bc5 41.5px,#357dbd 42.5px,#2469ae 44.5px,#1761a6 46.5px,#125da1 54.5px,#155fa4 90.5px,#266cb0 95.5px,#2b73b5 100.5px,#2f77b8 117.5px,#3981bf 122.5px,#5092c9 125.5px,#7bb0d9 129.5px,#8ab9de 132.5px,#89b8dd 134.5px,#79afd9 137.5px,#78aed9 138.5px,#7eb2da 139.5px,#9bc2e2 141.5px,#c5daee 144.5px,#d3e2f1 147.5px,#d6e4f2 154.5px)"></i><i style="top:112px;background:linear-gradient(90deg,#fbd1c0 0.5px,#fadbce 4.5px,#f5e9e4 7.5px,#e6eaf2 9.5px,#c7dbef 24.5px,#9ac1e2 33.5px,#8dbade 36.5px,#77aed8 38.5px,#3981c0 41.5px,#1f65ab 44.5px,#1660a5 46.5px,#125da1 64.5px,#155fa4 90.5px,#266cb0 95.5px,#2b73b5 99.5px,#2f77b8 117.5px,#3981c0 122.5px,#5a9acd 126.5px,#7bb0da 129.5px,#8ab9de 132.5px,#87b7dd 135.5px,#7fb2db 137.5px,#7fb2db 138.5px,#84b5dc 139.5px,#9dc3e3 141.5px,#c6daee 144.5px,#d3e2f1 147.5px,#d6e4f2 154.5px)"></i><i style="top:113px;background:linear-gradient(90deg,#facebd 0.5px,#fbd6c7 4.5px,#f6e8e3 8.5px,#e6eaf2 10.5px,#c7dbef 24.5px,#89b8dd 36.5px,#6ea7d4 38.5px,#4288c3 40.5px,#2a71b4 42.5px,#2266ac 43.5px,#1660a5 45.5px,#125da1 54.5px,#145fa3 90.5px,#266cb0 95.5px,#2b73b5 99.5px,#3078b8 117.5px,#3a82c0 122.5px,#5b9acd 126.5px,#7bb0da 129.5px,#8ab9de 132.5px,#89b8dd 135.5px,#84b5dc 138.5px,#92bde0 140.5px,#c6daee 144.5px,#d3e2f1 147.5px,#d6e4f2 154.5px)"></i><i style="top:114px;background:linear-gradient(90deg,#faccb9 0.5px,#fbd6c6 5.5px,#f7e3da 8.5px,#efeaec 10.5px,#e6eaf2 11.5px,#c8dbef 24.5px,#8ebbdf 35.5px,#76add8 37.5px,#3880bf 40.5px,#256baf 42.5px,#1861a7 44.5px,#125da1 50.5px,#145fa3 90.5px,#266cb0 95.5px,#2b73b5 99.5px,#3078b9 117.5px,#3a82c0 122.5px,#5b9acd 126.5px,#7bb0da 129.5px,#8ab9de 132.5px,#88b8dd 136.5px,#88b7dd 138.5px,#95bee0 140.5px,#c6daee 144.5px,#d3e2f1 147.5px,#d6e4f2 154.5px)"></i><i style="top:115px;background:linear-gradient(90deg,#fac9b6 0.5px,#fbd5c5 6.5px,#f7e3db 9.5px,#f5eae5 10.5px,#e5eaf2 12.5px,#c4daee 25.5px,#8bb9de 35.5px,#7fb3db 36.5px,#6ea7d5 37.5px,#4087c3 39.5px,#2970b3 41.5px,#2166ac 42.5px,#1660a5 44.5px,#125da1 55.5px,#145fa3 90.5px,#266bb0 95.5px,#2b73b5 99.5px,#3078b9 117.5px,#3a82c0 122.5px,#5b9acd 126.5px,#7bb0da 129.5px,#8ab9de 132.5px,#8ab9de 138.5px,#97c0e1 140.5px,#c6daee 144.5px,#d3e2f1 147.5px,#d6e4f2 154.5px)"></i><i style="top:116px;background:linear-gradient(90deg,#fac7b3 0.5px,#fbd5c5 7.5px,#f7e4dd 10.5px,#f4eae7 11.5px,#eaebf0 12.5px,#d3e2f1 20.5px,#c5daee 25.5px,#92bde0 34.5px,#88b8dd 35.5px,#79afd9 36.5px,#3880bf 39.5px,#256aaf 41.5px,#1761a6 43.5px,#125da1 50.5px,#145fa3 90.5px,#256baf 95.5px,#2b73b5 99.5px,#2f77b8 116.5px,#3b82c0 122.5px,#5b9acd 126.5px,#7bb0da 129.5px,#8ab9de 132.5px,#8cbade 138.5px,#98c0e1 140.5px,#c6daee 144.5px,#d3e2f1 147.5px,#d6e4f2 154.5px)"></i><i style="top:117px;background:linear-gradient(90deg,#fac5b0 0.5px,#fbd2c1 7.5px,#f8dfd5 10.5px,#f2eae9 12.5px,#e6eaf2 13.5px,#c8dcef 24.5px,#90bcdf 34.5px,#85b6dc 35.5px,#74abd7 36.5px,#448ac4 38.5px,#347cbb 39.5px,#2166ac 41.5px,#1660a5 43.5px,#125da1 55.5px,#145ea3 90.5px,#2166ac 94.5px,#2b73b5 98.5px,#3078b9 117.5px,#3b82c0 122.5px,#5b9acd 126.5px,#7bb0da 129.5px,#8ab9de 132.5px,#8ebbdf 138.5px,#99c1e2 140.5px,#c6daee 144.5px,#d3e2f1 147.5px,#d6e4f2 154.5px)"></i><i style="top:118px;background:linear-gradient(90deg,#fac3ad 0.5px,#fbd2c1 8.5px,#f8e0d7 11.5px,#efeaec 13.5px,#e6eaf2 14.5px,#c5daee 25.5px,#97c0e1 33.5px,#82b4db 35.5px,#6fa8d5 36.5px,#3d84c1 38.5px,#276db1 40.5px,#1e64aa 41.5px,#155fa4 43.5px,#125da1 86.5px,#1861a6 92.5px,#2a71b4 97.5px,#3078b9 117.5px,#3b83c0 122.5px,#5b9acd 126.5px,#7bb0da 129.5px,#8ab9de 132.5px,#8fbbdf 138.5px,#99c1e2 140.5px,#c6daee 144.5px,#d3e2f1 147.5px,#d6e4f2 154.5px)"></i><i style="top:119px;background:linear-gradient(90deg,#f9c1ab 0.5px,#facfbe 8.5px,#f9dcd0 11.5px,#f5eae6 13.5px,#ebebf0 14.5px,#dde7f3 18.5px,#c0d7ed 26.5px,#97c0e1 33.5px,#8dbbdf 34.5px,#7fb3db 35.5px,#6ba5d3 36.5px,#3981bf 38.5px,#2469ae 40.5px,#1761a6 42.5px,#125da1 50.5px,#145ea3 90.5px,#1c63a9 93.5px,#2971b3 97.5px,#3078b9 117.5px,#3b83c0 122.5px,#5b9acd 126.5px,#7bb0da 129.5px,#8ab9de 132.5px,#8fbbdf 138.5px,#99c1e2 140.5px,#c6daee 144.5px,#d3e2f1 147.5px,#d6e4f2 154.5px)"></i><i style="top:120px;background:linear-gradient(90deg,#f9bfa8 0.5px,#facdbb 8.5px,#fbd8c9 11.5px,#f2eae9 14.5px,#e6eaf2 15.5px,#c6daee 25.5px,#96bfe1 33.5px,#8cbade 34.5px,#7db2da 35.5px,#377fbe 38.5px,#2367ad 40.5px,#1660a5 42.5px,#125da1 52.5px,#155fa4 91.5px,#2469ae 95.5px,#2b73b5 99.5px,#3078b9 117.5px,#3b83c0 122.5px,#5b9acd 126.5px,#7bb0da 129.5px,#8ab9de 132.5px,#8fbbdf 138.5px,#99c1e2 140.5px,#c6daee 144.5px,#d3e2f1 147.5px,#d6e4f2 154.5px)"></i><i style="top:121px;background:linear-gradient(90deg,#f9bda6 0.5px,#facbb8 8.5px,#fbd4c4 11.5px,#f6e8e2 14.5px,#edebed 15.5px,#e5eaf2 16.5px,#c6dbee 25.5px,#96bfe1 33.5px,#8cbade 34.5px,#7bb1da 35.5px,#4a8ec7 37.5px,#367ebd 38.5px,#2266ac 40.5px,#1660a5 42.5px,#125da1 55.5px,#155fa4 91.5px,#2468ae 95.5px,#2b73b5 99.5px,#3078b9 117.5px,#3b83c0 122.5px,#5b9acd 126.5px,#7bb0da 129.5px,#8ab9de 132.5px,#8ebbdf 138.5px,#99c1e1 140.5px,#c6daee 144.5px,#d3e2f1 147.5px,#d6e4f2 154.5px)"></i><i style="top:122px;background:linear-gradient(90deg,#f9bba3 0.5px,#facbb9 9.5px,#fbd6c7 12.5px,#f3eae7 15.5px,#e7ebf2 16.5px,#caddef 24.5px,#a5c7e5 31.5px,#8bb9de 34.5px,#7ab0d9 35.5px,#498dc6 37.5px,#357dbc 38.5px,#2166ab 40.5px,#1560a4 42.5px,#125da1 60.5px,#155fa4 91.5px,#266cb0 96.5px,#2c74b6 100.5px,#2f77b8 116.5px,#3b83c0 122.5px,#5b9acd 126.5px,#7bb0da 129.5px,#8ab9de 132.5px,#8dbade 138.5px,#98c0e1 140.5px,#c6daee 144.5px,#d3e2f1 147.5px,#d6e4f2 154.5px)"></i><i style="top:123px;background:linear-gradient(90deg,#f9b9a1 0.5px,#fac9b6 9.5px,#fbd8c9 13.5px,#f6e6e0 15.5px,#eeebec 16.5px,#e5eaf2 17.5px,#c2d8ed 26.5px,#96bfe1 33.5px,#8bb9de 34.5px,#79afd9 35.5px,#478cc5 37.5px,#347cbc 38.5px,#2165ab 40.5px,#155fa4 42.5px,#125da1 65.5px,#145fa3 91.5px,#266cb0 96.5px,#2c74b5 100.5px,#2f77b8 116.5px,#3b83c0 122.5px,#5b9acd 126.5px,#7bb0da 129.5px,#8ab9de 132.5px,#8bb9de 138.5px,#96bfe1 140.5px,#c6daee 144.5px,#d3e2f1 147.5px,#d6e4f2 154.5px)"></i><i style="top:124px;background:linear-gradient(90deg,#f9b89f 0.5px,#fac7b3 9.5px,#fbd5c5 13.5px,#f8e2d9 15.5px,#f4eae7 16.5px,#e8ebf2 17.5px,#c7dbee 25.5px,#9ec4e3 32.5px,#8ab9de 34.5px,#79afd9 35.5px,#468bc5 37.5px,#347cbb 38.5px,#2065ab 40.5px,#155fa4 42.5px,#125da1 71.5px,#145fa3 91.5px,#266cb0 96.5px,#2c74b5 100.5px,#3078b9 117.5px,#3b83c0 122.5px,#5b9acd 126.5px,#7bb0da 129.5px,#8ab9de 132.5px,#8bb9de 136.5px,#89b8de 138.5px,#95bee0 140.5px,#c6daee 144.5px,#d3e2f1 147.5px,#d6e4f2 154.5px)"></i><i style="top:125px;background:linear-gradient(90deg,#f9b69d 0.5px,#fac3ad 8.5px,#fbd2c1 13.5px,#f9ddd2 15.5px,#f6e6df 16.5px,#eeebec 17.5px,#e4eaf2 18.5px,#c7dbef 25.5px,#9ec4e3 32.5px,#8ab9de 34.5px,#78aed8 35.5px,#458ac5 37.5px,#337bbb 38.5px,#2065ab 40.5px,#155fa4 42.5px,#125da1 79.5px,#1660a5 92.5px,#266bb0 96.5px,#2c74b5 100.5px,#3078b9 117.5px,#3b83c0 122.5px,#5b9acd 126.5px,#7bb0da 129.5px,#8ab9de 132.5px,#8ab9de 136.5px,#87b7dd 138.5px,#8ab9de 139.5px,#a0c5e3 141.5px,#c6daee 144.5px,#d3e2f1 147.5px,#d6e4f2 154.5px)"></i><i style="top:126px;background:linear-gradient(90deg,#f8b49b 0.5px,#f9c1ab 8.5px,#fbd4c4 14.5px,#f8e1d8 16.5px,#f4eae7 17.5px,#e7ebf2 18.5px,#c8dbef 25.5px,#9ec4e3 32.5px,#89b8de 34.5px,#77aed8 35.5px,#4489c4 37.5px,#337bbb 38.5px,#1f65ab 40.5px,#155fa4 42.5px,#125da1 88.5px,#1962a7 93.5px,#2a72b4 98.5px,#3078b9 117.5px,#3b83c0 122.5px,#5b9acd 126.5px,#7bb0da 129.5px,#8ab9de 132.5px,#8cbade 135.5px,#84b5dc 138.5px,#87b7dd 139.5px,#9ec4e3 141.5px,#c6daee 144.5px,#d3e2f1 147.5px,#d6e4f2 154.5px)"></i><i style="top:127px;background:linear-gradient(90deg,#f8b399 0.5px,#f9c2ac 9.5px,#fbd1c0 14.5px,#f9ddd2 16.5px,#f6e6e0 17.5px,#edebed 18.5px,#e4e9f2 19.5px,#c4d9ee 26.5px,#9fc4e3 32.5px,#89b8dd 34.5px,#76add8 35.5px,#4389c4 37.5px,#327aba 38.5px,#1f65aa 40.5px,#155fa4 42.5px,#135da2 89.5px,#1962a7 93.5px,#2a72b4 98.5px,#3078b9 117.5px,#3b83c0 122.5px,#5b9acd 126.5px,#7bb0da 129.5px,#8ab9de 132.5px,#8bb9de 135.5px,#81b4db 138.5px,#83b5dc 139.5px,#8dbadf 140.5px,#bad3eb 143.5px,#c6daee 144.5px,#d3e2f1 147.5px,#d6e4f2 154.5px)"></i><i style="top:128px;background:linear-gradient(90deg,#f8b198 0.5px,#f9c0aa 9.5px,#fbd4c3 15.5px,#f8e2d9 17.5px,#f3eae8 18.5px,#e5eaf2 19.5px,#c9dcef 25.5px,#9fc4e3 32.5px,#89b8dd 34.5px,#76add8 35.5px,#4288c3 37.5px,#327aba 38.5px,#1f64aa 40.5px,#155fa4 42.5px,#145ea3 90.5px,#1f64aa 94.5px,#2b73b5 99.5px,#3078b9 117.5px,#3b83c0 122.5px,#5b9acd 126.5px,#7bb0da 129.5px,#8ab9de 132.5px,#8bb9de 135.5px,#7db2da 138.5px,#80b3db 139.5px,#8ab9de 140.5px,#bad3eb 143.5px,#c6daee 144.5px,#d3e2f1 147.5px,#d6e4f2 154.5px)"></i><i style="top:129px;background:linear-gradient(90deg,#f8b096 0.5px,#f9bea7 9.5px,#fbd1c0 15.5px,#f9ded3 17.5px,#f6e7e2 18.5px,#ebebef 19.5px,#dfe8f3 21.5px,#a6c8e5 31.5px,#95bfe1 33.5px,#88b8dd 34.5px,#75acd7 35.5px,#4187c3 37.5px,#276db1 39.5px,#1e64aa 40.5px,#155fa4 42.5px,#145fa3 89.5px,#1c63a9 93.5px,#2a72b4 98.5px,#3078b9 117.5px,#3b83c0 122.5px,#5b9acd 126.5px,#7bb0da 129.5px,#8ab9de 132.5px,#8ab9de 135.5px,#7ab0d9 138.5px,#7cb1da 139.5px,#88b7dd 140.5px,#b9d3eb 143.5px,#c6daee 144.5px,#d3e2f1 147.5px,#d6e4f2 154.5px)"></i><i style="top:130px;background:linear-gradient(90deg,#f8ae94 0.5px,#f9bfa8 10.5px,#fbd4c4 16.5px,#f7e3db 18.5px,#f1eaea 19.5px,#e4e9f2 20.5px,#c5daee 26.5px,#9fc4e3 32.5px,#88b7dd 34.5px,#74acd7 35.5px,#4086c2 37.5px,#266cb0 39.5px,#1e64aa 40.5px,#155fa4 42.5px,#145fa3 88.5px,#1f65aa 93.5px,#2b73b5 99.5px,#3078b9 117.5px,#3b83c0 122.5px,#5b9acd 126.5px,#7bb0da 129.5px,#8ab9de 132.5px,#8ab9de 135.5px,#77aed8 138.5px,#79afd9 139.5px,#85b6dc 140.5px,#abcbe6 142.5px,#c6daee 144.5px,#d3e2f1 147.5px,#d6e4f2 154.5px)"></i><i style="top:131px;background:linear-gradient(90deg,#f8ad92 0.5px,#f9bda6 10.5px,#fbd2c1 16.5px,#f8e0d5 18.5px,#f5eae5 19.5px,#e8ebf2 20.5px,#c6dbee 26.5px,#9fc4e3 32.5px,#87b7dd 34.5px,#73abd7 35.5px,#3f85c2 37.5px,#266cb0 39.5px,#1761a6 41.5px,#125da1 47.5px,#155fa4 87.5px,#246aae 94.5px,#2b73b5 99.5px,#2f77b8 116.5px,#3b83c0 122.5px,#5b9acd 126.5px,#7bb0da 129.5px,#8ab9de 132.5px,#8ab8de 135.5px,#75acd7 138.5px,#77add8 139.5px,#83b5dc 140.5px,#aacae6 142.5px,#c6daee 144.5px,#d3e2f1 147.5px,#d6e4f2 154.5px)"></i><i style="top:132px;background:linear-gradient(90deg,#f8ab91 0.5px,#f9bca4 10.5px,#fad0be 16.5px,#f9dcd0 18.5px,#f6e6df 19.5px,#edebed 20.5px,#e2e9f2 21.5px,#c7dbee 26.5px,#9fc4e3 32.5px,#87b7dd 34.5px,#72aad6 35.5px,#3e85c1 37.5px,#266bb0 39.5px,#1761a6 41.5px,#125da1 48.5px,#155fa4 86.5px,#276db1 94.5px,#2c74b6 100.5px,#2f77b8 116.5px,#3b83c0 122.5px,#5b9acd 126.5px,#7bb0da 129.5px,#8ab9de 132.5px,#89b8dd 135.5px,#73abd7 138.5px,#75acd7 139.5px,#81b4db 140.5px,#aacae6 142.5px,#c5daee 144.5px,#d3e2f1 147.5px,#d6e4f2 154.5px)"></i><i style="top:133px;background:linear-gradient(90deg,#f7aa8f 0.5px,#f9baa2 10.5px,#facebc 16.5px,#fad9cb 18.5px,#f2eae9 20.5px,#e4eaf2 21.5px,#c8dcef 26.5px,#9fc4e3 32.5px,#86b7dd 34.5px,#72aad6 35.5px,#3c84c1 37.5px,#256baf 39.5px,#1761a6 41.5px,#125da1 48.5px,#145fa3 85.5px,#2970b3 94.5px,#2c74b6 105.5px,#3078b9 117.5px,#3b83c0 122.5px,#5b9acd 126.5px,#7bb0da 129.5px,#8ab9de 132.5px,#89b8dd 135.5px,#72aad6 138.5px,#74abd7 139.5px,#80b3db 140.5px,#aacae6 142.5px,#c5daee 144.5px,#d3e2f1 147.5px,#d6e4f2 154.5px)"></i><i style="top:134px;background:linear-gradient(90deg,#f7a98d 0.5px,#f9b9a1 10.5px,#faccba 16.5px,#fbd7c7 18.5px,#f5e9e4 20.5px,#e8ebf2 21.5px,#c9dcef 26.5px,#a0c4e3 32.5px,#86b6dd 34.5px,#71a9d6 35.5px,#3b83c1 37.5px,#256aaf 39.5px,#1761a6 41.5px,#125da1 49.5px,#145ea3 84.5px,#286fb2 92.5px,#2c74b6 103.5px,#3078b9 117.5px,#3b83c0 122.5px,#5b9acd 126.5px,#7bb0da 129.5px,#8ab9de 132.5px,#89b8dd 135.5px,#72aad6 138.5px,#74abd7 139.5px,#80b3db 140.5px,#aacae6 142.5px,#c5daee 144.5px,#d3e2f1 147.5px,#d6e4f2 154.5px)"></i><i style="top:135px;background:linear-gradient(90deg,#f7a78c 0.5px,#f9baa2 11.5px,#facfbd 17.5px,#fadbcf 19.5px,#f7e5de 20.5px,#edebed 21.5px,#e1e9f2 22.5px,#c3d9ed 27.5px,#a0c5e3 32.5px,#85b6dc 34.5px,#70a9d5 35.5px,#3a82c0 37.5px,#256aaf 39.5px,#1661a5 41.5px,#125da1 49.5px,#145fa3 84.5px,#256aaf 89.5px,#2b73b5 94.5px,#2f77b8 116.5px,#3b83c0 122.5px,#5b9acd 126.5px,#7bb0da 129.5px,#8ab9de 132.5px,#89b8dd 135.5px,#73abd7 138.5px,#75acd7 139.5px,#81b4db 140.5px,#aacae6 142.5px,#c5daee 144.5px,#d3e2f1 147.5px,#d6e4f2 154.5px)"></i><i style="top:136px;background:linear-gradient(90deg,#f7a68a 0.5px,#f9b9a0 11.5px,#facdbb 17.5px,#fad9cb 19.5px,#f2eae9 21.5px,#e4eaf2 22.5px,#c4daee 27.5px,#a0c5e3 32.5px,#85b6dc 34.5px,#6fa8d5 35.5px,#3a82c0 37.5px,#2469ae 39.5px,#1660a5 41.5px,#125da1 49.5px,#155fa4 84.5px,#2469ae 88.5px,#2b73b5 92.5px,#2f77b8 116.5px,#3b83c0 122.5px,#5b9acd 126.5px,#7bb0da 129.5px,#8ab9de 132.5px,#89b8de 135.5px,#75acd7 138.5px,#76add8 139.5px,#83b5dc 140.5px,#aacae6 142.5px,#c6daee 144.5px,#d3e2f1 147.5px,#d6e4f2 154.5px)"></i><i style="top:137px;background:linear-gradient(90deg,#f7a588 0.5px,#f9b79f 11.5px,#facbb9 17.5px,#fbd7c7 19.5px,#f5e9e5 21.5px,#e7ebf2 22.5px,#ccdef0 26.5px,#a0c5e3 32.5px,#85b6dc 34.5px,#6ea8d5 35.5px,#3981c0 37.5px,#2469ae 39.5px,#1660a5 41.5px,#125da1 50.5px,#145ea3 83.5px,#1d64a9 86.5px,#2a72b4 90.5px,#2f77b8 116.5px,#3b83c0 122.5px,#5b9acd 126.5px,#7bb0da 129.5px,#8ab9de 132.5px,#8ab9de 135.5px,#77add8 138.5px,#79afd9 139.5px,#85b6dc 140.5px,#aacbe6 142.5px,#c6daee 144.5px,#d3e2f1 147.5px,#d6e4f2 154.5px)"></i><i style="top:138px;background:linear-gradient(90deg,#f7a387 0.5px,#f9b69d 11.5px,#facab7 17.5px,#fbd4c5 19.5px,#f9dcd0 20.5px,#f6e6e0 21.5px,#ecebef 22.5px,#e0e8f3 23.5px,#bdd6ec 28.5px,#a0c5e3 32.5px,#84b6dc 34.5px,#6ea7d5 35.5px,#3981bf 37.5px,#2469ae 39.5px,#1660a5 41.5px,#125da1 50.5px,#145ea3 83.5px,#2367ad 87.5px,#2b73b5 90.5px,#2f77b8 116.5px,#3b83c0 122.5px,#5b9acd 126.5px,#7bb0da 129.5px,#8ab9de 132.5px,#8ab9de 135.5px,#79afd9 138.5px,#7bb1da 139.5px,#87b7dd 140.5px,#b9d3eb 143.5px,#c6daee 144.5px,#d3e2f1 147.5px,#d6e4f2 154.5px)"></i><i style="top:139px;background:linear-gradient(90deg,#f7a285 0.5px,#f8b59c 11.5px,#fac8b5 17.5px,#fad9cc 20.5px,#f0eaeb 22.5px,#e3e9f2 23.5px,#b6d1ea 29.5px,#a0c5e3 32.5px,#84b5dc 34.5px,#6ea7d4 35.5px,#3981bf 37.5px,#2468ae 39.5px,#1660a5 41.5px,#125da1 50.5px,#145fa3 83.5px,#2469ae 87.5px,#2c74b6 90.5px,#2f77b8 116.5px,#3b83c0 122.5px,#5b9acd 126.5px,#7bb0da 129.5px,#8ab9de 132.5px,#8bb9de 135.5px,#7cb1da 138.5px,#7fb2db 139.5px,#8ab8de 140.5px,#b9d3eb 143.5px,#c6daee 144.5px,#d3e2f1 147.5px,#d6e4f2 154.5px)"></i><i style="top:140px;background:linear-gradient(90deg,#f7a184 0.5px,#f8b39a 11.5px,#fac7b3 17.5px,#fbd7c9 20.5px,#f3eae7 22.5px,#e6eaf2 23.5px,#c0d7ec 28.5px,#a1c5e4 32.5px,#85b6dc 34.5px,#6ea7d5 35.5px,#3981bf 37.5px,#2469ae 39.5px,#1660a5 41.5px,#125da1 50.5px,#155fa4 83.5px,#256baf 87.5px,#2d75b6 90.5px,#2f77b8 116.5px,#3b83c0 122.5px,#5b9acd 126.5px,#7bb0da 129.5px,#8ab9de 132.5px,#8bb9de 135.5px,#7fb3db 138.5px,#82b4dc 139.5px,#8cbade 140.5px,#bad3eb 143.5px,#c6daee 144.5px,#d3e2f1 147.5px,#d6e4f2 154.5px)"></i><i style="top:141px;background:linear-gradient(90deg,#f69f82 0.5px,#f8b299 11.5px,#fac5b1 17.5px,#fbd6c6 20.5px,#f9ddd2 21.5px,#f6e8e3 22.5px,#e8ebf2 23.5px,#d1e1f1 26.5px,#a1c5e4 32.5px,#85b6dc 34.5px,#6fa8d5 35.5px,#3a82c0 37.5px,#246aae 39.5px,#1660a5 41.5px,#125da1 49.5px,#145ea3 82.5px,#1d64a9 85.5px,#2c74b6 89.5px,#2f77b8 116.5px,#3b83c0 122.5px,#5b9acd 126.5px,#7bb0da 129.5px,#8ab9de 132.5px,#8bb9de 135.5px,#82b4dc 138.5px,#85b6dc 139.5px,#8ebbdf 140.5px,#c6daee 144.5px,#d3e2f1 147.5px,#d6e4f2 154.5px)"></i><i style="top:142px;background:linear-gradient(90deg,#f69e81 0.5px,#f8b197 11.5px,#fac4af 17.5px,#fbd4c4 20.5px,#fadbce 21.5px,#f7e5de 22.5px,#ecebee 23.5px,#dfe8f3 24.5px,#c2d8ed 28.5px,#96bfe1 33.5px,#87b7dd 34.5px,#72aad6 35.5px,#3c84c1 37.5px,#256baf 39.5px,#1761a6 41.5px,#125da1 48.5px,#145fa3 70.5px,#145ea3 82.5px,#1e64aa 85.5px,#2c74b6 89.5px,#2f77b8 116.5px,#3b83c0 122.5px,#5b9acd 126.5px,#7bb0da 129.5px,#8ab9de 132.5px,#8cbade 135.5px,#84b6dc 138.5px,#87b7dd 139.5px,#9ec4e3 141.5px,#c6daee 144.5px,#d3e2f1 147.5px,#d6e4f2 154.5px)"></i><i style="top:143px;background:linear-gradient(90deg,#f69d80 0.5px,#f8b096 11.5px,#fac3ad 17.5px,#fad9cb 21.5px,#f0eaeb 23.5px,#e3e9f2 24.5px,#b1cee8 30.5px,#98c0e1 33.5px,#89b8dd 34.5px,#75acd7 35.5px,#4087c3 37.5px,#276db1 39.5px,#1f64aa 40.5px,#155fa4 42.5px,#145ea3 61.5px,#1962a7 68.5px,#125da1 77.5px,#1660a5 83.5px,#256aaf 86.5px,#2d75b7 89.5px,#2f77b8 116.5px,#3b83c0 122.5px,#5b9acd 126.5px,#7bb0da 129.5px,#8ab9de 132.5px,#8ab9de 136.5px,#86b6dd 138.5px,#89b8dd 139.5px,#9fc4e3 141.5px,#c6daee 144.5px,#d3e2f1 147.5px,#d6e4f2 154.5px)"></i><i style="top:144px;background:linear-gradient(90deg,#f69c7e 0.5px,#f8af95 11.5px,#f9c1ab 17.5px,#fbd8c9 21.5px,#f3eae8 23.5px,#e5eaf2 24.5px,#bbd4eb 29.5px,#99c1e2 33.5px,#8cbade 34.5px,#79afd9 35.5px,#468bc5 37.5px,#347cbb 38.5px,#2065ab 40.5px,#155fa4 42.5px,#135da2 58.5px,#1c63a9 64.5px,#1e64aa 68.5px,#135da2 74.5px,#155fa4 82.5px,#2166ac 85.5px,#2c74b6 88.5px,#2f77b8 116.5px,#3b83c0 122.5px,#5b9acd 126.5px,#7bb0da 129.5px,#8ab9de 132.5px,#8ab9de 136.5px,#87b7dd 138.5px,#8ab9de 139.5px,#a0c5e3 141.5px,#c6daee 144.5px,#d3e2f1 147.5px,#d6e4f2 154.5px)"></i><i style="top:145px;background:linear-gradient(90deg,#f69b7d 0.5px,#f8ae93 11.5px,#f9c0aa 17.5px,#fbd6c7 21.5px,#f9ded2 22.5px,#f5e9e4 23.5px,#e8ebf2 24.5px,#cedff0 27.5px,#9ac2e2 33.5px,#8ebbdf 34.5px,#7db1da 35.5px,#4b8fc7 37.5px,#367ebd 38.5px,#2267ac 40.5px,#1660a5 42.5px,#125da1 53.5px,#1661a5 61.5px,#256aaf 66.5px,#2065ab 69.5px,#145fa3 73.5px,#155fa4 82.5px,#2367ad 85.5px,#2d75b6 88.5px,#2f77b8 116.5px,#3b83c0 122.5px,#5b9acd 126.5px,#7bb0da 129.5px,#8ab9de 132.5px,#8bb9de 136.5px,#88b7dd 138.5px,#8bb9de 139.5px,#a0c5e3 141.5px,#c6daee 144.5px,#d3e2f1 147.5px,#d6e4f2 154.5px)"></i><i style="top:146px;background:linear-gradient(90deg,#f6997b 0.5px,#f8ad92 11.5px,#f9bfa8 17.5px,#fbd4c5 21.5px,#fadccf 22.5px,#f6e6e0 23.5px,#ebebf0 24.5px,#d7e4f2 26.5px,#91bcdf 34.5px,#81b4db 35.5px,#6ca6d4 36.5px,#3981c0 38.5px,#256aaf 40.5px,#1761a6 42.5px,#125da1 50.5px,#1660a5 60.5px,#266cb0 64.5px,#2a72b4 67.5px,#1761a6 72.5px,#135da2 79.5px,#1962a7 83.5px,#2b73b5 87.5px,#2d75b7 92.5px,#2f77b8 116.5px,#3b83c0 122.5px,#5b9acd 126.5px,#7bb0da 129.5px,#8ab9de 132.5px,#8bb9de 136.5px,#88b7dd 138.5px,#8bb9de 139.5px,#a0c5e3 141.5px,#c6daee 144.5px,#d3e2f1 147.5px,#d6e4f2 154.5px)"></i><i style="top:147px;background:linear-gradient(90deg,#f6987a 0.5px,#f8ac91 11.5px,#f9bea7 17.5px,#fbd3c2 21.5px,#f7e4dc 23.5px,#eeebec 24.5px,#e1e9f2 25.5px,#a5c8e5 32.5px,#93bee0 34.5px,#85b6dc 35.5px,#72aad6 36.5px,#4086c2 38.5px,#276db1 40.5px,#1f64aa 41.5px,#155fa4 43.5px,#145ea3 58.5px,#1c63a9 61.5px,#266cb0 63.5px,#3078b9 66.5px,#2970b3 69.5px,#1962a7 72.5px,#125da1 77.5px,#1660a5 82.5px,#256aaf 85.5px,#2e76b7 88.5px,#2e76b7 115.5px,#3b83c0 122.5px,#5b9acd 126.5px,#7bb0da 129.5px,#8ab9de 132.5px,#8ab9de 136.5px,#87b7dd 138.5px,#8ab9de 139.5px,#a0c5e3 141.5px,#c6daee 144.5px,#d3e2f1 147.5px,#d6e4f2 154.5px)"></i><i style="top:148px;background:linear-gradient(90deg,#f69779 0.5px,#f8ab90 11.5px,#f9c1ab 18.5px,#fad9cb 22.5px,#f1eaea 24.5px,#e4e9f2 25.5px,#b5d1e9 30.5px,#95bfe1 34.5px,#89b8dd 35.5px,#78aed8 36.5px,#468bc5 38.5px,#347cbc 39.5px,#2166ab 41.5px,#1560a4 43.5px,#125da1 56.5px,#1962a7 60.5px,#256aaf 62.5px,#337bbb 65.5px,#3179b9 68.5px,#2266ac 71.5px,#155fa4 74.5px,#155fa4 81.5px,#2166ac 84.5px,#2d75b7 87.5px,#2f77b8 116.5px,#3b83c0 122.5px,#5b9acd 126.5px,#7bb0da 129.5px,#8ab9de 132.5px,#8ab9de 136.5px,#86b6dd 138.5px,#89b8dd 139.5px,#a0c4e3 141.5px,#c6daee 144.5px,#d3e2f1 147.5px,#d6e4f2 154.5px)"></i><i style="top:149px;background:linear-gradient(90deg,#f69678 0.5px,#f7aa8f 11.5px,#f9c0a9 18.5px,#fbd7c8 22.5px,#f8dfd5 23.5px,#f4eae7 24.5px,#e6eaf2 25.5px,#c2d8ed 29.5px,#a7c8e5 32.5px,#8dbade 35.5px,#7db1da 36.5px,#377fbe 39.5px,#2368ad 41.5px,#1660a5 43.5px,#125da1 52.5px,#1761a6 59.5px,#2266ac 61.5px,#327aba 64.5px,#377fbe 67.5px,#2a72b4 70.5px,#1f64aa 72.5px,#145fa3 75.5px,#1560a4 81.5px,#2367ad 84.5px,#2e76b7 87.5px,#2e76b7 115.5px,#3b83c0 122.5px,#5b9acd 126.5px,#7bb0da 129.5px,#8ab9de 132.5px,#8cbade 135.5px,#84b6dc 138.5px,#87b7dd 139.5px,#9fc4e3 141.5px,#c6daee 144.5px,#d3e2f1 147.5px,#d6e4f2 154.5px)"></i><i style="top:150px;background:linear-gradient(90deg,#f69477 0.5px,#f7a98d 11.5px,#f9bfa8 18.5px,#fbd6c6 22.5px,#f9ddd2 23.5px,#f6e8e3 24.5px,#e8ebf2 25.5px,#d4e3f2 27.5px,#a8c9e5 32.5px,#90bcdf 35.5px,#82b4db 36.5px,#6ea7d5 37.5px,#3b83c1 39.5px,#256baf 41.5px,#1761a6 43.5px,#125da1 50.5px,#1560a4 58.5px,#2469ae 61.5px,#357dbc 64.5px,#3981bf 67.5px,#2d75b6 70.5px,#2166ac 72.5px,#155fa4 75.5px,#1660a5 81.5px,#2469ae 84.5px,#2f77b8 87.5px,#2e76b7 115.5px,#3b82c0 122.5px,#5b9acd 126.5px,#7bb0da 129.5px,#8ab9de 132.5px,#8bb9de 135.5px,#82b4dc 138.5px,#85b6dc 139.5px,#9ec4e3 141.5px,#c6daee 144.5px,#d3e2f1 147.5px,#d6e4f2 154.5px)"></i><i style="top:151px;background:linear-gradient(90deg,#f69375 0.5px,#f7a88c 11.5px,#f9bda6 18.5px,#fbd4c5 22.5px,#f6e6e0 24.5px,#eaebf0 25.5px,#d6e3f2 27.5px,#bad3eb 30.5px,#92bde0 35.5px,#86b7dd 36.5px,#74acd7 37.5px,#4288c3 39.5px,#327aba 40.5px,#1f65ab 42.5px,#155fa4 44.5px,#135ea2 56.5px,#1a62a8 59.5px,#266cb0 61.5px,#377fbe 64.5px,#3b83c0 67.5px,#3078b8 70.5px,#1e64aa 73.5px,#145fa3 76.5px,#1761a6 81.5px,#2165ab 83.5px,#2e76b7 86.5px,#2e76b7 91.5px,#2e76b7 115.5px,#3b82c0 122.5px,#5b9acd 126.5px,#7bb0da 129.5px,#8ab9de 132.5px,#8bb9de 135.5px,#80b3db 138.5px,#83b5dc 139.5px,#8dbbdf 140.5px,#bad4eb 143.5px,#c6daee 144.5px,#d3e2f1 147.5px,#d6e4f2 154.5px)"></i><i style="top:152px;background:linear-gradient(90deg,#f69274 0.5px,#f7a78b 11.5px,#f9bca5 18.5px,#fbd3c3 22.5px,#f7e4dc 24.5px,#edebed 25.5px,#e1e9f2 26.5px,#a9cae6 32.5px,#95bfe1 35.5px,#8ab9de 36.5px,#7ab0d9 37.5px,#498dc6 39.5px,#367ebd 40.5px,#2266ac 42.5px,#1660a5 44.5px,#135da2 55.5px,#1761a6 58.5px,#2266ac 60.5px,#347cbc 63.5px,#3e85c1 66.5px,#327aba 70.5px,#2165ab 73.5px,#1560a4 76.5px,#1660a5 80.5px,#2367ad 83.5px,#2f77b8 86.5px,#2e76b7 115.5px,#3b82c0 122.5px,#5b9acd 126.5px,#7bb0da 129.5px,#8ab9de 132.5px,#8bb9de 135.5px,#7db2da 138.5px,#80b3db 139.5px,#8bb9de 140.5px,#bad3eb 143.5px,#c6daee 144.5px,#d3e2f1 147.5px,#d6e4f2 154.5px)"></i><i style="top:153px;background:linear-gradient(90deg,#f69173 0.5px,#f7a68a 11.5px,#f9bba4 18.5px,#fbd2c1 22.5px,#f8e2d9 24.5px,#f0eaea 25.5px,#e3e9f2 26.5px,#abcbe6 32.5px,#8ebbdf 36.5px,#80b3db 37.5px,#6ba5d3 38.5px,#3981bf 40.5px,#2469ae 42.5px,#1660a5 44.5px,#125da1 52.5px,#1560a4 57.5px,#2469ae 60.5px,#367ebd 63.5px,#3f86c2 66.5px,#347cbc 70.5px,#1e64aa 74.5px,#1660a5 77.5px,#1c63a9 81.5px,#3078b8 86.5px,#2e76b7 115.5px,#3b82c0 122.5px,#5b9acd 126.5px,#7bb0da 129.5px,#8ab9de 132.5px,#8ab9de 135.5px,#7bb0d9 138.5px,#7db2da 139.5px,#89b8dd 140.5px,#bad3eb 143.5px,#c6daee 144.5px,#d3e2f1 147.5px,#d6e4f2 154.5px)"></i><i style="top:154px;background:linear-gradient(90deg,#f59072 0.5px,#f7a589 11.5px,#f9bba2 18.5px,#fbd0bf 22.5px,#f8e0d6 24.5px,#f3eae8 25.5px,#e5eaf2 26.5px,#c0d7ec 30.5px,#adcce7 32.5px,#92bde0 36.5px,#85b6dc 37.5px,#72aad6 38.5px,#3f85c2 40.5px,#266cb0 42.5px,#1e64aa 43.5px,#155fa4 45.5px,#145fa3 56.5px,#2065ab 59.5px,#377fbe 63.5px,#4086c2 66.5px,#367ebd 70.5px,#2266ac 74.5px,#1962a7 77.5px,#2065ab 81.5px,#3179b9 86.5px,#2d75b6 112.5px,#367ebd 120.5px,#3b82c0 122.5px,#5b9acd 126.5px,#7bb0da 129.5px,#8ab9de 132.5px,#8ab9de 135.5px,#78aed8 138.5px,#7ab0d9 139.5px,#87b7dd 140.5px,#abcbe7 142.5px,#c6daee 144.5px,#d3e2f1 147.5px,#d6e4f2 154.5px)"></i><i style="top:155px;background:linear-gradient(90deg,#f58e71 0.5px,#f7a488 11.5px,#f9bea7 19.5px,#fbd6c7 23.5px,#f9ded3 24.5px,#f5e9e4 25.5px,#e7ebf2 26.5px,#d3e2f1 28.5px,#afcde8 32.5px,#96bfe1 36.5px,#8ab9de 37.5px,#79afd9 38.5px,#468bc5 40.5px,#347cbb 41.5px,#2065ab 43.5px,#1560a4 45.5px,#145ea3 55.5px,#1c63a9 58.5px,#2267ac 59.5px,#347cbc 62.5px,#4087c3 66.5px,#3880be 70.5px,#2266ac 75.5px,#1e64aa 78.5px,#246aae 81.5px,#3179b9 85.5px,#2e76b7 114.5px,#3a82c0 122.5px,#5b9acd 126.5px,#7bb0da 129.5px,#8ab9de 132.5px,#89b8de 135.5px,#74acd7 138.5px,#77add8 139.5px,#84b5dc 140.5px,#abcbe6 142.5px,#c6daee 144.5px,#d3e2f1 147.5px,#d6e4f2 154.5px)"></i><i style="top:156px;background:linear-gradient(90deg,#f58d70 0.5px,#f7a487 11.5px,#f9bda5 19.5px,#fbd5c5 23.5px,#f6e6e0 25.5px,#eaebf0 26.5px,#d5e3f2 28.5px,#abcbe6 33.5px,#9ac1e2 36.5px,#90bcdf 37.5px,#7fb3db 38.5px,#377fbe 41.5px,#2367ad 43.5px,#1660a5 45.5px,#135ea2 54.5px,#1962a7 57.5px,#256aaf 59.5px,#367ebd 62.5px,#4187c3 66.5px,#3981bf 70.5px,#2469ae 76.5px,#276db1 80.5px,#327aba 85.5px,#2d75b7 108.5px,#327aba 118.5px,#3a82c0 122.5px,#5b9acd 126.5px,#7bb0da 129.5px,#8ab9de 132.5px,#89b8dd 135.5px,#71a9d6 138.5px,#73abd7 139.5px,#81b4db 140.5px,#aacae6 142.5px,#c6daee 144.5px,#d3e2f1 147.5px,#d6e4f2 154.5px)"></i><i style="top:157px;background:linear-gradient(90deg,#f58c6f 0.5px,#f7a386 11.5px,#f9bca4 19.5px,#fbd3c3 23.5px,#f7e4dc 25.5px,#edebed 26.5px,#e1e8f3 27.5px,#aecce7 33.5px,#9ec4e3 36.5px,#95bee0 37.5px,#86b7dd 38.5px,#71a9d6 39.5px,#3b83c1 41.5px,#256baf 43.5px,#1761a6 45.5px,#145ea3 52.5px,#1761a6 56.5px,#2166ac 58.5px,#377fbe 62.5px,#4187c3 66.5px,#3880bf 71.5px,#2a71b4 76.5px,#2e76b7 81.5px,#347cbb 86.5px,#2e76b7 101.5px,#3078b9 117.5px,#3a82c0 122.5px,#5b9acd 126.5px,#7bb0da 129.5px,#8ab9de 132.5px,#8bb9de 134.5px,#80b3db 136.5px,#6ea7d4 138.5px,#70a9d5 139.5px,#7eb2da 140.5px,#aacae6 142.5px,#c5daee 144.5px,#d3e2f1 147.5px,#d6e4f2 154.5px)"></i><i style="top:158px;background:linear-gradient(90deg,#f58b6e 0.5px,#f7a285 11.5px,#f9bba3 19.5px,#fbd1c1 23.5px,#f8e1d9 25.5px,#f1eaea 26.5px,#e3e9f2 27.5px,#b1cee8 33.5px,#a2c6e4 36.5px,#8dbade 38.5px,#79afd9 39.5px,#4489c4 41.5px,#337bbb 42.5px,#2065ab 44.5px,#1660a5 46.5px,#1861a6 55.5px,#2469ae 58.5px,#357dbc 61.5px,#4087c3 65.5px,#3c84c1 70.5px,#2f77b8 77.5px,#347cbc 86.5px,#2e76b7 100.5px,#3078b9 117.5px,#3a82c0 122.5px,#5b9acd 126.5px,#7bb0da 129.5px,#8ab9de 132.5px,#8bb9de 134.5px,#88b7dd 135.5px,#6aa5d3 138.5px,#6ca6d4 139.5px,#7bb0da 140.5px,#a9cae6 142.5px,#c5daee 144.5px,#d3e2f1 147.5px,#d6e4f2 154.5px)"></i><i style="top:159px;background:linear-gradient(90deg,#f58a6d 0.5px,#f7a488 12.5px,#f9baa2 19.5px,#fad0be 23.5px,#f8dfd5 25.5px,#f4eae7 26.5px,#e6eaf2 27.5px,#b4d0e9 33.5px,#9fc4e3 37.5px,#93bee0 38.5px,#81b4db 39.5px,#4c90c7 41.5px,#377fbe 42.5px,#2469ae 44.5px,#1861a6 47.5px,#1a62a8 54.5px,#2368ad 57.5px,#377fbe 61.5px,#4187c3 65.5px,#3b83c1 71.5px,#347cbb 78.5px,#337bbb 87.5px,#2e76b7 103.5px,#3078b9 117.5px,#3a82c0 122.5px,#5b9acd 126.5px,#7bb0da 129.5px,#8ab9de 132.5px,#8bb9de 134.5px,#87b7dd 135.5px,#66a2d2 138.5px,#68a3d2 139.5px,#78aed8 140.5px,#a8c9e6 142.5px,#c5daee 144.5px,#d3e2f1 147.5px,#d6e4f2 154.5px)"></i><i style="top:160px;background:linear-gradient(90deg,#f5896c 0.5px,#f7a387 12.5px,#f9bea6 20.5px,#fbd5c6 24.5px,#f9ddd1 25.5px,#f6e8e2 26.5px,#e8ebf2 27.5px,#d7e4f2 29.5px,#b3cfe9 34.5px,#a4c7e4 37.5px,#99c1e2 38.5px,#89b8dd 39.5px,#72aad6 40.5px,#5696cb 41.5px,#3e85c2 42.5px,#2970b3 44.5px,#1f65ab 46.5px,#1d64a9 51.5px,#256aaf 56.5px,#3c83c1 62.5px,#4187c3 66.5px,#377fbe 79.5px,#2f77b8 101.5px,#3179b9 117.5px,#3a82c0 122.5px,#5b9acd 126.5px,#7bb0da 129.5px,#8ab9de 132.5px,#8bb9de 134.5px,#87b7dd 135.5px,#639fd0 138.5px,#65a1d1 139.5px,#75acd7 140.5px,#a8c9e6 142.5px,#c5daee 144.5px,#d3e2f1 147.5px,#d6e4f2 154.5px)"></i><i style="top:161px;background:linear-gradient(90deg,#f5886b 0.5px,#f7a286 12.5px,#f9bda5 20.5px,#fbd3c3 24.5px,#fadbce 25.5px,#f7e5de 26.5px,#ecebee 27.5px,#dfe8f3 28.5px,#b6d2ea 34.5px,#a9c9e6 37.5px,#a0c5e3 38.5px,#91bde0 39.5px,#7db1da 40.5px,#4b8ec7 42.5px,#3880be 43.5px,#2a71b4 45.5px,#2469ae 48.5px,#286fb2 55.5px,#4086c2 63.5px,#3d84c1 72.5px,#2f77b8 98.5px,#3179b9 117.5px,#3a82c0 122.5px,#5b9acd 126.5px,#7bb0da 129.5px,#8ab9de 132.5px,#8bb9de 134.5px,#86b7dd 135.5px,#5f9dcf 138.5px,#619ed0 139.5px,#72aad6 140.5px,#a7c9e5 142.5px,#c5daee 144.5px,#d3e2f1 147.5px,#d6e4f2 154.5px)"></i><i style="top:162px;background:linear-gradient(90deg,#f5876a 0.5px,#f7a285 12.5px,#f9bca4 20.5px,#fbd1c1 24.5px,#f8e2d9 26.5px,#f0eaeb 27.5px,#e1e9f2 28.5px,#bad4eb 34.5px,#a6c8e5 38.5px,#99c1e2 39.5px,#72aad6 41.5px,#5999cd 42.5px,#458bc5 43.5px,#3880be 44.5px,#2c74b6 47.5px,#2f77b8 55.5px,#4187c3 63.5px,#3078b8 98.5px,#3179b9 117.5px,#3a82c0 122.5px,#5b9acd 126.5px,#7bb0da 129.5px,#8ab9de 132.5px,#8bb9de 134.5px,#85b6dc 135.5px,#5b9acd 138.5px,#5d9cce 139.5px,#6fa8d5 140.5px,#a7c8e5 142.5px,#c5daee 144.5px,#d3e2f1 147.5px,#d6e4f2 154.5px)"></i><i style="top:163px;background:linear-gradient(90deg,#f58669 0.5px,#f7a184 12.5px,#f9bba3 20.5px,#fad0be 24.5px,#f8dfd5 26.5px,#f3eae8 27.5px,#e4eaf2 28.5px,#bed6ec 34.5px,#aacae6 38.5px,#a1c5e4 39.5px,#80b3db 41.5px,#5697cc 43.5px,#3d84c1 45.5px,#357dbc 48.5px,#3981bf 58.5px,#4187c3 63.5px,#3078b9 98.5px,#3179b9 117.5px,#3a82c0 122.5px,#5b9acd 126.5px,#7bb0d9 129.5px,#8ab9de 132.5px,#8bb9de 134.5px,#85b6dc 135.5px,#5898cc 138.5px,#5a99cd 139.5px,#6da6d4 140.5px,#a6c8e5 142.5px,#c5daee 144.5px,#d3e2f1 147.5px,#d6e4f2 154.5px)"></i><i style="top:164px;background:linear-gradient(90deg,#f58568 0.5px,#f7a184 12.5px,#f9baa2 20.5px,#fbd5c5 25.5px,#f9ddd1 26.5px,#f6e8e3 27.5px,#e7ebf2 28.5px,#c6dbee 33.5px,#a7c9e5 39.5px,#8dbade 41.5px,#5c9bce 44.5px,#4a8ec7 46.5px,#3f86c2 50.5px,#3d84c1 57.5px,#4187c3 65.5px,#3078b9 97.5px,#3179b9 117.5px,#3a82c0 122.5px,#5b9acd 126.5px,#7bb0d9 129.5px,#8ab9de 132.5px,#8ab9de 134.5px,#84b6dc 135.5px,#77add8 136.5px,#5596cb 138.5px,#5697cc 139.5px,#6aa5d3 140.5px,#a6c8e5 142.5px,#c5daee 144.5px,#d3e2f1 147.5px,#d6e4f2 154.5px)"></i><i style="top:165px;background:linear-gradient(90deg,#f58467 0.5px,#f7a386 13.5px,#f9bda6 21.5px,#fbd3c3 25.5px,#fadacd 26.5px,#f6e6df 27.5px,#eaebf0 28.5px,#dbe6f3 30.5px,#c5daee 34.5px,#accbe7 39.5px,#98c0e1 41.5px,#65a1d1 45.5px,#5596cb 47.5px,#458ac4 54.5px,#3179b9 98.5px,#3179ba 117.5px,#3a82c0 122.5px,#5b9acd 126.5px,#7bb0da 129.5px,#8ab9de 132.5px,#8ab9de 134.5px,#84b5dc 135.5px,#76add8 136.5px,#5395ca 138.5px,#5495cb 139.5px,#68a3d2 140.5px,#a5c7e5 142.5px,#c5daee 144.5px,#d3e2f1 147.5px,#d6e4f2 154.5px)"></i><i style="top:166px;background:linear-gradient(90deg,#f58366 0.5px,#f7a286 13.5px,#f9bda5 21.5px,#fbd1c0 25.5px,#fbd9ca 26.5px,#f7e3db 27.5px,#edebed 28.5px,#e2e9f2 29.5px,#c7dbee 34.5px,#afcee8 39.5px,#95bfe0 42.5px,#6ca6d4 46.5px,#5496cb 50.5px,#468bc5 57.5px,#3179ba 97.5px,#327aba 117.5px,#3b83c0 122.5px,#5b9acd 126.5px,#7bb0da 129.5px,#8ab9de 132.5px,#8ab9de 134.5px,#84b5dc 135.5px,#75acd7 136.5px,#609ecf 137.5px,#5193ca 138.5px,#5294ca 139.5px,#66a2d2 140.5px,#a5c7e5 142.5px,#b8d2ea 143.5px,#c5daee 144.5px,#d3e2f1 147.5px,#d6e4f2 154.5px)"></i><i style="top:167px;background:linear-gradient(90deg,#f58265 0.5px,#f7a285 13.5px,#f9bca4 21.5px,#fad0bf 25.5px,#fbd7c8 26.5px,#f0eaeb 28.5px,#e3e9f2 29.5px,#c8dcef 34.5px,#b3cfe9 39.5px,#9cc2e2 42.5px,#6fa8d5 47.5px,#5394ca 52.5px,#4489c4 60.5px,#327aba 97.5px,#337bbb 118.5px,#3b83c1 122.5px,#5b9acd 126.5px,#7bb0da 129.5px,#8ab9de 132.5px,#8ab9de 134.5px,#83b5dc 135.5px,#74acd7 136.5px,#5f9dcf 137.5px,#5092c9 138.5px,#5193c9 139.5px,#65a1d1 140.5px,#a4c7e5 142.5px,#b7d2ea 143.5px,#c5daee 144.5px,#d3e2f1 147.5px,#d6e4f2 154.5px)"></i><i style="top:168px;background:linear-gradient(90deg,#f58164 0.5px,#f7a185 13.5px,#f9c0a9 22.5px,#fbd5c6 26.5px,#f3eae8 28.5px,#e4e9f2 29.5px,#caddef 34.5px,#bbd4eb 38.5px,#a1c5e4 42.5px,#6da7d4 48.5px,#5294ca 53.5px,#4389c4 61.5px,#327aba 95.5px,#347cbc 118.5px,#3c83c1 122.5px,#5b9acd 126.5px,#7bb0da 129.5px,#8ab9de 132.5px,#8ab9de 134.5px,#83b5dc 135.5px,#74abd7 136.5px,#5e9cce 137.5px,#4f91c9 138.5px,#5092c9 139.5px,#63a0d1 140.5px,#a4c7e4 142.5px,#b7d2ea 143.5px,#c5daee 144.5px,#d3e2f1 147.5px,#d6e4f2 154.5px)"></i><i style="top:169px;background:linear-gradient(90deg,#f58064 0.5px,#f7a184 13.5px,#f9bfa8 22.5px,#fbd4c4 26.5px,#f9ddd2 27.5px,#f5eae6 28.5px,#e4eaf2 29.5px,#c8dcef 35.5px,#b8d2ea 39.5px,#9cc2e2 43.5px,#6aa4d3 49.5px,#5395ca 53.5px,#4489c4 61.5px,#337bbb 93.5px,#357dbc 118.5px,#3d84c1 122.5px,#5193c9 125.5px,#7bb0da 129.5px,#8ab9de 132.5px,#8ab9de 134.5px,#83b5dc 135.5px,#73abd7 136.5px,#5d9bce 137.5px,#4e91c8 138.5px,#4f92c9 139.5px,#629fd0 140.5px,#a4c7e4 142.5px,#b7d2ea 143.5px,#c5daee 144.5px,#d3e2f1 147.5px,#d6e4f2 154.5px)"></i><i style="top:170px;background:linear-gradient(90deg,#f58063 0.5px,#f7a387 14.5px,#f9bea8 22.5px,#fbd3c3 26.5px,#f9dcd0 27.5px,#f5e8e4 28.5px,#e5eaf2 29.5px,#caddef 35.5px,#bad4eb 39.5px,#9fc4e3 43.5px,#6ca6d4 49.5px,#5495cb 53.5px,#458ac4 60.5px,#347cbc 89.5px,#357dbc 117.5px,#3e85c2 122.5px,#5193ca 125.5px,#7bb0da 129.5px,#8ab9de 132.5px,#8ab9de 134.5px,#83b5dc 135.5px,#73abd7 136.5px,#5d9bce 137.5px,#4e91c8 138.5px,#4f91c8 139.5px,#629fd0 140.5px,#a4c7e4 142.5px,#b7d2ea 143.5px,#c5daee 144.5px,#d3e2f1 147.5px,#d6e4f2 154.5px)"></i><i style="top:171px;background:linear-gradient(90deg,#f57f62 0.5px,#f7a386 14.5px,#f9bea7 22.5px,#fbd2c2 26.5px,#fadbce 27.5px,#f6e7e1 28.5px,#e6eaf2 29.5px,#cbddef 35.5px,#bcd5eb 39.5px,#a2c6e4 43.5px,#68a3d2 50.5px,#5294ca 54.5px,#4389c4 62.5px,#347cbc 90.5px,#367ebd 117.5px,#3f86c2 122.5px,#5294ca 125.5px,#7bb0da 129.5px,#8ab9de 132.5px,#8ab9de 134.5px,#83b5dc 135.5px,#73abd7 136.5px,#5d9bce 137.5px,#4e91c8 138.5px,#4f91c8 139.5px,#629fd0 140.5px,#a4c7e4 142.5px,#b7d2ea 143.5px,#c5daee 144.5px,#d3e2f1 147.5px,#d6e4f2 154.5px)"></i><i style="top:172px;background:linear-gradient(90deg,#f57e62 0.5px,#f7a286 14.5px,#f9bda6 22.5px,#fbd1c1 26.5px,#fadacd 27.5px,#f6e6df 28.5px,#e8ebf2 29.5px,#cbdef0 35.5px,#bed6ec 39.5px,#9cc3e2 44.5px,#6aa4d3 50.5px,#5395ca 54.5px,#4489c4 62.5px,#357dbc 89.5px,#377fbe 117.5px,#3c84c1 121.5px,#5294ca 125.5px,#7bb0da 129.5px,#8ab9de 132.5px,#8ab9de 134.5px,#83b5dc 135.5px,#73abd7 136.5px,#5d9bce 137.5px,#4e91c8 138.5px,#4f92c9 139.5px,#639fd0 140.5px,#a4c7e4 142.5px,#b7d2ea 143.5px,#c5daee 144.5px,#d3e2f1 147.5px,#d6e4f2 154.5px)"></i><i style="top:173px;background:linear-gradient(90deg,#f47d61 0.5px,#f7a286 14.5px,#f9bda6 22.5px,#fbd1c0 26.5px,#fad9cb 27.5px,#f7e5de 28.5px,#e9ebf1 29.5px,#cfe0f0 34.5px,#c0d7ec 39.5px,#9fc4e3 44.5px,#6ca6d4 50.5px,#5495cb 54.5px,#458ac4 61.5px,#357dbd 86.5px,#377fbe 116.5px,#3d85c1 121.5px,#5294ca 125.5px,#7bb0da 129.5px,#8ab9de 132.5px,#8ab9de 134.5px,#83b5dc 135.5px,#74abd7 136.5px,#5e9cce 137.5px,#4f92c9 138.5px,#5092c9 139.5px,#63a0d1 140.5px,#a4c7e4 142.5px,#b7d2ea 143.5px,#c5daee 144.5px,#d3e2f1 147.5px,#d6e4f2 154.5px)"></i><i style="top:174px;background:linear-gradient(90deg,#f47d60 0.5px,#f7a285 14.5px,#f9c1ab 23.5px,#fbd0bf 26.5px,#fbd8ca 27.5px,#f7e4dc 28.5px,#ebebef 29.5px,#dae6f3 32.5px,#cddef0 35.5px,#c2d8ed 39.5px,#a2c6e4 44.5px,#6fa8d5 50.5px,#5294ca 55.5px,#4389c4 63.5px,#357dbd 87.5px,#3880be 116.5px,#3f85c2 121.5px,#5394ca 125.5px,#7bb0da 129.5px,#8ab9de 132.5px,#8ab9de 134.5px,#83b5dc 135.5px,#74acd7 136.5px,#5f9dcf 137.5px,#5092c9 138.5px,#5193c9 139.5px,#65a1d1 140.5px,#a4c7e5 142.5px,#b8d2ea 143.5px,#c5daee 144.5px,#d3e2f1 147.5px,#d6e4f2 154.5px)"></i><i style="top:175px;background:linear-gradient(90deg,#f47c60 0.5px,#f7a185 14.5px,#f9c1ab 23.5px,#fad0bf 26.5px,#fbd8c9 27.5px,#f7e3db 28.5px,#ecebee 29.5px,#dfe8f3 31.5px,#cddff0 35.5px,#c3d9ed 39.5px,#a5c7e5 44.5px,#6aa4d3 51.5px,#5395ca 55.5px,#4489c4 63.5px,#367ebd 86.5px,#3880bf 115.5px,#4086c2 121.5px,#5395ca 125.5px,#7bb0da 129.5px,#8ab9de 132.5px,#8ab9de 134.5px,#84b5dc 135.5px,#75acd7 136.5px,#609ecf 137.5px,#5193ca 138.5px,#5294ca 139.5px,#66a2d2 140.5px,#a5c7e5 142.5px,#b8d2ea 143.5px,#c5daee 144.5px,#d3e2f1 147.5px,#d6e4f2 154.5px)"></i><i style="top:176px;background:linear-gradient(90deg,#f47c5f 0.5px,#f7a488 15.5px,#f9c0aa 23.5px,#fad0be 26.5px,#fbd7c8 27.5px,#f7e2da 28.5px,#edebed 29.5px,#e3e9f2 30.5px,#cedff0 35.5px,#c0d7ec 40.5px,#9fc4e3 45.5px,#6ca6d4 51.5px,#5495cb 55.5px,#458ac4 62.5px,#367ebd 84.5px,#3880be 113.5px,#4187c3 121.5px,#5395ca 125.5px,#7bb0da 129.5px,#8ab9de 132.5px,#8ab9de 134.5px,#84b5dc 135.5px,#76add8 136.5px,#5395ca 138.5px,#5495cb 139.5px,#68a3d2 140.5px,#a5c8e5 142.5px,#c5daee 144.5px,#d3e2f1 147.5px,#d6e4f2 154.5px)"></i><i style="top:177px;background:linear-gradient(90deg,#f47b5f 0.5px,#f7a488 15.5px,#f9c0aa 23.5px,#fbd7c8 27.5px,#f8e1d9 28.5px,#eeebec 29.5px,#e4e9f2 30.5px,#cfe0f0 35.5px,#c2d8ed 40.5px,#a2c6e4 45.5px,#68a3d2 52.5px,#5294ca 56.5px,#4389c4 64.5px,#367ebd 86.5px,#3981bf 114.5px,#448ac4 122.5px,#5495ca 125.5px,#7bb1da 129.5px,#8ab9de 132.5px,#8bb9de 134.5px,#85b6dc 135.5px,#77aed8 136.5px,#5596cb 138.5px,#5797cc 139.5px,#6ba5d3 140.5px,#a6c8e5 142.5px,#c5daee 144.5px,#d3e2f1 147.5px,#d6e4f2 154.5px)"></i><i style="top:178px;background:linear-gradient(90deg,#f47b5e 0.5px,#f7a488 15.5px,#f9c0aa 23.5px,#fbd6c7 27.5px,#f8e1d8 28.5px,#efeaeb 29.5px,#e4eaf2 30.5px,#cfe0f0 35.5px,#c3d9ed 40.5px,#a5c8e5 45.5px,#6aa5d3 52.5px,#5395ca 56.5px,#4489c4 64.5px,#367ebd 85.5px,#3981bf 113.5px,#458ac4 122.5px,#5495cb 125.5px,#7cb1da 129.5px,#8bb9de 132.5px,#8bb9de 134.5px,#85b6dc 135.5px,#5898cc 138.5px,#5a99cd 139.5px,#6da7d4 140.5px,#a7c8e5 142.5px,#c6daee 144.5px,#d3e2f1 147.5px,#d6e4f2 154.5px)"></i><i style="top:179px;background:linear-gradient(90deg,#f47a5e 0.5px,#f7a487 15.5px,#f9c0a9 23.5px,#fbd6c7 27.5px,#f8e1d7 28.5px,#f0eaeb 29.5px,#e4eaf2 30.5px,#d0e0f1 35.5px,#c5daee 40.5px,#9fc4e3 46.5px,#6da6d4 52.5px,#5596cb 56.5px,#458ac5 63.5px,#367ebd 84.5px,#3880bf 112.5px,#468bc5 122.5px,#5496cb 125.5px,#7cb1da 129.5px,#8bb9de 132.5px,#8bb9de 134.5px,#86b6dd 135.5px,#5c9bce 138.5px,#5d9cce 139.5px,#70a9d5 140.5px,#a7c9e5 142.5px,#c6daee 144.5px,#d3e2f1 147.5px,#d6e4f2 154.5px)"></i><i style="top:180px;background:linear-gradient(90deg,#f47a5e 0.5px,#f7a387 15.5px,#f9c0a9 23.5px,#fbd6c6 27.5px,#f0eaea 29.5px,#e4eaf2 30.5px,#d0e0f1 35.5px,#c2d8ed 41.5px,#a3c6e4 46.5px,#68a3d2 53.5px,#5394ca 57.5px,#4489c4 65.5px,#367ebd 85.5px,#3981bf 112.5px,#468bc5 122.5px,#5596cb 125.5px,#7cb1da 129.5px,#8bb9de 132.5px,#8bb9de 134.5px,#86b7dd 135.5px,#5f9dcf 138.5px,#619ed0 139.5px,#73abd6 140.5px,#a8c9e6 142.5px,#c6daee 144.5px,#d3e2f1 147.5px,#d6e4f2 154.5px)"></i><i style="top:181px;background:linear-gradient(90deg,#f47a5d 0.5px,#f7a387 15.5px,#f9c0a9 23.5px,#fbd5c6 27.5px,#f1eaea 29.5px,#e4eaf2 30.5px,#d1e1f1 35.5px,#c3d9ee 41.5px,#a6c8e5 46.5px,#6ba5d3 53.5px,#5495cb 57.5px,#448ac4 65.5px,#377fbd 84.5px,#3981bf 112.5px,#478bc5 122.5px,#5696cb 125.5px,#7cb1da 129.5px,#8bb9de 132.5px,#8cbade 134.5px,#87b7dd 135.5px,#63a0d0 138.5px,#65a1d1 139.5px,#76add8 140.5px,#a9cae6 142.5px,#c6daee 144.5px,#d3e2f1 147.5px,#d6e4f2 154.5px)"></i><i style="top:182px;background:linear-gradient(90deg,#f4795d 0.5px,#f7a387 15.5px,#f9bfa9 23.5px,#fbd5c6 27.5px,#f1eaea 29.5px,#e4eaf2 30.5px,#d1e1f1 35.5px,#c5daee 41.5px,#a0c5e3 47.5px,#6da7d4 53.5px,#5596cb 57.5px,#468bc5 64.5px,#377fbd 84.5px,#3981bf 112.5px,#488cc6 122.5px,#5697cc 125.5px,#7db1da 129.5px,#8bb9de 132.5px,#8cbade 134.5px,#88b8dd 135.5px,#67a2d2 138.5px,#69a4d3 139.5px,#79afd9 140.5px,#aacae6 142.5px,#c6dbee 144.5px,#d3e2f1 147.5px,#d6e4f2 154.5px)"></i><i style="top:183px;background:linear-gradient(90deg,#f4795d 0.5px,#f7a387 15.5px,#f9bfa9 23.5px,#fbd5c6 27.5px,#f1eae9 29.5px,#e5eaf2 30.5px,#d1e1f1 35.5px,#c2d8ed 42.5px,#a3c7e4 47.5px,#69a4d3 54.5px,#5395ca 58.5px,#458ac4 66.5px,#377fbe 84.5px,#3981bf 111.5px,#488dc6 122.5px,#5798cc 125.5px,#7db2da 129.5px,#8bb9de 132.5px,#8cbade 134.5px,#89b8dd 135.5px,#6ba5d3 138.5px,#6da7d4 139.5px,#7cb1da 140.5px,#abcbe6 142.5px,#c6dbee 144.5px,#d3e2f1 147.5px,#d6e4f2 154.5px)"></i><i style="top:184px;background:linear-gradient(90deg,#f4795d 0.5px,#f7a387 15.5px,#f9bfa9 23.5px,#fbd5c5 27.5px,#f2eae9 29.5px,#e5eaf2 30.5px,#d2e1f1 35.5px,#c4d9ee 42.5px,#a6c8e5 47.5px,#6ca6d4 54.5px,#5596cb 58.5px,#458ac5 66.5px,#377fbe 84.5px,#3981bf 111.5px,#498dc6 122.5px,#5998cc 125.5px,#7eb2da 129.5px,#8cbade 132.5px,#89b8de 135.5px,#6fa8d5 138.5px,#71a9d6 139.5px,#80b3db 140.5px,#abcbe7 142.5px,#c6dbee 144.5px,#d3e2f1 147.5px,#d6e4f2 154.5px)"></i><i style="top:185px;background:linear-gradient(90deg,#f4795d 0.5px,#f7a387 15.5px,#f9bfa9 23.5px,#fbd5c5 27.5px,#f2eae9 29.5px,#e5eaf2 30.5px,#d2e2f1 35.5px,#c5daee 42.5px,#a1c5e4 48.5px,#6fa8d5 54.5px,#5394ca 59.5px,#448ac4 68.5px,#377fbe 84.5px,#3981bf 111.5px,#4b8ec7 122.5px,#5a99cd 125.5px,#7eb2db 129.5px,#8cbade 132.5px,#8ab9de 135.5px,#72aad6 138.5px,#75acd7 139.5px,#83b5dc 140.5px,#accce7 142.5px,#c6dbee 144.5px,#d3e2f1 147.5px,#d6e4f2 154.5px)"></i><i style="top:186px;background:linear-gradient(90deg,#f4795d 0.5px,#f7a387 15.5px,#f9bfa9 23.5px,#fbd5c6 27.5px,#f1eae9 29.5px,#e5eaf2 30.5px,#d3e2f1 35.5px,#c6dbee 42.5px,#a4c7e5 48.5px,#6aa5d3 55.5px,#5495cb 59.5px,#468bc5 67.5px,#377fbe 83.5px,#3981bf 110.5px,#4c8fc7 122.5px,#5b9acd 125.5px,#7fb3db 129.5px,#8cbade 132.5px,#8bb9de 135.5px,#76add8 138.5px,#79afd9 139.5px,#87b7dd 140.5px,#adcce7 142.5px,#c7dbee 144.5px,#d3e2f1 147.5px,#d6e4f2 154.5px)"></i><i style="top:187px;background:linear-gradient(90deg,#f4795d 0.5px,#f7a387 15.5px,#f9bfa9 23.5px,#fbd5c6 27.5px,#f1eae9 29.5px,#e5eaf2 30.5px,#d3e2f1 35.5px,#c4daee 43.5px,#9fc4e3 49.5px,#6da7d4 55.5px,#5394ca 60.5px,#448ac4 70.5px,#3880be 83.5px,#3880bf 109.5px,#4b8ec7 121.5px,#5596cb 124.5px,#80b3db 129.5px,#8cbade 132.5px,#8cbade 135.5px,#7aafd9 138.5px,#7db1da 139.5px,#8ab9de 140.5px,#aecde7 142.5px,#c7dbee 144.5px,#d3e2f1 147.5px,#d6e4f2 154.5px)"></i><i style="top:188px;background:linear-gradient(90deg,#f47a5d 0.5px,#f7a387 15.5px,#f9c0a9 23.5px,#fbd5c6 27.5px,#f1eaea 29.5px,#e5eaf2 30.5px,#d3e2f1 35.5px,#c6daee 43.5px,#a2c6e4 49.5px,#70a9d5 55.5px,#5495cb 60.5px,#468bc5 69.5px,#3880be 83.5px,#3981bf 109.5px,#4f92c9 122.5px,#5f9dcf 125.5px,#81b3db 129.5px,#8dbade 132.5px,#8dbade 135.5px,#7db2da 138.5px,#81b4db 139.5px,#8dbadf 140.5px,#bdd5ec 143.5px,#cddef0 145.5px,#d6e3f2 149.5px,#d6e4f2 154.5px)"></i><i style="top:189px;background:linear-gradient(90deg,#f47a5e 0.5px,#f7a387 15.5px,#f9c0a9 23.5px,#fbd6c6 27.5px,#f1eaea 29.5px,#e4eaf2 30.5px,#d3e2f1 35.5px,#c7dbee 43.5px,#a5c8e5 49.5px,#6ca6d4 56.5px,#5395ca 61.5px,#3880bf 83.5px,#3981bf 109.5px,#5495cb 123.5px,#87b7dd 130.5px,#8fbbdf 134.5px,#81b4db 138.5px,#85b6dc 139.5px,#90bcdf 140.5px,#bed6ec 143.5px,#cddff0 145.5px,#d6e3f2 149.5px,#d6e4f2 154.5px)"></i><i style="top:190px;background:linear-gradient(90deg,#f47a5e 0.5px,#f7a487 15.5px,#f9c0a9 23.5px,#fbd6c7 27.5px,#f0eaea 29.5px,#e4eaf2 30.5px,#d4e2f1 35.5px,#c8dcef 43.5px,#afcde7 48.5px,#68a3d2 57.5px,#5596cb 61.5px,#3981bf 83.5px,#3981bf 108.5px,#5093c9 121.5px,#5c9bce 124.5px,#82b5dc 129.5px,#8ebbdf 132.5px,#8ebbdf 135.5px,#84b5dc 138.5px,#88b8dd 139.5px,#bed6ec 143.5px,#cddff0 145.5px,#d6e3f2 149.5px,#d6e4f2 154.5px)"></i><i style="top:191px;background:linear-gradient(90deg,#f47b5e 0.5px,#f7a488 15.5px,#f9c0aa 23.5px,#fbd6c7 27.5px,#f8e1d8 28.5px,#f0eaeb 29.5px,#e4eaf2 30.5px,#d4e3f2 35.5px,#c6dbee 44.5px,#a3c7e4 50.5px,#72aad6 56.5px,#5797cc 61.5px,#488dc6 71.5px,#3981bf 84.5px,#3981bf 108.5px,#5596cb 122.5px,#6ea7d4 126.5px,#89b8dd 130.5px,#90bcdf 134.5px,#87b7dd 138.5px,#8bb9de 139.5px,#bfd7ec 143.5px,#cddff0 145.5px,#d6e4f2 149.5px,#d6e4f2 154.5px)"></i><i style="top:192px;background:linear-gradient(90deg,#f47b5f 0.5px,#f7a488 15.5px,#f9c0aa 23.5px,#fbd7c8 27.5px,#f8e1d8 28.5px,#efeaec 29.5px,#e4eaf2 30.5px,#d4e3f2 35.5px,#c7dbee 44.5px,#adcce7 49.5px,#6ea7d5 57.5px,#5696cb 62.5px,#3981bf 85.5px,#3981c0 108.5px,#5898cc 122.5px,#70a9d5 126.5px,#89b8de 130.5px,#90bcdf 134.5px,#8ab9de 138.5px,#8fbbdf 139.5px,#c0d7ec 143.5px,#cddff0 145.5px,#d6e4f2 149.5px,#d6e4f2 154.5px)"></i><i style="top:193px;background:linear-gradient(90deg,#f47c5f 0.5px,#f7a488 15.5px,#f9c0aa 23.5px,#fad0be 26.5px,#fbd7c8 27.5px,#f8e2d9 28.5px,#eeebed 29.5px,#e4eaf2 30.5px,#d4e3f2 35.5px,#c8dcef 44.5px,#b0cee8 49.5px,#6ba5d3 58.5px,#5596cb 63.5px,#3981bf 86.5px,#3a82c0 108.5px,#5c9bce 122.5px,#79afd9 127.5px,#8ab9de 130.5px,#91bcdf 134.5px,#8dbade 138.5px,#92bde0 139.5px,#c1d7ed 143.5px,#d1e1f1 146.5px,#d6e4f2 153.5px,#d6e4f2 154.5px)"></i><i style="top:194px;background:linear-gradient(90deg,#f47c60 0.5px,#f7a185 14.5px,#f9c1ab 23.5px,#fad0bf 26.5px,#fbd8c9 27.5px,#f7e3da 28.5px,#edebed 29.5px,#e4eaf2 30.5px,#d5e3f2 35.5px,#c9dcef 44.5px,#b8d2ea 48.5px,#9cc3e2 52.5px,#6da7d4 58.5px,#5798cc 63.5px,#3a82c0 86.5px,#3a82c0 107.5px,#5f9dcf 122.5px,#8bb9de 130.5px,#91bde0 135.5px,#90bcdf 138.5px,#94bee0 139.5px,#c1d8ed 143.5px,#d1e1f1 146.5px,#d6e4f2 153.5px,#d6e4f2 154.5px)"></i><i style="top:195px;background:linear-gradient(90deg,#f47d60 0.5px,#f7a285 14.5px,#f9c1ab 23.5px,#fbd0bf 26.5px,#fbd8ca 27.5px,#f7e3dc 28.5px,#ecebef 29.5px,#e0e8f3 31.5px,#d5e3f2 35.5px,#caddef 44.5px,#bfd7ec 47.5px,#9fc4e3 52.5px,#70a9d5 58.5px,#5a99cd 63.5px,#3a82c0 87.5px,#3b83c0 106.5px,#5797cc 118.5px,#6ca6d4 124.5px,#8cbade 130.5px,#92bde0 135.5px,#92bde0 138.5px,#a1c5e4 140.5px,#c2d8ed 143.5px,#d2e1f1 146.5px,#d6e4f2 153.5px,#d6e4f2 154.5px)"></i><i style="top:196px;background:linear-gradient(90deg,#f47d61 0.5px,#f7a286 14.5px,#f9c1ab 23.5px,#fbd1c0 26.5px,#fad9cb 27.5px,#f7e4dd 28.5px,#eaebf0 29.5px,#d9e5f3 33.5px,#c8dcef 45.5px,#b6d2ea 49.5px,#91bde0 54.5px,#6da7d4 59.5px,#5999cd 64.5px,#3b83c0 88.5px,#3c83c1 105.5px,#4f91c8 114.5px,#6fa8d5 124.5px,#8dbade 130.5px,#92bde0 136.5px,#94bee0 138.5px,#a3c6e4 140.5px,#c3d9ed 143.5px,#d2e1f1 146.5px,#d6e4f2 154.5px)"></i><i style="top:197px;background:linear-gradient(90deg,#f57e62 0.5px,#f7a286 14.5px,#f9bda6 22.5px,#fbd1c0 26.5px,#fadacc 27.5px,#f7e5de 28.5px,#e8ebf2 29.5px,#d6e4f2 34.5px,#ccdef0 44.5px,#bed6ec 48.5px,#9dc3e3 53.5px,#76add8 58.5px,#5f9dcf 63.5px,#3d84c1 87.5px,#3c84c1 103.5px,#498dc6 111.5px,#77aed8 125.5px,#8ebbdf 130.5px,#96bfe1 138.5px,#a5c7e5 140.5px,#c4d9ee 143.5px,#d2e1f1 146.5px,#d6e4f2 154.5px)"></i><i style="top:198px;background:linear-gradient(90deg,#f57f62 0.5px,#f7a386 14.5px,#f9bea7 22.5px,#fbd2c1 26.5px,#fadacd 27.5px,#f6e6e0 28.5px,#e7eaf2 29.5px,#d6e4f2 34.5px,#ccdef0 44.5px,#c0d7ed 48.5px,#a1c5e4 53.5px,#72aad6 59.5px,#5e9ccf 64.5px,#3f85c2 88.5px,#3e85c2 103.5px,#4f92c9 112.5px,#7fb2db 126.5px,#91bde0 131.5px,#98c0e1 138.5px,#b0cee8 141.5px,#c4daee 143.5px,#d2e1f1 146.5px,#d6e4f2 154.5px)"></i><i style="top:199px;background:linear-gradient(90deg,#f58063 0.5px,#f7a387 14.5px,#f9bea7 22.5px,#fbd2c2 26.5px,#fadbcf 27.5px,#f6e7e2 28.5px,#e6eaf2 29.5px,#d6e4f2 34.5px,#cddff0 44.5px,#c2d8ed 48.5px,#a4c7e4 53.5px,#75acd7 59.5px,#619ed0 64.5px,#4187c3 88.5px,#4187c3 103.5px,#5294ca 112.5px,#81b4db 126.5px,#92bde0 131.5px,#99c1e2 138.5px,#b1cee8 141.5px,#c5daee 143.5px,#d4e3f2 147.5px,#d6e4f2 154.5px)"></i><i style="top:200px;background:linear-gradient(90deg,#f58064 0.5px,#f7a184 13.5px,#f9bfa8 22.5px,#fbd3c3 26.5px,#f9dcd0 27.5px,#f5e8e4 28.5px,#e6eaf2 29.5px,#d6e4f2 34.5px,#ccdef0 45.5px,#bfd6ec 49.5px,#9ec4e3 54.5px,#78aed8 59.5px,#63a0d0 64.5px,#4388c4 88.5px,#4389c4 102.5px,#5394ca 111.5px,#74abd7 121.5px,#92bde0 131.5px,#9ac2e2 138.5px,#bcd5eb 142.5px,#cbddef 144.5px,#d5e3f2 148.5px,#d6e4f2 154.5px)"></i><i style="top:201px;background:linear-gradient(90deg,#f58164 0.5px,#f7a185 13.5px,#f9bfa8 22.5px,#fbd4c4 26.5px,#f9ddd2 27.5px,#f5eae6 28.5px,#e6eaf2 29.5px,#d6e4f2 34.5px,#ccdef0 45.5px,#c0d7ed 49.5px,#a1c5e4 54.5px,#7ab0d9 59.5px,#65a1d1 64.5px,#458ac4 88.5px,#468bc5 102.5px,#5797cc 111.5px,#75acd7 120.5px,#93bee0 131.5px,#98c0e1 137.5px,#aacae6 140.5px,#c6dbee 143.5px,#d4e3f2 147.5px,#d6e4f2 154.5px)"></i><i style="top:202px;background:linear-gradient(90deg,#f58265 0.5px,#f7a285 13.5px,#f9c0a9 22.5px,#fbd5c5 26.5px,#f4eae7 28.5px,#e5eaf2 29.5px,#d6e4f2 34.5px,#cddff0 45.5px,#c2d8ed 49.5px,#9cc2e2 55.5px,#77add8 60.5px,#65a1d1 65.5px,#5797cc 76.5px,#468bc5 88.5px,#488cc6 101.5px,#5596cb 109.5px,#77aed8 119.5px,#94bee0 131.5px,#99c1e2 137.5px,#abcbe6 140.5px,#c6dbee 143.5px,#d4e3f2 147.5px,#d6e4f2 154.5px)"></i><i style="top:203px;background:linear-gradient(90deg,#f58366 0.5px,#f7a286 13.5px,#f9c0aa 22.5px,#fbd6c6 26.5px,#f2eae9 28.5px,#e5eaf2 29.5px,#d6e4f2 34.5px,#cedff0 45.5px,#bfd6ec 50.5px,#9fc4e3 55.5px,#79afd9 60.5px,#67a3d2 65.5px,#5a99cd 76.5px,#498dc6 87.5px,#498dc6 100.5px,#5797cc 108.5px,#7bb0da 119.5px,#94bee0 131.5px,#9ac1e2 137.5px,#accbe7 140.5px,#c7dbee 143.5px,#d4e3f2 147.5px,#d6e4f2 154.5px)"></i><i style="top:204px;background:linear-gradient(90deg,#f58467 0.5px,#f7a386 13.5px,#f9c1ab 22.5px,#fbd7c8 26.5px,#f0eaeb 28.5px,#e5eaf2 29.5px,#d6e4f2 34.5px,#cedff0 45.5px,#c1d7ed 50.5px,#a1c5e4 55.5px,#7cb1da 60.5px,#69a4d3 65.5px,#5c9bce 76.5px,#4b8fc7 86.5px,#4a8ec7 98.5px,#5898cc 107.5px,#7cb1da 118.5px,#95bee0 131.5px,#9ac2e2 137.5px,#adcce7 140.5px,#c7dbee 143.5px,#d4e3f2 147.5px,#d6e4f2 154.5px)"></i><i style="top:205px;background:linear-gradient(90deg,#f58568 0.5px,#f7a184 12.5px,#f9bda6 21.5px,#fbd0bf 25.5px,#fbd8c9 26.5px,#f7e2da 27.5px,#eeebed 28.5px,#e4eaf2 29.5px,#d6e4f2 34.5px,#cfe0f0 45.5px,#c2d8ed 50.5px,#9cc2e2 56.5px,#79afd9 61.5px,#6aa4d3 66.5px,#5f9dcf 76.5px,#4d90c8 85.5px,#4b8fc7 96.5px,#5797cc 105.5px,#80b3db 118.5px,#96bfe1 132.5px,#9bc2e2 137.5px,#b6d1ea 141.5px,#ccdef0 144.5px,#d5e3f2 148.5px,#d6e4f2 154.5px)"></i><i style="top:206px;background:linear-gradient(90deg,#f58669 0.5px,#f7a184 12.5px,#f9bea7 21.5px,#fbd1c0 25.5px,#fad9cb 26.5px,#f7e4dc 27.5px,#ebebef 28.5px,#e0e8f3 30.5px,#d6e4f2 34.5px,#cfe0f0 45.5px,#c4d9ee 50.5px,#9ec4e3 56.5px,#7bb0d9 61.5px,#6ca6d4 66.5px,#619ed0 76.5px,#4f91c8 85.5px,#4d90c8 96.5px,#5898cc 104.5px,#83b5dc 118.5px,#96bfe1 132.5px,#9bc2e2 137.5px,#b6d2ea 141.5px,#ccdef0 144.5px,#d5e3f2 148.5px,#d6e4f2 154.5px)"></i><i style="top:207px;background:linear-gradient(90deg,#f5876a 0.5px,#f7a285 12.5px,#f9bea8 21.5px,#fbd2c1 25.5px,#fadacd 26.5px,#f6e6df 27.5px,#e8ebf2 28.5px,#d7e4f2 33.5px,#cedff0 46.5px,#c0d7ed 51.5px,#a1c5e4 56.5px,#7db1da 61.5px,#6da7d4 66.5px,#63a0d0 76.5px,#5092c9 85.5px,#4d90c8 95.5px,#5999cd 103.5px,#85b6dc 117.5px,#96bfe1 132.5px,#9cc2e2 137.5px,#b7d2ea 141.5px,#ccdef0 144.5px,#d5e3f2 148.5px,#d6e4f2 154.5px)"></i><i style="top:208px;background:linear-gradient(90deg,#f5886b 0.5px,#f7a286 12.5px,#f9bfa8 21.5px,#fbd3c2 25.5px,#fadccf 26.5px,#f6e8e2 27.5px,#e6eaf2 28.5px,#d7e4f2 33.5px,#cfe0f0 46.5px,#c2d8ed 51.5px,#9bc2e2 57.5px,#7aafd9 62.5px,#6ea7d4 67.5px,#65a1d1 76.5px,#5193c9 85.5px,#4f91c8 95.5px,#5a99cd 102.5px,#86b6dd 116.5px,#96bfe1 132.5px,#9cc3e2 137.5px,#b7d2ea 141.5px,#cddef0 144.5px,#d5e3f2 148.5px,#d6e4f2 154.5px)"></i><i style="top:209px;background:linear-gradient(90deg,#f5896c 0.5px,#f7a387 12.5px,#f9c0a9 21.5px,#fbd4c4 25.5px,#f9ddd2 26.5px,#f5e9e5 27.5px,#e6eaf2 28.5px,#d6e4f2 33.5px,#cfe0f0 46.5px,#c3d9ed 51.5px,#9dc3e3 57.5px,#7cb1da 62.5px,#6fa8d5 67.5px,#67a2d2 76.5px,#5294ca 85.5px,#4f92c9 94.5px,#5a9acd 101.5px,#86b7dd 115.5px,#96bfe1 130.5px,#9ac1e2 136.5px,#a8c9e6 139.5px,#c8dcef 143.5px,#d4e3f2 147.5px,#d6e4f2 154.5px)"></i><i style="top:210px;background:linear-gradient(90deg,#f58a6d 0.5px,#f7a488 12.5px,#f9c1aa 21.5px,#fbd5c6 25.5px,#f3eae8 27.5px,#e5eaf2 28.5px,#d6e4f2 33.5px,#d0e0f1 46.5px,#c4daee 51.5px,#a0c5e3 57.5px,#7db2da 62.5px,#70a9d6 67.5px,#69a4d3 76.5px,#5294ca 86.5px,#5193c9 95.5px,#5d9cce 101.5px,#87b7dd 114.5px,#94bee0 126.5px,#9ac1e2 136.5px,#a8c9e6 139.5px,#c8dcef 143.5px,#d4e3f2 147.5px,#d6e4f2 154.5px)"></i><i style="top:211px;background:linear-gradient(90deg,#f58b6e 0.5px,#f7a285 11.5px,#f9bda6 20.5px,#fad0be 24.5px,#fbd7c8 25.5px,#f1eaea 27.5px,#e5eaf2 28.5px,#d6e4f2 33.5px,#d0e0f1 46.5px,#c1d8ed 52.5px,#9ac1e2 58.5px,#7bb0da 63.5px,#71a9d6 68.5px,#6aa5d3 76.5px,#5294ca 86.5px,#5294ca 95.5px,#63a0d0 102.5px,#87b7dd 113.5px,#93bee0 123.5px,#9ac1e2 136.5px,#a8c9e6 139.5px,#c8dcef 143.5px,#d5e3f2 147.5px,#d6e4f2 154.5px)"></i><i style="top:212px;background:linear-gradient(90deg,#f58c6f 0.5px,#f7a386 11.5px,#f9bea7 20.5px,#fbd1c0 24.5px,#fbd8ca 25.5px,#f7e3db 26.5px,#eeebed 27.5px,#e4eaf2 28.5px,#d6e4f2 33.5px,#d1e1f1 46.5px,#c2d8ed 52.5px,#9cc3e2 58.5px,#7cb1da 63.5px,#72aad6 68.5px,#6ca6d4 76.5px,#5395ca 86.5px,#5294ca 94.5px,#5f9dcf 100.5px,#89b8dd 113.5px,#94bee0 123.5px,#9ac1e2 136.5px,#a8c9e6 139.5px,#c8dcef 143.5px,#d5e3f2 147.5px,#d6e4f2 154.5px)"></i><i style="top:213px;background:linear-gradient(90deg,#f58d70 0.5px,#f7a487 11.5px,#f9bfa8 20.5px,#fbd2c1 24.5px,#fadacd 25.5px,#f7e5de 26.5px,#eaebf0 27.5px,#dde7f3 30.5px,#d6e4f2 34.5px,#cfe0f0 47.5px,#c3d9ee 52.5px,#9ec4e3 58.5px,#7eb2da 63.5px,#73abd7 68.5px,#6da7d4 76.5px,#5394ca 87.5px,#5495cb 95.5px,#6fa8d5 104.5px,#8bb9de 113.5px,#95bfe1 124.5px,#9ac2e2 136.5px,#a9c9e6 139.5px,#c8dcef 143.5px,#d5e3f2 147.5px,#d6e4f2 154.5px)"></i><i style="top:214px;background:linear-gradient(90deg,#f58e71 0.5px,#f7a488 11.5px,#f9c0a9 20.5px,#fbd3c3 24.5px,#fadccf 25.5px,#f6e7e2 26.5px,#e6eaf2 27.5px,#d6e4f2 33.5px,#d0e0f1 47.5px,#c5daee 52.5px,#a0c5e3 58.5px,#80b3db 63.5px,#74acd7 68.5px,#6ea7d5 76.5px,#5395ca 87.5px,#5596cb 95.5px,#79afd9 106.5px,#8fbbdf 114.5px,#97c0e1 130.5px,#9ac2e2 136.5px,#a9cae6 139.5px,#c8dcef 143.5px,#d5e3f2 147.5px,#d6e4f2 154.5px)"></i><i style="top:215px;background:linear-gradient(90deg,#f59072 0.5px,#f7a589 11.5px,#f9c1ab 20.5px,#fbd5c5 24.5px,#f9ded3 25.5px,#f5eae5 26.5px,#e6eaf2 27.5px,#d6e4f2 33.5px,#d0e0f1 47.5px,#c1d8ed 53.5px,#9ac2e2 59.5px,#7db1da 64.5px,#75acd7 69.5px,#6da7d4 77.5px,#5495cb 87.5px,#5596cb 94.5px,#6ca6d4 102.5px,#8dbade 112.5px,#96bfe1 123.5px,#9ac2e2 136.5px,#a9cae6 139.5px,#c9dcef 143.5px,#d5e3f2 147.5px,#d6e4f2 154.5px)"></i><i style="top:216px;background:linear-gradient(90deg,#f69173 0.5px,#f7a68a 11.5px,#f9bea7 19.5px,#fad0be 23.5px,#fbd6c7 24.5px,#f2eae8 26.5px,#e5eaf2 27.5px,#d6e4f2 32.5px,#d1e1f1 47.5px,#c2d8ed 53.5px,#95bfe1 60.5px,#7eb2db 64.5px,#75acd7 69.5px,#6ea7d5 77.5px,#5596cb 87.5px,#5697cb 94.5px,#72aad6 103.5px,#8ebbdf 112.5px,#96bfe1 123.5px,#9ac2e2 136.5px,#a9cae6 139.5px,#c9dcef 143.5px,#d5e3f2 147.5px,#d6e4f2 154.5px)"></i><i style="top:217px;background:linear-gradient(90deg,#f69274 0.5px,#f7a78b 11.5px,#f9bfa8 19.5px,#fbd1c0 23.5px,#fbd8ca 24.5px,#f7e2da 25.5px,#efeaeb 26.5px,#e5eaf2 27.5px,#d6e4f2 32.5px,#d1e1f1 47.5px,#c3d9ed 53.5px,#9ec4e3 59.5px,#80b3db 64.5px,#76add8 69.5px,#6fa8d5 77.5px,#5696cb 87.5px,#5697cb 93.5px,#6da6d4 101.5px,#8dbadf 111.5px,#96bfe1 121.5px,#9ac2e2 136.5px,#a9cae6 139.5px,#c9dcef 143.5px,#d5e3f2 147.5px,#d6e4f2 154.5px)"></i><i style="top:218px;background:linear-gradient(90deg,#f69375 0.5px,#f7a88c 11.5px,#f9c0a9 19.5px,#fbd2c1 23.5px,#fadacd 24.5px,#f7e5de 25.5px,#ebebef 26.5px,#e1e8f3 28.5px,#d6e4f2 32.5px,#d1e1f1 47.5px,#c4daee 53.5px,#98c1e1 60.5px,#81b4db 64.5px,#77aed8 69.5px,#70a9d6 77.5px,#5797cc 87.5px,#5797cc 93.5px,#6fa8d5 101.5px,#8cbade 110.5px,#96bfe1 120.5px,#9ac2e2 136.5px,#a9cae6 139.5px,#c9dcef 143.5px,#d5e3f2 147.5px,#d6e4f2 154.5px)"></i><i style="top:219px;background:linear-gradient(90deg,#f69477 0.5px,#f7a98d 11.5px,#f9c1ab 19.5px,#fbd4c3 23.5px,#f9dcd0 24.5px,#f6e7e2 25.5px,#e7eaf2 26.5px,#d6e4f2 32.5px,#d1e1f1 47.5px,#c5daee 53.5px,#9ac2e2 60.5px,#7fb2db 65.5px,#77aed8 71.5px,#6fa8d5 78.5px,#5898cc 87.5px,#5998cc 93.5px,#75acd7 102.5px,#8ebbdf 110.5px,#96bfe1 120.5px,#9ac2e2 136.5px,#a9cae6 139.5px,#c9dcef 143.5px,#d5e3f2 147.5px,#d6e4f2 154.5px)"></i><i style="top:220px;background:linear-gradient(90deg,#f69678 0.5px,#f7aa8e 11.5px,#f9c2ac 19.5px,#fbd5c6 23.5px,#f5eae6 25.5px,#e6eaf2 26.5px,#d6e4f2 32.5px,#d2e1f1 47.5px,#c6daee 53.5px,#9cc3e2 60.5px,#80b3db 65.5px,#78aed9 71.5px,#70a9d5 78.5px,#5898cc 88.5px,#5c9bce 94.5px,#8dbade 109.5px,#96bfe1 119.5px,#9ac2e2 136.5px,#a9cae6 139.5px,#c9dcef 143.5px,#d5e3f2 147.5px,#d6e4f2 154.5px)"></i><i style="top:221px;background:linear-gradient(90deg,#f69779 0.5px,#f8ab90 11.5px,#fac3ae 19.5px,#fbd1bf 22.5px,#fbd8c9 23.5px,#f1eae9 25.5px,#e5eaf2 26.5px,#d6e4f2 32.5px,#d1e1f1 48.5px,#c2d8ed 54.5px,#85b6dc 64.5px,#7aafd9 69.5px,#73abd7 77.5px,#5999cd 88.5px,#5e9cce 94.5px,#8ebbdf 109.5px,#97c0e1 119.5px,#9ac2e2 136.5px,#a9cae6 139.5px,#c9dcef 143.5px,#d5e3f2 147.5px,#d6e4f2 154.5px)"></i><i style="top:222px;background:linear-gradient(90deg,#f6987a 0.5px,#f8ac91 11.5px,#f9c0aa 18.5px,#fbd2c1 22.5px,#fadacc 23.5px,#f7e4dc 24.5px,#edebed 25.5px,#e4eaf2 26.5px,#d6e4f2 31.5px,#d1e1f1 48.5px,#c3d9ee 54.5px,#87b7dd 64.5px,#7ab0d9 69.5px,#74acd7 77.5px,#5a9acd 88.5px,#5f9dcf 94.5px,#8dbade 108.5px,#96bfe1 117.5px,#9bc2e2 136.5px,#a9cae6 139.5px,#c9dcef 143.5px,#d5e3f2 147.5px,#d6e4f2 154.5px)"></i><i style="top:223px;background:linear-gradient(90deg,#f6997b 0.5px,#f8ad92 11.5px,#f9c1ac 18.5px,#fbd4c4 22.5px,#f6e7e1 24.5px,#e8ebf2 25.5px,#d6e4f2 31.5px,#d1e1f1 48.5px,#c4daee 54.5px,#84b5dc 65.5px,#7bb0d9 70.5px,#73abd7 78.5px,#5c9bce 88.5px,#619ed0 94.5px,#8ebbdf 108.5px,#97c0e1 118.5px,#9bc2e2 136.5px,#a9cae6 139.5px,#c9dcef 143.5px,#d5e3f2 147.5px,#d6e4f2 154.5px)"></i><i style="top:224px;background:linear-gradient(90deg,#f69b7d 0.5px,#f8ae93 11.5px,#fac3ad 18.5px,#fbd6c6 22.5px,#f5eae6 24.5px,#e6eaf2 25.5px,#d6e4f2 31.5px,#d2e1f1 48.5px,#c5daee 54.5px,#85b6dc 65.5px,#7bb1da 70.5px,#75acd7 78.5px,#5e9cce 88.5px,#63a0d0 94.5px,#8fbbdf 108.5px,#97c0e1 119.5px,#9bc2e2 136.5px,#a9cae6 139.5px,#c9dcef 143.5px,#d5e3f2 147.5px,#d6e4f2 154.5px)"></i><i style="top:225px;background:linear-gradient(90deg,#f69c7e 0.5px,#f8af95 11.5px,#fac4af 18.5px,#fbd1c0 21.5px,#fbd8ca 22.5px,#f1eae9 24.5px,#e5eaf2 25.5px,#d6e4f2 31.5px,#d2e1f1 48.5px,#c6dbee 54.5px,#96bfe1 62.5px,#83b5dc 66.5px,#7bb1da 72.5px,#73abd7 79.5px,#5f9dcf 88.5px,#65a1d1 94.5px,#8ebbdf 107.5px,#97c0e1 117.5px,#9bc2e2 136.5px,#a9cae6 139.5px,#c9dcef 143.5px,#d5e3f2 147.5px,#d6e4f2 154.5px)"></i><i style="top:226px;background:linear-gradient(90deg,#f69d80 0.5px,#f8b096 11.5px,#fac5b0 18.5px,#fbd3c2 21.5px,#f7e4dd 23.5px,#edebee 24.5px,#e4eaf2 25.5px,#d6e4f2 30.5px,#d2e1f1 48.5px,#c3d9ed 55.5px,#88b7dd 65.5px,#7db1da 70.5px,#77add8 78.5px,#619fd0 88.5px,#68a3d2 94.5px,#8fbbdf 107.5px,#97c0e1 118.5px,#9bc2e2 136.5px,#a9cae6 139.5px,#c9dcef 143.5px,#d5e3f2 147.5px,#d6e4f2 154.5px)"></i><i style="top:227px;background:linear-gradient(90deg,#f69e81 0.5px,#f8b197 11.5px,#fac7b2 18.5px,#fbd5c5 21.5px,#f6e8e3 23.5px,#e7ebf2 24.5px,#d6e4f2 30.5px,#d2e2f1 48.5px,#c4d9ee 55.5px,#89b8dd 65.5px,#7eb2da 70.5px,#76add8 79.5px,#64a0d1 88.5px,#6aa4d3 94.5px,#90bcdf 107.5px,#97c0e1 119.5px,#9bc2e2 136.5px,#a9cae6 139.5px,#c9dcef 143.5px,#d5e3f2 147.5px,#d6e4f2 154.5px)"></i><i style="top:228px;background:linear-gradient(90deg,#f69f82 0.5px,#f8b299 11.5px,#fac8b4 18.5px,#fbd7c9 21.5px,#f3eae7 23.5px,#e6eaf2 24.5px,#d6e4f2 30.5px,#d2e2f1 48.5px,#c4daee 55.5px,#8ab9de 65.5px,#7eb2db 70.5px,#77aed8 79.5px,#66a2d2 88.5px,#6ca6d4 94.5px,#90bcdf 107.5px,#97c0e1 120.5px,#9bc2e2 136.5px,#a9cae6 139.5px,#c9dcef 143.5px,#d5e3f2 147.5px,#d6e4f2 154.5px)"></i><i style="top:229px;background:linear-gradient(90deg,#f7a184 0.5px,#f8b39a 11.5px,#fac9b6 18.5px,#fbd3c2 20.5px,#f7e3dc 22.5px,#efeaec 23.5px,#e5eaf2 24.5px,#d6e4f2 30.5px,#d1e1f1 49.5px,#c5daee 55.5px,#87b7dd 66.5px,#7fb3db 71.5px,#79afd9 79.5px,#69a4d3 88.5px,#6fa8d5 94.5px,#90bcdf 106.5px,#97c0e1 118.5px,#9bc2e2 136.5px,#a9cae6 139.5px,#c9dcef 143.5px,#d5e3f2 147.5px,#d6e4f2 154.5px)"></i><i style="top:230px;background:linear-gradient(90deg,#f7a285 0.5px,#f8b59c 11.5px,#facbb8 18.5px,#fbd5c5 20.5px,#f6e7e1 22.5px,#eaebf1 23.5px,#d6e4f2 29.5px,#d2e1f1 49.5px,#c6daee 55.5px,#89b8dd 66.5px,#80b3db 71.5px,#78afd9 80.5px,#6ba5d4 88.5px,#71aad6 94.5px,#91bcdf 106.5px,#97c0e1 119.5px,#9bc2e2 136.5px,#a9cae6 139.5px,#c9dcef 143.5px,#d5e3f2 147.5px,#d6e4f2 154.5px)"></i><i style="top:231px;background:linear-gradient(90deg,#f7a387 0.5px,#f9b69d 11.5px,#faccba 18.5px,#fbd7c9 20.5px,#f4eae7 22.5px,#e6eaf2 23.5px,#d6e4f2 29.5px,#d2e1f1 49.5px,#c2d8ed 56.5px,#8ab9de 66.5px,#80b3db 71.5px,#7ab0d9 80.5px,#6ea7d5 89.5px,#79afd9 96.5px,#91bde0 106.5px,#97c0e1 121.5px,#9bc2e2 136.5px,#a9cae6 139.5px,#c9dcef 143.5px,#d5e3f2 147.5px,#d6e4f2 154.5px)"></i><i style="top:232px;background:linear-gradient(90deg,#f7a588 0.5px,#f9b79f 11.5px,#facebc 18.5px,#fadacd 20.5px,#f0eaeb 22.5px,#e5eaf2 23.5px,#d6e4f2 29.5px,#d2e1f1 49.5px,#c3d9ee 56.5px,#8bb9de 66.5px,#81b4db 71.5px,#7cb1da 80.5px,#71a9d6 89.5px,#7cb1da 96.5px,#92bde0 106.5px,#97c0e1 123.5px,#9bc2e2 136.5px,#a9cae6 139.5px,#c9dcef 143.5px,#d5e3f2 147.5px,#d6e4f2 154.5px)"></i><i style="top:233px;background:linear-gradient(90deg,#f7a68a 0.5px,#f9b9a0 11.5px,#fad0bf 18.5px,#f9ddd2 20.5px,#f6e7e1 21.5px,#eaebf0 22.5px,#d9e5f3 27.5px,#d1e1f1 50.5px,#c4daee 56.5px,#8cbade 66.5px,#82b4dc 71.5px,#7cb1da 81.5px,#74abd7 89.5px,#81b4db 97.5px,#94bee0 107.5px,#9bc2e2 136.5px,#a9cae6 139.5px,#c9dcef 143.5px,#d5e3f2 147.5px,#d6e4f2 154.5px)"></i><i style="top:234px;background:linear-gradient(90deg,#f7a78c 0.5px,#f9baa2 11.5px,#fbd2c1 18.5px,#f8e1d7 20.5px,#f4eae7 21.5px,#e6eaf2 22.5px,#d6e4f2 28.5px,#d2e2f1 49.5px,#c5daee 56.5px,#8ab8de 67.5px,#82b4dc 72.5px,#7db2da 82.5px,#77aed8 90.5px,#94bee0 107.5px,#9bc2e2 136.5px,#a9cae6 139.5px,#c9dcef 143.5px,#d5e3f2 147.5px,#d6e4f2 154.5px)"></i><i style="top:235px;background:linear-gradient(90deg,#f7a98d 0.5px,#f9bba4 11.5px,#facfbe 17.5px,#fadbcf 19.5px,#f7e4dd 20.5px,#efeaec 21.5px,#e5eaf2 22.5px,#d6e4f2 28.5px,#d3e2f1 49.5px,#c6daee 56.5px,#8bb9de 67.5px,#83b5dc 72.5px,#7fb3db 82.5px,#7bb0d9 90.5px,#95bee0 107.5px,#9bc2e2 136.5px,#a9cae6 139.5px,#c9dcef 143.5px,#d5e3f2 147.5px,#d6e4f2 154.5px)"></i><i style="top:236px;background:linear-gradient(90deg,#f7aa8f 0.5px,#f9baa2 10.5px,#fbd1c0 17.5px,#f9dfd4 19.5px,#f6e8e3 20.5px,#e8ebf2 21.5px,#d6e4f2 28.5px,#d2e1f1 50.5px,#c2d8ed 57.5px,#8cbade 67.5px,#84b5dc 72.5px,#81b3db 83.5px,#7eb2db 91.5px,#95bfe1 107.5px,#9ac2e2 136.5px,#a9cae6 139.5px,#c9dcef 143.5px,#d5e3f2 147.5px,#d6e4f2 154.5px)"></i><i style="top:237px;background:linear-gradient(90deg,#f8ab91 0.5px,#f9bca4 10.5px,#facfbd 16.5px,#fadacd 18.5px,#f2eae9 20.5px,#e6eaf2 21.5px,#d6e4f2 28.5px,#d2e1f1 50.5px,#c3d9ed 57.5px,#8dbade 67.5px,#84b6dc 72.5px,#82b4dc 84.5px,#82b4dc 92.5px,#95bfe1 107.5px,#9ac2e2 136.5px,#a9cae6 139.5px,#c9dcef 143.5px,#d5e3f2 147.5px,#d6e4f2 154.5px)"></i><i style="top:238px;background:linear-gradient(90deg,#f8ad92 0.5px,#f9bda6 10.5px,#fbd1c0 16.5px,#f9ddd2 18.5px,#f6e6e0 19.5px,#ecebee 20.5px,#e2e9f2 22.5px,#d6e4f2 27.5px,#d2e1f1 50.5px,#c3d9ee 57.5px,#8ebbdf 67.5px,#85b6dc 72.5px,#85b6dc 92.5px,#96bfe1 108.5px,#9ac2e2 136.5px,#a9cae6 139.5px,#c9dcef 143.5px,#d5e3f2 147.5px,#d6e4f2 154.5px)"></i><i style="top:239px;background:linear-gradient(90deg,#f8ae94 0.5px,#f9bfa8 10.5px,#fbd3c2 16.5px,#f8e1d8 18.5px,#f4eae7 19.5px,#e6eaf2 20.5px,#d6e4f2 27.5px,#d2e1f1 50.5px,#c4d9ee 57.5px,#8fbbdf 67.5px,#86b6dd 72.5px,#88b8dd 93.5px,#96bfe1 109.5px,#9ac2e2 136.5px,#a9cae6 139.5px,#c9dcef 143.5px,#d5e3f2 147.5px,#d6e4f2 154.5px)"></i><i style="top:240px;background:linear-gradient(90deg,#f8b096 0.5px,#f9bea7 9.5px,#fbd1c0 15.5px,#f9ddd1 17.5px,#f7e5de 18.5px,#efeaec 19.5px,#e5eaf2 20.5px,#d6e4f2 27.5px,#d2e1f1 50.5px,#c4daee 57.5px,#8fbcdf 67.5px,#86b7dd 72.5px,#8cbade 95.5px,#96bfe1 111.5px,#9ac2e2 136.5px,#a9cae6 139.5px,#c9dcef 143.5px,#d5e3f2 147.5px,#d6e4f2 154.5px)"></i><i style="top:241px;background:linear-gradient(90deg,#f8b198 0.5px,#f9c0aa 9.5px,#fbd3c3 15.5px,#f8e0d7 17.5px,#f5eae5 18.5px,#e7ebf2 19.5px,#d6e4f2 26.5px,#d2e1f1 50.5px,#c5daee 57.5px,#8dbade 68.5px,#86b7dd 73.5px,#90bcdf 97.5px,#96bfe1 116.5px,#9ac2e2 136.5px,#a9cae6 139.5px,#c9dcef 143.5px,#d5e3f2 147.5px,#d6e4f2 154.5px)"></i><i style="top:242px;background:linear-gradient(90deg,#f8b399 0.5px,#f9c2ac 9.5px,#fbd1c0 14.5px,#f9dcd1 16.5px,#f0eaeb 18.5px,#e6eaf2 19.5px,#d6e4f2 26.5px,#d2e1f1 50.5px,#c5daee 57.5px,#8dbade 68.5px,#87b7dd 73.5px,#95bfe1 114.5px,#9ac2e2 136.5px,#a9cae6 139.5px,#c8dcef 143.5px,#d5e3f2 147.5px,#d6e4f2 154.5px)"></i><i style="top:243px;background:linear-gradient(90deg,#f8b49b 0.5px,#f9c1ab 8.5px,#fbd3c3 14.5px,#f8e0d7 16.5px,#f5e9e5 17.5px,#e9ebf1 18.5px,#d6e4f2 25.5px,#d2e1f1 50.5px,#c5daee 57.5px,#8dbbdf 68.5px,#87b7dd 73.5px,#95bfe1 114.5px,#9ac2e2 136.5px,#a9cae6 139.5px,#c8dcef 143.5px,#d5e3f2 147.5px,#d6e4f2 154.5px)"></i><i style="top:244px;background:linear-gradient(90deg,#f9b69d 0.5px,#fac3ad 8.5px,#fbd2c1 13.5px,#f9ddd1 15.5px,#f0eaeb 17.5px,#e6eaf2 18.5px,#d6e4f2 25.5px,#d1e1f1 50.5px,#c5daee 57.5px,#8ebbdf 68.5px,#87b7dd 73.5px,#94bee0 109.5px,#98c1e1 135.5px,#a2c6e4 138.5px,#c8dcef 143.5px,#d5e3f2 147.5px,#d6e4f2 154.5px)"></i><i style="top:245px;background:linear-gradient(90deg,#f9b89f 0.5px,#fac7b3 9.5px,#fbd4c4 13.5px,#f8e1d8 15.5px,#f5eae5 16.5px,#e9ebf1 17.5px,#d6e4f2 24.5px,#d1e1f1 50.5px,#c4d9ee 57.5px,#8dbbdf 68.5px,#86b7dd 73.5px,#92bde0 102.5px,#98c1e1 135.5px,#a2c6e4 138.5px,#c8dcef 143.5px,#d5e3f2 147.5px,#d6e4f2 154.5px)"></i><i style="top:246px;background:linear-gradient(90deg,#f9b9a1 0.5px,#fac9b6 9.5px,#fbd8c9 13.5px,#f6e6df 15.5px,#efeaeb 16.5px,#e6eaf2 17.5px,#d6e4f2 24.5px,#d0e0f1 50.5px,#c3d9ed 57.5px,#8dbade 68.5px,#86b6dd 73.5px,#90bcdf 96.5px,#97c0e1 132.5px,#9dc3e3 137.5px,#b8d2ea 141.5px,#cddef0 144.5px,#d5e3f2 148.5px,#d6e4f2 154.5px)"></i><i style="top:247px;background:linear-gradient(90deg,#f9bba3 0.5px,#facbb9 9.5px,#fbd6c6 12.5px,#f4eae7 15.5px,#e7ebf2 16.5px,#d5e3f2 24.5px,#cfe0f0 50.5px,#c2d8ed 57.5px,#8cbade 68.5px,#85b6dc 73.5px,#8fbbdf 94.5px,#94bee0 127.5px,#9ac1e2 136.5px,#a8c9e6 139.5px,#c8dcef 143.5px,#d4e3f2 147.5px,#d6e4f2 154.5px)"></i><i style="top:248px;background:linear-gradient(90deg,#f9bda6 0.5px,#facbb8 8.5px,#fbd4c4 11.5px,#f6e7e2 14.5px,#eeebed 15.5px,#e5eaf2 16.5px,#d5e3f2 24.5px,#cedff0 50.5px,#c4d9ee 56.5px,#8ab9de 68.5px,#83b5dc 73.5px,#8dbade 93.5px,#92bde0 126.5px,#99c1e2 136.5px,#a8c9e5 139.5px,#c8dbef 143.5px,#d4e3f2 147.5px,#d6e3f2 154.5px)"></i><i style="top:249px;background:linear-gradient(90deg,#f9bfa8 0.5px,#facdbb 8.5px,#fbd8c9 11.5px,#f2eae9 14.5px,#e6eaf2 15.5px,#d5e3f2 23.5px,#cddff0 49.5px,#c1d8ed 56.5px,#9ac1e2 64.5px,#85b6dc 69.5px,#82b4db 75.5px,#8bb9de 92.5px,#8fbcdf 125.5px,#9cc2e2 137.5px,#b6d2ea 141.5px,#ccdef0 144.5px,#d5e3f2 148.5px,#d5e3f2 154.5px)"></i><i style="top:250px;background:linear-gradient(90deg,#f9c1ab 0.5px,#facfbe 8.5px,#f9dcd0 11.5px,#f5eae6 13.5px,#ebebf0 14.5px,#e0e8f3 17.5px,#d4e3f2 23.5px,#cbdeef 49.5px,#c1d8ed 55.5px,#9cc3e2 63.5px,#85b6dc 68.5px,#7eb2da 73.5px,#88b8dd 92.5px,#8cbade 124.5px,#9bc2e2 137.5px,#b5d1e9 141.5px,#c6dbee 143.5px,#d3e2f1 147.5px,#d4e3f2 154.5px)"></i><i style="top:251px;background:linear-gradient(90deg,#fac3ad 0.5px,#fbd2c1 8.5px,#f8e0d7 11.5px,#f6e7e2 12.5px,#e5eaf2 14.5px,#d3e2f1 22.5px,#caddef 48.5px,#bfd7ec 54.5px,#a3c6e4 61.5px,#84b5dc 67.5px,#7ab0d9 72.5px,#84b6dc 94.5px,#88b8dd 124.5px,#95bee0 133.5px,#9ac1e2 137.5px,#b3d0e9 141.5px,#c5daee 143.5px,#d1e1f1 147.5px,#d2e2f1 154.5px)"></i><i style="top:252px;background:linear-gradient(90deg,#fac5b0 0.5px,#fbd2c1 7.5px,#f8dfd5 10.5px,#f1eae9 12.5px,#e6eaf2 13.5px,#d2e2f1 22.5px,#c8dbef 47.5px,#bad4eb 54.5px,#a2c6e4 60.5px,#7eb2db 67.5px,#75acd7 72.5px,#7fb3db 94.5px,#82b4dc 123.5px,#92bde0 132.5px,#98c0e1 137.5px,#b0cee8 141.5px,#c7dbee 144.5px,#cfe0f0 148.5px,#cfe0f0 154.5px)"></i><i style="top:253px;background:linear-gradient(90deg,#fac7b3 0.5px,#fbd5c5 7.5px,#f7e4dd 10.5px,#f3eae8 11.5px,#e9ebf1 12.5px,#d1e1f1 21.5px,#c6daee 45.5px,#b3cfe9 54.5px,#99c1e2 60.5px,#77aed8 67.5px,#6fa8d5 73.5px,#79afd9 92.5px,#7cb1da 123.5px,#8fbbdf 132.5px,#94bee0 137.5px,#a4c7e4 140.5px,#c6dbee 145.5px,#caddef 151.5px,#c9dcef 154.5px)"></i><i style="top:254px;background:linear-gradient(90deg,#fac9b6 0.5px,#fbd5c6 6.5px,#f7e3dc 9.5px,#f5eae6 10.5px,#e5eaf2 12.5px,#d0e0f1 21.5px,#c4d9ee 42.5px,#adcce7 53.5px,#94bee0 59.5px,#72aad6 66.5px,#68a3d2 72.5px,#72aad6 92.5px,#73abd7 123.5px,#87b7dd 132.5px,#8ebbdf 138.5px,#b9d3ea 145.5px,#bfd6ec 149.5px,#bbd4eb 154.5px)"></i><i style="top:255px;background:linear-gradient(90deg,#faccb9 0.5px,#fbd6c6 5.5px,#f7e3db 8.5px,#f5e9e5 9.5px,#e5eaf2 11.5px,#cedff0 20.5px,#c3d9ed 38.5px,#a6c8e5 52.5px,#69a4d3 66.5px,#5f9dcf 72.5px,#66a2d2 92.5px,#67a2d2 123.5px,#78aed9 132.5px,#7eb2da 138.5px,#92bde0 142.5px,#a5c8e5 146.5px,#a4c7e5 152.5px,#a1c5e4 154.5px)"></i><i style="top:256px;background:linear-gradient(90deg,#facebd 0.5px,#fbd7c7 4.5px,#f7e3db 7.5px,#f5e9e5 8.5px,#e5eaf2 10.5px,#cbdef0 20.5px,#c0d7ec 35.5px,#a2c6e4 49.5px,#68a3d2 63.5px,#5798cc 69.5px,#5999cd 123.5px,#67a3d2 132.5px,#6da7d4 139.5px,#84b5dc 146.5px,#7fb3db 153.5px,#7db1da 154.5px)"></i><i style="top:257px;background:linear-gradient(90deg,#fbd1c0 0.5px,#fadbce 4.5px,#f5eae6 7.5px,#e5eaf2 9.5px,#c9dcef 19.5px,#bed6ec 31.5px,#a0c5e3 45.5px,#6aa5d3 59.5px,#5294ca 66.5px,#4d90c8 75.5px,#5092c9 125.5px,#5c9bce 140.5px,#66a2d2 147.5px,#5f9dcf 154.5px)"></i><i style="top:258px;background:linear-gradient(90deg,#fbd4c5 0.5px,#f8e1d7 4.5px,#f4eae7 6.5px,#e5eaf2 8.5px,#c6dbee 18.5px,#b1cfe8 33.5px,#99c1e2 42.5px,#629fd0 57.5px,#4c90c7 64.5px,#458ac4 72.5px,#4a8ec6 127.5px,#5092c9 149.5px,#4c8fc7 154.5px)"></i><i style="top:259px;background:linear-gradient(90deg,#fad9cc 0.5px,#f2eae9 5.5px,#e4eaf2 7.5px,#d2e1f1 13.5px,#bfd7ec 19.5px,#a6c8e5 33.5px,#67a3d2 51.5px,#4d90c8 59.5px,#3e85c1 68.5px,#4288c3 113.5px,#458ac4 151.5px,#4389c4 154.5px)"></i><i style="top:260px;background:linear-gradient(90deg,#f8dfd5 0.5px,#f5eae6 3.5px,#e9ebf1 5.5px,#e1e8f3 7.5px,#ccdef0 13.5px,#b9d3eb 18.5px,#a1c5e4 30.5px,#64a0d1 47.5px,#4b8ec7 55.5px,#3a82c0 64.5px,#4086c2 112.5px,#3f86c2 154.5px)"></i><i style="top:261px;background:linear-gradient(90deg,#f6e6e0 0.5px,#ebebef 3.5px,#dfe8f3 6.5px,#caddef 12.5px,#b3cfe9 17.5px,#9bc2e2 27.5px,#619ecf 43.5px,#458ac5 52.5px,#3981bf 59.5px,#3b83c0 77.5px,#4086c2 117.5px,#3e85c2 154.5px)"></i><i style="top:262px;background:linear-gradient(90deg,#efeaeb 0.5px,#e3e9f2 3.5px,#d1e1f1 9.5px,#accbe7 16.5px,#84b5dc 29.5px,#4e90c8 44.5px,#3880bf 53.5px,#377fbe 68.5px,#3f86c2 92.5px,#3e85c2 154.5px)"></i><i style="top:263px;background:linear-gradient(90deg,#e6eaf2 0.5px,#cedff0 8.5px,#bdd5ec 11.5px,#a4c7e4 15.5px,#68a3d2 32.5px,#498dc6 41.5px,#3880bf 48.5px,#347cbc 59.5px,#3e85c2 86.5px,#3981bf 120.5px,#3981bf 154.5px)"></i><i style="top:264px;background:linear-gradient(90deg,#dde7f3 0.5px,#cedff0 6.5px,#bfd7ec 9.5px,#9ac1e2 14.5px,#5b9acd 31.5px,#3981bf 43.5px,#327aba 55.5px,#3c84c1 78.5px,#327aba 109.5px,#327aba 154.5px)"></i><i style="top:265px;background:linear-gradient(90deg,#d7e4f2 0.5px,#c6dbee 6.5px,#8fbcdf 13.5px,#4d90c8 31.5px,#3880bf 39.5px,#3078b9 51.5px,#3c83c1 72.5px,#2f77b8 89.5px,#2971b3 110.5px,#2970b3 154.5px)"></i><i style="top:266px;background:linear-gradient(90deg,#cedff0 0.5px,#c4d9ee 4.5px,#9fc4e3 9.5px,#84b5dc 12.5px,#4f92c9 26.5px,#3880bf 35.5px,#2f77b8 47.5px,#3b83c0 67.5px,#2d75b7 79.5px,#276db1 88.5px,#2166ac 107.5px,#2166ab 154.5px)"></i><i style="top:267px;background:linear-gradient(90deg,#c5daee 0.5px,#adcce7 5.5px,#78aed9 11.5px,#4f92c9 22.5px,#3880bf 31.5px,#2e76b7 44.5px,#3a82c0 63.5px,#2b73b5 75.5px,#2165ab 82.5px,#1962a7 110.5px,#1962a7 154.5px)"></i><i style="top:268px;background:linear-gradient(90deg,#b3d0e9 0.5px,#a0c5e3 4.5px,#6da6d4 10.5px,#4c8fc7 19.5px,#3880bf 27.5px,#2d75b6 41.5px,#3a82c0 59.5px,#286fb2 72.5px,#1d64a9 79.5px,#1660a5 90.5px,#145fa3 154.5px)"></i><i style="top:269px;background:linear-gradient(90deg,#9fc4e3 0.5px,#87b7dd 4.5px,#609ecf 9.5px,#4489c4 18.5px,#377fbe 24.5px,#2c74b6 37.5px,#3981c0 57.5px,#1e64aa 73.5px,#145ea3 83.5px,#135da2 154.5px)"></i><i style="top:270px;background:linear-gradient(90deg,#84b5dc 0.5px,#67a3d2 5.5px,#5395ca 8.5px,#3880bf 19.5px,#2c74b6 33.5px,#357dbc 46.5px,#3981bf 54.5px,#2a71b4 61.5px,#1e64aa 68.5px,#145ea3 78.5px,#135da2 154.5px)"></i><i style="top:271px;background:linear-gradient(90deg,#6aa5d3 0.5px,#478bc5 8.5px,#367ebd 17.5px,#2b73b5 30.5px,#3981bf 51.5px,#2a72b4 58.5px,#2065ab 62.5px,#145ea3 73.5px,#135da2 154.5px)"></i><i style="top:272px;background:linear-gradient(90deg,#5294ca 0.5px,#3a82c0 9.5px,#2b73b5 26.5px,#367ebd 42.5px,#3880bf 49.5px,#286eb2 56.5px,#1d64a9 60.5px,#145ea3 67.5px,#135da2 154.5px)"></i><i style="top:273px;background:linear-gradient(90deg,#4187c3 0.5px,#377fbe 7.5px,#2a72b4 24.5px,#3981c0 45.5px,#2b73b5 52.5px,#1d64a9 57.5px,#145ea3 63.5px,#135da2 154.5px)"></i><i style="top:274px;background:linear-gradient(90deg,#367ebd 0.5px,#2a72b4 22.5px,#3981c0 42.5px,#2b73b5 49.5px,#1d64a9 54.5px,#135ea2 60.5px,#135da2 154.5px)"></i><i style="top:275px;background:linear-gradient(90deg,#3078b9 0.5px,#2b73b5 21.5px,#3981c0 38.5px,#3179ba 44.5px,#1e64aa 51.5px,#135ea2 57.5px,#135da2 154.5px)"></i><i style="top:276px;background:linear-gradient(90deg,#2b73b5 0.5px,#2e76b7 21.5px,#3981c0 35.5px,#2f77b8 42.5px,#1e64aa 48.5px,#135ea2 54.5px,#135da2 154.5px)"></i><i style="top:277px;background:linear-gradient(90deg,#2970b3 0.5px,#327aba 22.5px,#3981bf 33.5px,#2971b3 41.5px,#1f64aa 45.5px,#135ea2 51.5px,#135da2 154.5px)"></i><i style="top:278px;background:linear-gradient(90deg,#286eb2 0.5px,#3981bf 29.5px,#2b73b5 37.5px,#1f65aa 42.5px,#145ea3 48.5px,#135da2 154.5px)"></i><i style="top:279px;background:linear-gradient(90deg,#286fb2 0.5px,#3981bf 25.5px,#2d75b6 33.5px,#1e64aa 39.5px,#135ea2 46.5px,#135da2 154.5px)"></i><i style="top:280px;background:linear-gradient(90deg,#2a72b4 0.5px,#3981bf 21.5px,#3179b9 28.5px,#1d64aa 36.5px,#135ea2 43.5px,#135da2 154.5px)"></i><i style="top:281px;background:linear-gradient(90deg,#2e76b7 0.5px,#3981bf 17.5px,#327aba 24.5px,#1f65aa 32.5px,#145ea3 39.5px,#135da2 154.5px)"></i><i style="top:282px;background:linear-gradient(90deg,#327aba 0.5px,#3981bf 14.5px,#2d75b6 23.5px,#1e64aa 29.5px,#135ea2 36.5px,#135da2 154.5px)"></i><i style="top:283px;background:linear-gradient(90deg,#357dbd 0.5px,#3880bf 11.5px,#276db1 22.5px,#1b63a8 27.5px,#135da2 35.5px,#135da2 154.5px)"></i><i style="top:284px;background:linear-gradient(90deg,#3880bf 0.5px,#367ebd 9.5px,#1a62a8 24.5px,#135da2 32.5px,#135da2 154.5px)"></i><i style="top:285px;background:linear-gradient(90deg,#3981bf 0.5px,#2d75b7 10.5px,#1f64aa 18.5px,#135ea2 27.5px,#135da2 154.5px)"></i><i style="top:286px;background:linear-gradient(90deg,#367ebd 0.5px,#1e64aa 14.5px,#135ea2 23.5px,#135da2 154.5px)"></i><i style="top:287px;background:linear-gradient(90deg,#2f77b8 0.5px,#1d64a9 10.5px,#135ea2 19.5px,#135da2 154.5px)"></i><i style="top:288px;background:linear-gradient(90deg,#276eb1 0.5px,#1c63a9 6.5px,#135da2 16.5px,#135da2 154.5px)"></i><i style="top:289px;background:linear-gradient(90deg,#1f65ab 0.5px,#145ea3 9.5px,#135da2 154.5px)"></i><i style="top:290px;background:linear-gradient(90deg,#1861a6 0.5px,#135da2 15.5px,#135da2 154.5px)"></i><i style="top:291px;background:linear-gradient(90deg,#145ea3 0.5px,#135da2 154.5px)"></i><i style="top:292px;background:linear-gradient(90deg,#135da2 0.5px,#135da2 154.5px)"></i><i style="top:293px;background:linear-gradient(90deg,#135da2 0.5px,#135da2 154.5px)"></i><i style="top:294px;background:linear-gradient(90deg,#135da2 0.5px,#135da2 154.5px)"></i><i style="top:295px;background:linear-gradient(90deg,#135da2 0.5px,#135da2 154.5px)"></i><i style="top:296px;background:linear-gradient(90deg,#135da2 0.5px,#135da2 154.5px)"></i><i style="top:297px;background:linear-gradient(90deg,#135da2 0.5px,#135da2 154.5px)"></i><i style="top:298px;background:linear-gradient(90deg,#135da2 0.5px,#135da2 154.5px)"></i><i style="top:299px;background:linear-gradient(90deg,#135da2 0.5px,#135da2 154.5px)"></i><i style="top:300px;background:linear-gradient(90deg,#135da2 0.5px,#135da2 154.5px)"></i><i style="top:301px;background:linear-gradient(90deg,#135da2 0.5px,#135da2 154.5px)"></i><i style="top:302px;background:linear-gradient(90deg,#135da2 0.5px,#135da2 154.5px)"></i><i style="top:303px;background:linear-gradient(90deg,#135da2 0.5px,#135da2 154.5px)"></i><i style="top:304px;background:linear-gradient(90deg,#135da2 0.5px,#135da2 154.5px)"></i><i style="top:305px;background:linear-gradient(90deg,#135da2 0.5px,#135da2 154.5px)"></i><i style="top:306px;background:linear-gradient(90deg,#135da2 0.5px,#135da2 154.5px)"></i><i style="top:307px;background:linear-gradient(90deg,#135da2 0.5px,#135da2 154.5px)"></i><i style="top:308px;background:linear-gradient(90deg,#135da2 0.5px,#135da2 154.5px)"></i><i style="top:309px;background:linear-gradient(90deg,#135da2 0.5px,#135da2 154.5px)"></i><i style="top:310px;background:linear-gradient(90deg,#135da2 0.5px,#135da2 154.5px)"></i><i style="top:311px;background:linear-gradient(90deg,#135da2 0.5px,#135da2 154.5px)"></i><i style="top:312px;background:linear-gradient(90deg,#135da2 0.5px,#135da2 154.5px)"></i><i style="top:313px;background:linear-gradient(90deg,#135da2 0.5px,#135da2 154.5px)"></i><i style="top:314px;background:linear-gradient(90deg,#135da2 0.5px,#135da2 154.5px)"></i><i style="top:315px;background:linear-gradient(90deg,#135da2 0.5px,#135da2 154.5px)"></i><i style="top:316px;background:linear-gradient(90deg,#135da2 0.5px,#135da2 154.5px)"></i><i style="top:317px;background:linear-gradient(90deg,#135da2 0.5px,#135da2 154.5px)"></i><i style="top:318px;background:linear-gradient(90deg,#135da2 0.5px,#135da2 154.5px)"></i><i style="top:319px;background:linear-gradient(90deg,#135da2 0.5px,#135da2 154.5px)"></i><i style="top:320px;background:linear-gradient(90deg,#135da2 0.5px,#135da2 154.5px)"></i><i style="top:321px;background:linear-gradient(90deg,#135da2 0.5px,#135da2 154.5px)"></i><i style="top:322px;background:linear-gradient(90deg,#135da2 0.5px,#135da2 154.5px)"></i></div>
<svg width="685" height="412" viewBox="0 0 685 412" text-rendering="geometricPrecision"><style>text[fill="#231f20"]{stroke:#231f20;stroke-width:0.3px}text[fill="#ffffff"]{stroke:#ffffff;stroke-width:0.3px}</style><line x1="48.8" y1="333.30" x2="55.0" y2="333.30" stroke="#231f20" stroke-width="1.3"/>
<text transform="translate(44.48,337.94) scale(1,0.9501)" font-size="17.048" font-family="Liberation Sans, sans-serif" fill="#231f20" text-anchor="end">15</text>
<line x1="48.8" y1="279.40" x2="55.0" y2="279.40" stroke="#231f20" stroke-width="1.3"/>
<text transform="translate(44.48,284.04) scale(1,0.9501)" font-size="17.048" font-family="Liberation Sans, sans-serif" fill="#231f20" text-anchor="end">20</text>
<line x1="48.8" y1="225.50" x2="55.0" y2="225.50" stroke="#231f20" stroke-width="1.3"/>
<text transform="translate(44.48,230.14) scale(1,0.9501)" font-size="17.048" font-family="Liberation Sans, sans-serif" fill="#231f20" text-anchor="end">25</text>
<line x1="48.8" y1="171.60" x2="55.0" y2="171.60" stroke="#231f20" stroke-width="1.3"/>
<text transform="translate(44.48,176.24) scale(1,0.9501)" font-size="17.048" font-family="Liberation Sans, sans-serif" fill="#231f20" text-anchor="end">30</text>
<line x1="48.8" y1="117.70" x2="55.0" y2="117.70" stroke="#231f20" stroke-width="1.3"/>
<text transform="translate(44.48,122.34) scale(1,0.9501)" font-size="17.048" font-family="Liberation Sans, sans-serif" fill="#231f20" text-anchor="end">35</text>
<line x1="48.8" y1="63.80" x2="55.0" y2="63.80" stroke="#231f20" stroke-width="1.3"/>
<text transform="translate(44.48,68.44) scale(1,0.9501)" font-size="17.048" font-family="Liberation Sans, sans-serif" fill="#231f20" text-anchor="end">40</text>
<line x1="51.6" y1="360.25" x2="55.0" y2="360.25" stroke="#231f20" stroke-width="1.3"/>
<line x1="51.6" y1="306.35" x2="55.0" y2="306.35" stroke="#231f20" stroke-width="1.3"/>
<line x1="51.6" y1="252.45" x2="55.0" y2="252.45" stroke="#231f20" stroke-width="1.3"/>
<line x1="51.6" y1="198.55" x2="55.0" y2="198.55" stroke="#231f20" stroke-width="1.3"/>
<line x1="51.6" y1="144.65" x2="55.0" y2="144.65" stroke="#231f20" stroke-width="1.3"/>
<line x1="51.6" y1="90.75" x2="55.0" y2="90.75" stroke="#231f20" stroke-width="1.3"/>
<line x1="55.00" y1="365.4" x2="55.00" y2="371.59999999999997" stroke="#231f20" stroke-width="1.3"/>
<text transform="translate(55.40,389.33) scale(1,1.0586)" font-size="15.833" font-family="Liberation Sans, sans-serif" fill="#231f20" text-anchor="middle">0</text>
<line x1="89.40" y1="365.4" x2="89.40" y2="371.59999999999997" stroke="#231f20" stroke-width="1.3"/>
<text transform="translate(89.80,389.33) scale(1,1.0586)" font-size="15.833" font-family="Liberation Sans, sans-serif" fill="#231f20" text-anchor="middle">4</text>
<line x1="123.80" y1="365.4" x2="123.80" y2="371.59999999999997" stroke="#231f20" stroke-width="1.3"/>
<text transform="translate(124.20,389.33) scale(1,1.0586)" font-size="15.833" font-family="Liberation Sans, sans-serif" fill="#231f20" text-anchor="middle">8</text>
<line x1="158.20" y1="365.4" x2="158.20" y2="371.59999999999997" stroke="#231f20" stroke-width="1.3"/>
<text transform="translate(158.60,389.33) scale(1,1.0586)" font-size="15.833" font-family="Liberation Sans, sans-serif" fill="#231f20" text-anchor="middle">12</text>
<line x1="192.60" y1="365.4" x2="192.60" y2="371.59999999999997" stroke="#231f20" stroke-width="1.3"/>
<text transform="translate(193.00,389.33) scale(1,1.0586)" font-size="15.833" font-family="Liberation Sans, sans-serif" fill="#231f20" text-anchor="middle">16</text>
<line x1="72.20" y1="365.4" x2="72.20" y2="368.9" stroke="#231f20" stroke-width="1.3"/>
<line x1="106.60" y1="365.4" x2="106.60" y2="368.9" stroke="#231f20" stroke-width="1.3"/>
<line x1="141.00" y1="365.4" x2="141.00" y2="368.9" stroke="#231f20" stroke-width="1.3"/>
<line x1="175.40" y1="365.4" x2="175.40" y2="368.9" stroke="#231f20" stroke-width="1.3"/>
<line x1="209.80" y1="365.4" x2="209.80" y2="368.9" stroke="#231f20" stroke-width="1.3"/>
<line x1="412.1" y1="334.70" x2="418.3" y2="334.70" stroke="#231f20" stroke-width="1.3"/>
<text transform="translate(407.78,339.34) scale(1,0.9501)" font-size="17.048" font-family="Liberation Sans, sans-serif" fill="#231f20" text-anchor="end">15</text>
<line x1="412.1" y1="280.80" x2="418.3" y2="280.80" stroke="#231f20" stroke-width="1.3"/>
<text transform="translate(407.78,285.44) scale(1,0.9501)" font-size="17.048" font-family="Liberation Sans, sans-serif" fill="#231f20" text-anchor="end">20</text>
<line x1="412.1" y1="226.90" x2="418.3" y2="226.90" stroke="#231f20" stroke-width="1.3"/>
<text transform="translate(407.78,231.54) scale(1,0.9501)" font-size="17.048" font-family="Liberation Sans, sans-serif" fill="#231f20" text-anchor="end">25</text>
<line x1="412.1" y1="173.00" x2="418.3" y2="173.00" stroke="#231f20" stroke-width="1.3"/>
<text transform="translate(407.78,177.64) scale(1,0.9501)" font-size="17.048" font-family="Liberation Sans, sans-serif" fill="#231f20" text-anchor="end">30</text>
<line x1="412.1" y1="119.10" x2="418.3" y2="119.10" stroke="#231f20" stroke-width="1.3"/>
<text transform="translate(407.78,123.74) scale(1,0.9501)" font-size="17.048" font-family="Liberation Sans, sans-serif" fill="#231f20" text-anchor="end">35</text>
<line x1="412.1" y1="65.20" x2="418.3" y2="65.20" stroke="#231f20" stroke-width="1.3"/>
<text transform="translate(407.78,69.84) scale(1,0.9501)" font-size="17.048" font-family="Liberation Sans, sans-serif" fill="#231f20" text-anchor="end">40</text>
<line x1="414.90000000000003" y1="361.65" x2="418.3" y2="361.65" stroke="#231f20" stroke-width="1.3"/>
<line x1="414.90000000000003" y1="307.75" x2="418.3" y2="307.75" stroke="#231f20" stroke-width="1.3"/>
<line x1="414.90000000000003" y1="253.85" x2="418.3" y2="253.85" stroke="#231f20" stroke-width="1.3"/>
<line x1="414.90000000000003" y1="199.95" x2="418.3" y2="199.95" stroke="#231f20" stroke-width="1.3"/>
<line x1="414.90000000000003" y1="146.05" x2="418.3" y2="146.05" stroke="#231f20" stroke-width="1.3"/>
<line x1="414.90000000000003" y1="92.15" x2="418.3" y2="92.15" stroke="#231f20" stroke-width="1.3"/>
<line x1="418.30" y1="366.7" x2="418.30" y2="372.9" stroke="#231f20" stroke-width="1.3"/>
<text transform="translate(418.70,390.63) scale(1,1.0586)" font-size="15.833" font-family="Liberation Sans, sans-serif" fill="#231f20" text-anchor="middle">0</text>
<line x1="452.57" y1="366.7" x2="452.57" y2="372.9" stroke="#231f20" stroke-width="1.3"/>
<text transform="translate(452.97,390.63) scale(1,1.0586)" font-size="15.833" font-family="Liberation Sans, sans-serif" fill="#231f20" text-anchor="middle">4</text>
<line x1="486.83" y1="366.7" x2="486.83" y2="372.9" stroke="#231f20" stroke-width="1.3"/>
<text transform="translate(487.23,390.63) scale(1,1.0586)" font-size="15.833" font-family="Liberation Sans, sans-serif" fill="#231f20" text-anchor="middle">8</text>
<line x1="521.10" y1="366.7" x2="521.10" y2="372.9" stroke="#231f20" stroke-width="1.3"/>
<text transform="translate(521.50,390.63) scale(1,1.0586)" font-size="15.833" font-family="Liberation Sans, sans-serif" fill="#231f20" text-anchor="middle">12</text>
<line x1="555.37" y1="366.7" x2="555.37" y2="372.9" stroke="#231f20" stroke-width="1.3"/>
<text transform="translate(555.77,390.63) scale(1,1.0586)" font-size="15.833" font-family="Liberation Sans, sans-serif" fill="#231f20" text-anchor="middle">16</text>
<line x1="435.43" y1="366.7" x2="435.43" y2="370.2" stroke="#231f20" stroke-width="1.3"/>
<line x1="469.70" y1="366.7" x2="469.70" y2="370.2" stroke="#231f20" stroke-width="1.3"/>
<line x1="503.97" y1="366.7" x2="503.97" y2="370.2" stroke="#231f20" stroke-width="1.3"/>
<line x1="538.23" y1="366.7" x2="538.23" y2="370.2" stroke="#231f20" stroke-width="1.3"/>
<line x1="572.50" y1="366.7" x2="572.50" y2="370.2" stroke="#231f20" stroke-width="1.3"/>
<text transform="translate(362.39,19.25) scale(1,0.8958)" font-size="28.444" font-family="Liberation Sans, sans-serif" fill="#231f20">b</text>
<text transform="translate(-3.43,19.26) scale(1,0.8565)" font-size="28.444" font-family="Liberation Sans, sans-serif" fill="#231f20">a</text>
<text transform="translate(102.55,406.70) scale(1,0.7831)" font-size="25.000"  fill="#231f20" font-family="Liberation Serif" font-style="italic" >θ</text>
<text transform="translate(117.39,406.50) scale(1,0.9910)" font-size="20.181" font-family="Liberation Sans, sans-serif" fill="#231f20"  >(deg)</text>
<text transform="translate(465.85,408.00) scale(1,0.7831)" font-size="25.000"  fill="#231f20" font-family="Liberation Serif" font-style="italic" >θ</text>
<text transform="translate(480.69,407.80) scale(1,0.9910)" font-size="20.181" font-family="Liberation Sans, sans-serif" fill="#231f20"  >(deg)</text>
<text transform="translate(17.18,204.76) rotate(-90) scale(0.9697,1)" font-size="20.108" font-family="Liberation Sans, sans-serif" fill="#231f20" text-anchor="middle"><tspan font-style="italic">H</tspan> (T)</text>
<text transform="translate(380.94,205.00) rotate(-90) scale(0.9549,1)" font-size="20.753" font-family="Liberation Sans, sans-serif" fill="#231f20" text-anchor="middle"><tspan font-style="italic">H</tspan> (T)</text>
<text transform="translate(97.86,79.00) scale(1,1.0282)" font-size="20.439" font-family="Liberation Sans, sans-serif" fill="#ffffff"  >FP</text>
<text transform="translate(108.80,200.69) scale(1,1.0394)" font-size="20.054" font-family="Liberation Sans, sans-serif" fill="#ffffff"  >SC2</text>
<text transform="translate(95.84,330.31) scale(1,0.9808)" font-size="19.243" font-family="Liberation Sans, sans-serif" fill="#ffffff"  >SC1</text>
<text transform="translate(162.51,351.50) scale(1,1.0164)" font-size="19.677" font-family="Liberation Sans, sans-serif" fill="#ffffff" font-weight="bold" >J <tspan font-weight="normal">||</tspan> a</text>
<text transform="translate(471.01,85.70) scale(1,1.0162)" font-size="19.825" font-family="Liberation Sans, sans-serif" fill="#ffffff"  >FP</text>
<text transform="translate(492.51,167.11) scale(1,0.9495)" font-size="19.730" font-family="Liberation Sans, sans-serif" fill="#ffffff"  >SC2</text>
<text transform="translate(456.66,353.31) scale(1,1.0166)" font-size="18.703" font-family="Liberation Sans, sans-serif" fill="#ffffff"  >SC1</text>
<text transform="translate(519.50,355.40) scale(1,1.0047)" font-size="19.907" font-family="Liberation Sans, sans-serif" fill="#ffffff" font-weight="bold" >J <tspan font-weight="normal">||</tspan> c</text>
<text transform="translate(420.06,221.56) scale(1,0.9897)" font-size="14.118" font-family="Liberation Sans, sans-serif" fill="#231f20"  >flux</text>
<text transform="translate(420.06,239.06) scale(1,0.9679)" font-size="14.294" font-family="Liberation Sans, sans-serif" fill="#231f20"  >flow</text>
<path d="M55,114.4 C90,114.2 120,114 140,112.2 C165,109.5 190,106 210,103.3" fill="none" stroke="#111" stroke-width="1.7"/>
<path d="M94,283.2 C120,283 145,283 160,281 C180,278.5 195,272 210,266.2" fill="none" stroke="#111" stroke-width="2.0" stroke-dasharray="5.2,3.3"/>
<path d="M418.3,136.9 C450,134.8 480,132.3 500,129.4 C530,125 555,120.5 572.5,117.2" fill="none" stroke="#111" stroke-width="1.7"/>
<rect x="55.0" y="42.3" width="154.80" height="323.10" fill="none" stroke="#231f20" stroke-width="1.35"/>
<rect x="418.3" y="43.7" width="154.20" height="323.00" fill="none" stroke="#231f20" stroke-width="1.35"/>
<defs><linearGradient id="cg" x1="0" y1="1" x2="0" y2="0"><stop offset="0.000" stop-color="#145a9e"/><stop offset="0.032" stop-color="#1c60a8"/><stop offset="0.078" stop-color="#2a74b6"/><stop offset="0.140" stop-color="#3d88c4"/><stop offset="0.202" stop-color="#64a1d0"/><stop offset="0.264" stop-color="#80b6da"/><stop offset="0.300" stop-color="#9ac4e2"/><stop offset="0.357" stop-color="#b5d3ea"/><stop offset="0.434" stop-color="#d6e6f4"/><stop offset="0.480" stop-color="#e6e9ef"/><stop offset="0.512" stop-color="#f0e4e0"/><stop offset="0.536" stop-color="#fbded2"/><stop offset="0.573" stop-color="#fbc8b0"/><stop offset="0.620" stop-color="#f8a888"/><stop offset="0.682" stop-color="#f88c6c"/><stop offset="0.760" stop-color="#f66848"/><stop offset="0.800" stop-color="#f0503c"/><stop offset="0.850" stop-color="#e2302a"/><stop offset="0.920" stop-color="#cc1a1f"/><stop offset="1.000" stop-color="#a8121a"/></linearGradient></defs>
<rect x="234.7" y="42.2" width="42" height="323.2" fill="url(#cg)"/>
<rect x="597.6" y="44.1" width="41.9" height="322.2" fill="url(#cg)"/>
<rect x="234.7" y="46.2" width="42.0" height="1.2" fill="#fff" fill-opacity="0.09"/>
<rect x="234.7" y="51.0" width="42.0" height="1.2" fill="#fff" fill-opacity="0.09"/>
<rect x="234.7" y="57.5" width="42.0" height="1.2" fill="#fff" fill-opacity="0.09"/>
<rect x="234.7" y="63.0" width="42.0" height="1.2" fill="#fff" fill-opacity="0.09"/>
<rect x="234.7" y="69.9" width="42.0" height="1.2" fill="#fff" fill-opacity="0.09"/>
<rect x="234.7" y="76.8" width="42.0" height="1.2" fill="#fff" fill-opacity="0.09"/>
<rect x="234.7" y="80.7" width="42.0" height="1.2" fill="#fff" fill-opacity="0.09"/>
<rect x="234.7" y="84.2" width="42.0" height="1.2" fill="#fff" fill-opacity="0.09"/>
<rect x="234.7" y="92.3" width="42.0" height="1.2" fill="#fff" fill-opacity="0.09"/>
<rect x="234.7" y="97.3" width="42.0" height="1.2" fill="#fff" fill-opacity="0.09"/>
<rect x="234.7" y="102.1" width="42.0" height="1.2" fill="#fff" fill-opacity="0.09"/>
<rect x="234.7" y="111.0" width="42.0" height="1.2" fill="#fff" fill-opacity="0.09"/>
<rect x="234.7" y="117.1" width="42.0" height="1.2" fill="#fff" fill-opacity="0.09"/>
<rect x="234.7" y="125.2" width="42.0" height="1.2" fill="#fff" fill-opacity="0.09"/>
<rect x="234.7" y="131.3" width="42.0" height="1.2" fill="#fff" fill-opacity="0.09"/>
<rect x="234.7" y="138.4" width="42.0" height="1.2" fill="#fff" fill-opacity="0.09"/>
<rect x="234.7" y="142.7" width="42.0" height="1.2" fill="#fff" fill-opacity="0.09"/>
<rect x="234.7" y="149.7" width="42.0" height="1.2" fill="#fff" fill-opacity="0.09"/>
<rect x="234.7" y="157.9" width="42.0" height="1.2" fill="#fff" fill-opacity="0.09"/>
<rect x="234.7" y="164.3" width="42.0" height="1.2" fill="#fff" fill-opacity="0.09"/>
<rect x="234.7" y="171.9" width="42.0" height="1.2" fill="#fff" fill-opacity="0.09"/>
<rect x="234.7" y="179.1" width="42.0" height="1.2" fill="#fff" fill-opacity="0.09"/>
<rect x="234.7" y="182.9" width="42.0" height="1.2" fill="#fff" fill-opacity="0.09"/>
<rect x="234.7" y="190.6" width="42.0" height="1.2" fill="#fff" fill-opacity="0.09"/>
<rect x="234.7" y="197.4" width="42.0" height="1.2" fill="#fff" fill-opacity="0.09"/>
<rect x="234.7" y="202.5" width="42.0" height="1.2" fill="#fff" fill-opacity="0.09"/>
<rect x="234.7" y="206.2" width="42.0" height="1.2" fill="#fff" fill-opacity="0.09"/>
<rect x="234.7" y="214.5" width="42.0" height="1.2" fill="#fff" fill-opacity="0.09"/>
<rect x="234.7" y="220.6" width="42.0" height="1.2" fill="#fff" fill-opacity="0.09"/>
<rect x="234.7" y="228.0" width="42.0" height="1.2" fill="#fff" fill-opacity="0.09"/>
<rect x="234.7" y="236.3" width="42.0" height="1.2" fill="#fff" fill-opacity="0.09"/>
<rect x="234.7" y="243.8" width="42.0" height="1.2" fill="#fff" fill-opacity="0.09"/>
<rect x="234.7" y="252.3" width="42.0" height="1.2" fill="#fff" fill-opacity="0.09"/>
<rect x="234.7" y="258.0" width="42.0" height="1.2" fill="#fff" fill-opacity="0.09"/>
<rect x="234.7" y="265.9" width="42.0" height="1.2" fill="#fff" fill-opacity="0.09"/>
<rect x="234.7" y="271.9" width="42.0" height="1.2" fill="#fff" fill-opacity="0.09"/>
<rect x="234.7" y="280.5" width="42.0" height="1.2" fill="#fff" fill-opacity="0.09"/>
<rect x="234.7" y="288.8" width="42.0" height="1.2" fill="#fff" fill-opacity="0.09"/>
<rect x="234.7" y="292.9" width="42.0" height="1.2" fill="#fff" fill-opacity="0.09"/>
<rect x="234.7" y="297.1" width="42.0" height="1.2" fill="#fff" fill-opacity="0.09"/>
<rect x="234.7" y="301.8" width="42.0" height="1.2" fill="#fff" fill-opacity="0.09"/>
<rect x="234.7" y="310.6" width="42.0" height="1.2" fill="#fff" fill-opacity="0.09"/>
<rect x="234.7" y="316.5" width="42.0" height="1.2" fill="#fff" fill-opacity="0.09"/>
<rect x="234.7" y="323.5" width="42.0" height="1.2" fill="#fff" fill-opacity="0.09"/>
<rect x="234.7" y="328.6" width="42.0" height="1.2" fill="#fff" fill-opacity="0.09"/>
<rect x="234.7" y="334.9" width="42.0" height="1.2" fill="#fff" fill-opacity="0.09"/>
<rect x="234.7" y="340.5" width="42.0" height="1.2" fill="#fff" fill-opacity="0.09"/>
<rect x="234.7" y="346.0" width="42.0" height="1.2" fill="#fff" fill-opacity="0.09"/>
<rect x="234.7" y="352.7" width="42.0" height="1.2" fill="#fff" fill-opacity="0.09"/>
<rect x="234.7" y="359.4" width="42.0" height="1.2" fill="#fff" fill-opacity="0.09"/>
<rect x="597.6" y="48.1" width="41.9" height="1.2" fill="#fff" fill-opacity="0.09"/>
<rect x="597.6" y="55.4" width="41.9" height="1.2" fill="#fff" fill-opacity="0.09"/>
<rect x="597.6" y="64.0" width="41.9" height="1.2" fill="#fff" fill-opacity="0.09"/>
<rect x="597.6" y="72.2" width="41.9" height="1.2" fill="#fff" fill-opacity="0.09"/>
<rect x="597.6" y="81.1" width="41.9" height="1.2" fill="#fff" fill-opacity="0.09"/>
<rect x="597.6" y="88.3" width="41.9" height="1.2" fill="#fff" fill-opacity="0.09"/>
<rect x="597.6" y="92.7" width="41.9" height="1.2" fill="#fff" fill-opacity="0.09"/>
<rect x="597.6" y="100.9" width="41.9" height="1.2" fill="#fff" fill-opacity="0.09"/>
<rect x="597.6" y="109.7" width="41.9" height="1.2" fill="#fff" fill-opacity="0.09"/>
<rect x="597.6" y="118.2" width="41.9" height="1.2" fill="#fff" fill-opacity="0.09"/>
<rect x="597.6" y="124.9" width="41.9" height="1.2" fill="#fff" fill-opacity="0.09"/>
<rect x="597.6" y="132.3" width="41.9" height="1.2" fill="#fff" fill-opacity="0.09"/>
<rect x="597.6" y="136.9" width="41.9" height="1.2" fill="#fff" fill-opacity="0.09"/>
<rect x="597.6" y="145.0" width="41.9" height="1.2" fill="#fff" fill-opacity="0.09"/>
<rect x="597.6" y="151.7" width="41.9" height="1.2" fill="#fff" fill-opacity="0.09"/>
<rect x="597.6" y="156.7" width="41.9" height="1.2" fill="#fff" fill-opacity="0.09"/>
<rect x="597.6" y="160.6" width="41.9" height="1.2" fill="#fff" fill-opacity="0.09"/>
<rect x="597.6" y="168.8" width="41.9" height="1.2" fill="#fff" fill-opacity="0.09"/>
<rect x="597.6" y="177.7" width="41.9" height="1.2" fill="#fff" fill-opacity="0.09"/>
<rect x="597.6" y="181.7" width="41.9" height="1.2" fill="#fff" fill-opacity="0.09"/>
<rect x="597.6" y="189.6" width="41.9" height="1.2" fill="#fff" fill-opacity="0.09"/>
<rect x="597.6" y="195.4" width="41.9" height="1.2" fill="#fff" fill-opacity="0.09"/>
<rect x="597.6" y="199.7" width="41.9" height="1.2" fill="#fff" fill-opacity="0.09"/>
<rect x="597.6" y="204.8" width="41.9" height="1.2" fill="#fff" fill-opacity="0.09"/>
<rect x="597.6" y="212.5" width="41.9" height="1.2" fill="#fff" fill-opacity="0.09"/>
<rect x="597.6" y="220.8" width="41.9" height="1.2" fill="#fff" fill-opacity="0.09"/>
<rect x="597.6" y="224.6" width="41.9" height="1.2" fill="#fff" fill-opacity="0.09"/>
<rect x="597.6" y="231.5" width="41.9" height="1.2" fill="#fff" fill-opacity="0.09"/>
<rect x="597.6" y="235.2" width="41.9" height="1.2" fill="#fff" fill-opacity="0.09"/>
<rect x="597.6" y="242.7" width="41.9" height="1.2" fill="#fff" fill-opacity="0.09"/>
<rect x="597.6" y="248.0" width="41.9" height="1.2" fill="#fff" fill-opacity="0.09"/>
<rect x="597.6" y="256.3" width="41.9" height="1.2" fill="#fff" fill-opacity="0.09"/>
<rect x="597.6" y="265.2" width="41.9" height="1.2" fill="#fff" fill-opacity="0.09"/>
<rect x="597.6" y="271.5" width="41.9" height="1.2" fill="#fff" fill-opacity="0.09"/>
<rect x="597.6" y="280.5" width="41.9" height="1.2" fill="#fff" fill-opacity="0.09"/>
<rect x="597.6" y="285.7" width="41.9" height="1.2" fill="#fff" fill-opacity="0.09"/>
<rect x="597.6" y="289.6" width="41.9" height="1.2" fill="#fff" fill-opacity="0.09"/>
<rect x="597.6" y="296.4" width="41.9" height="1.2" fill="#fff" fill-opacity="0.09"/>
<rect x="597.6" y="300.1" width="41.9" height="1.2" fill="#fff" fill-opacity="0.09"/>
<rect x="597.6" y="304.7" width="41.9" height="1.2" fill="#fff" fill-opacity="0.09"/>
<rect x="597.6" y="310.4" width="41.9" height="1.2" fill="#fff" fill-opacity="0.09"/>
<rect x="597.6" y="317.3" width="41.9" height="1.2" fill="#fff" fill-opacity="0.09"/>
<rect x="597.6" y="321.6" width="41.9" height="1.2" fill="#fff" fill-opacity="0.09"/>
<rect x="597.6" y="325.4" width="41.9" height="1.2" fill="#fff" fill-opacity="0.09"/>
<rect x="597.6" y="333.7" width="41.9" height="1.2" fill="#fff" fill-opacity="0.09"/>
<rect x="597.6" y="338.9" width="41.9" height="1.2" fill="#fff" fill-opacity="0.09"/>
<rect x="597.6" y="347.6" width="41.9" height="1.2" fill="#fff" fill-opacity="0.09"/>
<rect x="597.6" y="356.1" width="41.9" height="1.2" fill="#fff" fill-opacity="0.09"/>
<rect x="597.6" y="361.7" width="41.9" height="1.2" fill="#fff" fill-opacity="0.09"/>
<rect x="234.7" y="42.2" width="42.00" height="323.20" fill="none" stroke="#231f20" stroke-width="1.1"/>
<line x1="276.7" y1="45.9" x2="282.9" y2="45.9" stroke="#231f20" stroke-width="1.1"/>
<text transform="translate(288.31,51.14) scale(1,1.0124)" font-size="15.860" font-family="Liberation Sans, sans-serif" fill="#231f20" >143.0</text>
<line x1="276.7" y1="68.5" x2="282.9" y2="68.5" stroke="#231f20" stroke-width="1.1"/>
<text transform="translate(288.31,73.74) scale(1,1.0124)" font-size="15.860" font-family="Liberation Sans, sans-serif" fill="#231f20" >90.0</text>
<line x1="276.7" y1="88.3" x2="282.9" y2="88.3" stroke="#231f20" stroke-width="1.1"/>
<text transform="translate(288.31,93.54) scale(1,1.0124)" font-size="15.860" font-family="Liberation Sans, sans-serif" fill="#231f20" >60.0</text>
<line x1="276.7" y1="121.2" x2="282.9" y2="121.2" stroke="#231f20" stroke-width="1.1"/>
<text transform="translate(288.31,126.44) scale(1,1.0124)" font-size="15.860" font-family="Liberation Sans, sans-serif" fill="#231f20" >30.0</text>
<line x1="276.7" y1="345.0" x2="282.9" y2="345.0" stroke="#231f20" stroke-width="1.1"/>
<text transform="translate(288.31,350.24) scale(1,1.0124)" font-size="15.860" font-family="Liberation Sans, sans-serif" fill="#231f20" >0.3</text>
<rect x="597.6" y="44.1" width="41.90" height="322.20" fill="none" stroke="#231f20" stroke-width="1.1"/>
<line x1="639.5" y1="51.8" x2="645.7" y2="51.8" stroke="#231f20" stroke-width="1.1"/>
<text transform="translate(650.91,57.04) scale(1,1.0124)" font-size="15.860" font-family="Liberation Sans, sans-serif" fill="#231f20" >1000</text>
<line x1="639.5" y1="68.8" x2="645.7" y2="68.8" stroke="#231f20" stroke-width="1.1"/>
<text transform="translate(650.91,74.04) scale(1,1.0124)" font-size="15.860" font-family="Liberation Sans, sans-serif" fill="#231f20" >750</text>
<line x1="639.5" y1="92.4" x2="645.7" y2="92.4" stroke="#231f20" stroke-width="1.1"/>
<text transform="translate(650.91,97.64) scale(1,1.0124)" font-size="15.860" font-family="Liberation Sans, sans-serif" fill="#231f20" >500</text>
<line x1="639.5" y1="133.4" x2="645.7" y2="133.4" stroke="#231f20" stroke-width="1.1"/>
<text transform="translate(650.91,138.64) scale(1,1.0124)" font-size="15.860" font-family="Liberation Sans, sans-serif" fill="#231f20" >250</text>
<line x1="639.5" y1="363.6" x2="645.7" y2="363.6" stroke="#231f20" stroke-width="1.1"/>
<text transform="translate(650.91,368.84) scale(1,1.0124)" font-size="15.860" font-family="Liberation Sans, sans-serif" fill="#231f20" >5</text>
<text transform="translate(228.50,29.43) scale(0.20111,0.19897)" font-size="100" font-family="Liberation Sans, sans-serif" fill="#231f20" style="stroke-width:1.5px"  ><tspan font-style="italic">ρ</tspan><tspan font-size="58" dy="24.5">a</tspan><tspan dy="-24.5">(μΩ·cm)</tspan></text>
<text transform="translate(576.40,31.23) scale(0.19888,0.19897)" font-size="100" font-family="Liberation Sans, sans-serif" fill="#231f20" style="stroke-width:1.5px"  ><tspan font-style="italic">ρ</tspan><tspan font-size="58" dy="24.5">c</tspan><tspan dy="-24.5">(μΩ·cm)</tspan></text></svg>
</body></html>
